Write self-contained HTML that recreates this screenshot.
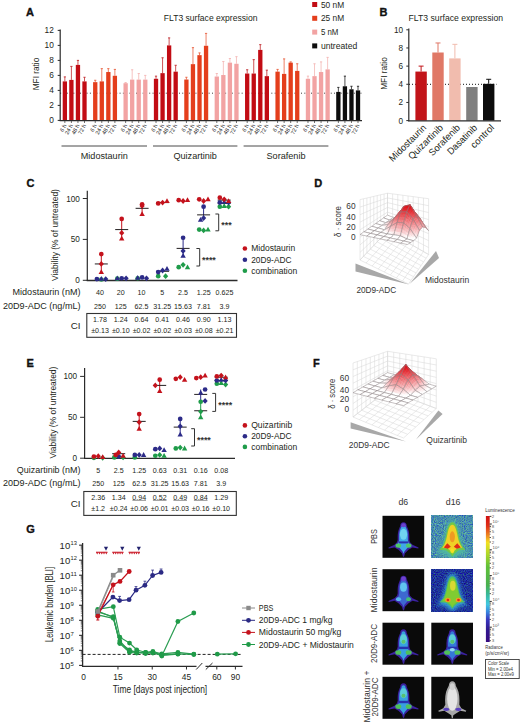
<!DOCTYPE html>
<html><head><meta charset="utf-8"><title>Figure</title>
<style>
html,body{margin:0;padding:0;background:#fff;}
svg{display:block;font-family:"Liberation Sans", sans-serif;}
</style></head>
<body>
<svg width="520" height="724" viewBox="0 0 520 724">
<rect width="520" height="724" fill="#fff"/>

<defs>
<linearGradient id="cbar" x1="0" y1="0" x2="0" y2="1">
<stop offset="0" stop-color="#d01010"/>
<stop offset="0.08" stop-color="#e03018"/>
<stop offset="0.16" stop-color="#f09020"/>
<stop offset="0.21" stop-color="#f4e020"/>
<stop offset="0.3" stop-color="#b0d828"/>
<stop offset="0.4" stop-color="#60c038"/>
<stop offset="0.55" stop-color="#48b050"/>
<stop offset="0.62" stop-color="#38b898"/>
<stop offset="0.7" stop-color="#40c8e0"/>
<stop offset="0.76" stop-color="#3888e0"/>
<stop offset="0.82" stop-color="#3838c0"/>
<stop offset="0.9" stop-color="#301890"/>
<stop offset="1" stop-color="#380a80"/>
</linearGradient>
<clipPath id="mclip"><rect x="0" y="0" width="41.7" height="42"/></clipPath>
<filter id="bl1" x="-20%" y="-20%" width="140%" height="140%"><feGaussianBlur stdDeviation="0.55"/></filter>
<filter id="bl2" x="-20%" y="-20%" width="140%" height="140%"><feGaussianBlur stdDeviation="1.6"/></filter>
<filter id="nzA" x="0" y="0" width="100%" height="100%" color-interpolation-filters="sRGB"><feTurbulence type="fractalNoise" baseFrequency="0.9" numOctaves="1" seed="4"/>
<feColorMatrix type="matrix" values="0.5 0 0 0 0.03  0.9 0 0 0 0.1  -0.3 0.5 0 0 0.58  0 0 0 0 1"/></filter>
<filter id="nzB" x="0" y="0" width="100%" height="100%" color-interpolation-filters="sRGB"><feTurbulence type="fractalNoise" baseFrequency="0.9" numOctaves="1" seed="7"/>
<feColorMatrix type="matrix" values="0.2 0 0 0 0.02  0.8 0 0 0 -0.2  0 0.6 0 0 0.3  0 0 0 0 1"/></filter>
</defs>

<text x="26.00" y="15.50" font-size="11" font-weight="bold" fill="#111" stroke="#111" stroke-width="0.35">A</text>
<text x="163.80" y="21.00" font-size="8.6" fill="#231f20" textLength="93.7" lengthAdjust="spacingAndGlyphs">FLT3 surface expression</text>
<line x1="60.20" y1="29.50" x2="60.20" y2="121.00" stroke="#2b2b2b" stroke-width="1.2" />
<line x1="57.70" y1="120.40" x2="60.20" y2="120.40" stroke="#2b2b2b" stroke-width="1" />
<text x="53.80" y="123.30" font-size="8.3" fill="#231f20" text-anchor="end">0</text>
<line x1="57.70" y1="105.40" x2="60.20" y2="105.40" stroke="#2b2b2b" stroke-width="1" />
<text x="53.80" y="108.30" font-size="8.3" fill="#231f20" text-anchor="end">2</text>
<line x1="57.70" y1="90.40" x2="60.20" y2="90.40" stroke="#2b2b2b" stroke-width="1" />
<text x="53.80" y="93.30" font-size="8.3" fill="#231f20" text-anchor="end">4</text>
<line x1="57.70" y1="75.40" x2="60.20" y2="75.40" stroke="#2b2b2b" stroke-width="1" />
<text x="53.80" y="78.30" font-size="8.3" fill="#231f20" text-anchor="end">6</text>
<line x1="57.70" y1="60.40" x2="60.20" y2="60.40" stroke="#2b2b2b" stroke-width="1" />
<text x="53.80" y="63.30" font-size="8.3" fill="#231f20" text-anchor="end">8</text>
<line x1="57.70" y1="45.40" x2="60.20" y2="45.40" stroke="#2b2b2b" stroke-width="1" />
<text x="53.80" y="48.30" font-size="8.3" fill="#231f20" text-anchor="end">10</text>
<line x1="57.70" y1="30.40" x2="60.20" y2="30.40" stroke="#2b2b2b" stroke-width="1" />
<text x="53.80" y="33.30" font-size="8.3" fill="#231f20" text-anchor="end">12</text>
<text x="39.30" y="74.00" font-size="9.4" fill="#231f20" text-anchor="middle" textLength="32.5" lengthAdjust="spacingAndGlyphs" transform="rotate(-90 39.30 74.00)">MFI ratio</text>
<line x1="60.20" y1="93.20" x2="362.00" y2="93.20" stroke="#111" stroke-width="0.9" stroke-dasharray="0.9 2.4"/>
<line x1="64.85" y1="81.40" x2="64.85" y2="76.90" stroke="#c0282c" stroke-width="0.8" />
<line x1="63.75" y1="76.90" x2="65.95" y2="76.90" stroke="#c0282c" stroke-width="0.9" />
<rect x="62.70" y="81.40" width="4.30" height="39.00" fill="#c20c14" />
<line x1="64.85" y1="120.40" x2="64.85" y2="123.00" stroke="#333" stroke-width="0.7" />
<text x="66.65" y="125.40" font-size="5.6" fill="#222" text-anchor="end" transform="rotate(-62 66.65 125.40)">6 h</text>
<line x1="71.40" y1="79.90" x2="71.40" y2="66.40" stroke="#c0282c" stroke-width="0.8" />
<line x1="70.30" y1="66.40" x2="72.50" y2="66.40" stroke="#c0282c" stroke-width="0.9" />
<rect x="69.25" y="79.90" width="4.30" height="40.50" fill="#c20c14" />
<line x1="71.40" y1="120.40" x2="71.40" y2="123.00" stroke="#333" stroke-width="0.7" />
<text x="73.20" y="125.40" font-size="5.6" fill="#222" text-anchor="end" transform="rotate(-62 73.20 125.40)">24 h</text>
<line x1="77.95" y1="64.90" x2="77.95" y2="60.40" stroke="#c0282c" stroke-width="0.8" />
<line x1="76.85" y1="60.40" x2="79.05" y2="60.40" stroke="#c0282c" stroke-width="0.9" />
<rect x="75.80" y="64.90" width="4.30" height="55.50" fill="#c20c14" />
<line x1="77.95" y1="120.40" x2="77.95" y2="123.00" stroke="#333" stroke-width="0.7" />
<text x="79.75" y="125.40" font-size="5.6" fill="#222" text-anchor="end" transform="rotate(-62 79.75 125.40)">48 h</text>
<line x1="84.50" y1="81.40" x2="84.50" y2="77.28" stroke="#c0282c" stroke-width="0.8" />
<line x1="83.40" y1="77.28" x2="85.60" y2="77.28" stroke="#c0282c" stroke-width="0.9" />
<rect x="82.35" y="81.40" width="4.30" height="39.00" fill="#c20c14" />
<line x1="84.50" y1="120.40" x2="84.50" y2="123.00" stroke="#333" stroke-width="0.7" />
<text x="86.30" y="125.40" font-size="5.6" fill="#222" text-anchor="end" transform="rotate(-62 86.30 125.40)">72 h</text>
<line x1="95.24" y1="82.15" x2="95.24" y2="80.28" stroke="#e8603f" stroke-width="0.8" />
<line x1="94.14" y1="80.28" x2="96.34" y2="80.28" stroke="#e8603f" stroke-width="0.9" />
<rect x="93.09" y="82.15" width="4.30" height="38.25" fill="#e43e1c" />
<line x1="95.24" y1="120.40" x2="95.24" y2="123.00" stroke="#333" stroke-width="0.7" />
<text x="97.04" y="125.40" font-size="5.6" fill="#222" text-anchor="end" transform="rotate(-62 97.04 125.40)">6 h</text>
<line x1="101.79" y1="81.40" x2="101.79" y2="68.65" stroke="#e8603f" stroke-width="0.8" />
<line x1="100.69" y1="68.65" x2="102.89" y2="68.65" stroke="#e8603f" stroke-width="0.9" />
<rect x="99.64" y="81.40" width="4.30" height="39.00" fill="#e43e1c" />
<line x1="101.79" y1="120.40" x2="101.79" y2="123.00" stroke="#333" stroke-width="0.7" />
<text x="103.59" y="125.40" font-size="5.6" fill="#222" text-anchor="end" transform="rotate(-62 103.59 125.40)">24 h</text>
<line x1="108.34" y1="72.03" x2="108.34" y2="68.65" stroke="#e8603f" stroke-width="0.8" />
<line x1="107.24" y1="68.65" x2="109.44" y2="68.65" stroke="#e8603f" stroke-width="0.9" />
<rect x="106.19" y="72.03" width="4.30" height="48.38" fill="#e43e1c" />
<line x1="108.34" y1="120.40" x2="108.34" y2="123.00" stroke="#333" stroke-width="0.7" />
<text x="110.14" y="125.40" font-size="5.6" fill="#222" text-anchor="end" transform="rotate(-62 110.14 125.40)">48 h</text>
<line x1="114.89" y1="75.78" x2="114.89" y2="69.40" stroke="#e8603f" stroke-width="0.8" />
<line x1="113.79" y1="69.40" x2="115.99" y2="69.40" stroke="#e8603f" stroke-width="0.9" />
<rect x="112.74" y="75.78" width="4.30" height="44.62" fill="#e43e1c" />
<line x1="114.89" y1="120.40" x2="114.89" y2="123.00" stroke="#333" stroke-width="0.7" />
<text x="116.69" y="125.40" font-size="5.6" fill="#222" text-anchor="end" transform="rotate(-62 116.69 125.40)">72 h</text>
<line x1="125.63" y1="83.20" x2="125.63" y2="82.53" stroke="#f4b6b4" stroke-width="0.8" />
<line x1="124.53" y1="82.53" x2="126.73" y2="82.53" stroke="#f4b6b4" stroke-width="0.9" />
<rect x="123.48" y="83.20" width="4.30" height="37.20" fill="#f2a3a3" />
<line x1="125.63" y1="120.40" x2="125.63" y2="123.00" stroke="#333" stroke-width="0.7" />
<text x="127.43" y="125.40" font-size="5.6" fill="#222" text-anchor="end" transform="rotate(-62 127.43 125.40)">6 h</text>
<line x1="132.18" y1="79.60" x2="132.18" y2="69.78" stroke="#f4b6b4" stroke-width="0.8" />
<line x1="131.08" y1="69.78" x2="133.28" y2="69.78" stroke="#f4b6b4" stroke-width="0.9" />
<rect x="130.03" y="79.60" width="4.30" height="40.80" fill="#f2a3a3" />
<line x1="132.18" y1="120.40" x2="132.18" y2="123.00" stroke="#333" stroke-width="0.7" />
<text x="133.98" y="125.40" font-size="5.6" fill="#222" text-anchor="end" transform="rotate(-62 133.98 125.40)">24 h</text>
<line x1="138.73" y1="79.60" x2="138.73" y2="73.53" stroke="#f4b6b4" stroke-width="0.8" />
<line x1="137.63" y1="73.53" x2="139.83" y2="73.53" stroke="#f4b6b4" stroke-width="0.9" />
<rect x="136.58" y="79.60" width="4.30" height="40.80" fill="#f2a3a3" />
<line x1="138.73" y1="120.40" x2="138.73" y2="123.00" stroke="#333" stroke-width="0.7" />
<text x="140.53" y="125.40" font-size="5.6" fill="#222" text-anchor="end" transform="rotate(-62 140.53 125.40)">48 h</text>
<line x1="145.28" y1="79.60" x2="145.28" y2="75.40" stroke="#f4b6b4" stroke-width="0.8" />
<line x1="144.18" y1="75.40" x2="146.38" y2="75.40" stroke="#f4b6b4" stroke-width="0.9" />
<rect x="143.13" y="79.60" width="4.30" height="40.80" fill="#f2a3a3" />
<line x1="145.28" y1="120.40" x2="145.28" y2="123.00" stroke="#333" stroke-width="0.7" />
<text x="147.08" y="125.40" font-size="5.6" fill="#222" text-anchor="end" transform="rotate(-62 147.08 125.40)">72 h</text>
<line x1="156.02" y1="78.78" x2="156.02" y2="76.15" stroke="#c0282c" stroke-width="0.8" />
<line x1="154.92" y1="76.15" x2="157.12" y2="76.15" stroke="#c0282c" stroke-width="0.9" />
<rect x="153.87" y="78.78" width="4.30" height="41.62" fill="#c20c14" />
<line x1="156.02" y1="120.40" x2="156.02" y2="123.00" stroke="#333" stroke-width="0.7" />
<text x="157.82" y="125.40" font-size="5.6" fill="#222" text-anchor="end" transform="rotate(-62 157.82 125.40)">6 h</text>
<line x1="162.57" y1="73.15" x2="162.57" y2="57.78" stroke="#c0282c" stroke-width="0.8" />
<line x1="161.47" y1="57.78" x2="163.67" y2="57.78" stroke="#c0282c" stroke-width="0.9" />
<rect x="160.42" y="73.15" width="4.30" height="47.25" fill="#c20c14" />
<line x1="162.57" y1="120.40" x2="162.57" y2="123.00" stroke="#333" stroke-width="0.7" />
<text x="164.37" y="125.40" font-size="5.6" fill="#222" text-anchor="end" transform="rotate(-62 164.37 125.40)">24 h</text>
<line x1="169.12" y1="45.40" x2="169.12" y2="37.90" stroke="#c0282c" stroke-width="0.8" />
<line x1="168.02" y1="37.90" x2="170.22" y2="37.90" stroke="#c0282c" stroke-width="0.9" />
<rect x="166.97" y="45.40" width="4.30" height="75.00" fill="#c20c14" />
<line x1="169.12" y1="120.40" x2="169.12" y2="123.00" stroke="#333" stroke-width="0.7" />
<text x="170.92" y="125.40" font-size="5.6" fill="#222" text-anchor="end" transform="rotate(-62 170.92 125.40)">48 h</text>
<line x1="175.67" y1="71.65" x2="175.67" y2="65.28" stroke="#c0282c" stroke-width="0.8" />
<line x1="174.57" y1="65.28" x2="176.77" y2="65.28" stroke="#c0282c" stroke-width="0.9" />
<rect x="173.52" y="71.65" width="4.30" height="48.75" fill="#c20c14" />
<line x1="175.67" y1="120.40" x2="175.67" y2="123.00" stroke="#333" stroke-width="0.7" />
<text x="177.47" y="125.40" font-size="5.6" fill="#222" text-anchor="end" transform="rotate(-62 177.47 125.40)">72 h</text>
<line x1="186.41" y1="79.53" x2="186.41" y2="77.28" stroke="#e8603f" stroke-width="0.8" />
<line x1="185.31" y1="77.28" x2="187.51" y2="77.28" stroke="#e8603f" stroke-width="0.9" />
<rect x="184.26" y="79.53" width="4.30" height="40.88" fill="#e43e1c" />
<line x1="186.41" y1="120.40" x2="186.41" y2="123.00" stroke="#333" stroke-width="0.7" />
<text x="188.21" y="125.40" font-size="5.6" fill="#222" text-anchor="end" transform="rotate(-62 188.21 125.40)">6 h</text>
<line x1="192.96" y1="64.15" x2="192.96" y2="47.65" stroke="#e8603f" stroke-width="0.8" />
<line x1="191.86" y1="47.65" x2="194.06" y2="47.65" stroke="#e8603f" stroke-width="0.9" />
<rect x="190.81" y="64.15" width="4.30" height="56.25" fill="#e43e1c" />
<line x1="192.96" y1="120.40" x2="192.96" y2="123.00" stroke="#333" stroke-width="0.7" />
<text x="194.76" y="125.40" font-size="5.6" fill="#222" text-anchor="end" transform="rotate(-62 194.76 125.40)">24 h</text>
<line x1="199.51" y1="55.15" x2="199.51" y2="52.90" stroke="#e8603f" stroke-width="0.8" />
<line x1="198.41" y1="52.90" x2="200.61" y2="52.90" stroke="#e8603f" stroke-width="0.9" />
<rect x="197.36" y="55.15" width="4.30" height="65.25" fill="#e43e1c" />
<line x1="199.51" y1="120.40" x2="199.51" y2="123.00" stroke="#333" stroke-width="0.7" />
<text x="201.31" y="125.40" font-size="5.6" fill="#222" text-anchor="end" transform="rotate(-62 201.31 125.40)">48 h</text>
<line x1="206.06" y1="45.78" x2="206.06" y2="33.40" stroke="#e8603f" stroke-width="0.8" />
<line x1="204.96" y1="33.40" x2="207.16" y2="33.40" stroke="#e8603f" stroke-width="0.9" />
<rect x="203.91" y="45.78" width="4.30" height="74.62" fill="#e43e1c" />
<line x1="206.06" y1="120.40" x2="206.06" y2="123.00" stroke="#333" stroke-width="0.7" />
<text x="207.86" y="125.40" font-size="5.6" fill="#222" text-anchor="end" transform="rotate(-62 207.86 125.40)">72 h</text>
<line x1="216.80" y1="76.53" x2="216.80" y2="73.53" stroke="#f4b6b4" stroke-width="0.8" />
<line x1="215.70" y1="73.53" x2="217.90" y2="73.53" stroke="#f4b6b4" stroke-width="0.9" />
<rect x="214.65" y="76.53" width="4.30" height="43.88" fill="#f2a3a3" />
<line x1="216.80" y1="120.40" x2="216.80" y2="123.00" stroke="#333" stroke-width="0.7" />
<text x="218.60" y="125.40" font-size="5.6" fill="#222" text-anchor="end" transform="rotate(-62 218.60 125.40)">6 h</text>
<line x1="223.35" y1="75.03" x2="223.35" y2="61.53" stroke="#f4b6b4" stroke-width="0.8" />
<line x1="222.25" y1="61.53" x2="224.45" y2="61.53" stroke="#f4b6b4" stroke-width="0.9" />
<rect x="221.20" y="75.03" width="4.30" height="45.38" fill="#f2a3a3" />
<line x1="223.35" y1="120.40" x2="223.35" y2="123.00" stroke="#333" stroke-width="0.7" />
<text x="225.15" y="125.40" font-size="5.6" fill="#222" text-anchor="end" transform="rotate(-62 225.15 125.40)">24 h</text>
<line x1="229.90" y1="62.65" x2="229.90" y2="58.53" stroke="#f4b6b4" stroke-width="0.8" />
<line x1="228.80" y1="58.53" x2="231.00" y2="58.53" stroke="#f4b6b4" stroke-width="0.9" />
<rect x="227.75" y="62.65" width="4.30" height="57.75" fill="#f2a3a3" />
<line x1="229.90" y1="120.40" x2="229.90" y2="123.00" stroke="#333" stroke-width="0.7" />
<text x="231.70" y="125.40" font-size="5.6" fill="#222" text-anchor="end" transform="rotate(-62 231.70 125.40)">48 h</text>
<line x1="236.45" y1="63.78" x2="236.45" y2="56.65" stroke="#f4b6b4" stroke-width="0.8" />
<line x1="235.35" y1="56.65" x2="237.55" y2="56.65" stroke="#f4b6b4" stroke-width="0.9" />
<rect x="234.30" y="63.78" width="4.30" height="56.62" fill="#f2a3a3" />
<line x1="236.45" y1="120.40" x2="236.45" y2="123.00" stroke="#333" stroke-width="0.7" />
<text x="238.25" y="125.40" font-size="5.6" fill="#222" text-anchor="end" transform="rotate(-62 238.25 125.40)">72 h</text>
<line x1="247.19" y1="73.53" x2="247.19" y2="69.78" stroke="#c0282c" stroke-width="0.8" />
<line x1="246.09" y1="69.78" x2="248.29" y2="69.78" stroke="#c0282c" stroke-width="0.9" />
<rect x="245.04" y="73.53" width="4.30" height="46.88" fill="#c20c14" />
<line x1="247.19" y1="120.40" x2="247.19" y2="123.00" stroke="#333" stroke-width="0.7" />
<text x="248.99" y="125.40" font-size="5.6" fill="#222" text-anchor="end" transform="rotate(-62 248.99 125.40)">6 h</text>
<line x1="253.74" y1="73.53" x2="253.74" y2="59.65" stroke="#c0282c" stroke-width="0.8" />
<line x1="252.64" y1="59.65" x2="254.84" y2="59.65" stroke="#c0282c" stroke-width="0.9" />
<rect x="251.59" y="73.53" width="4.30" height="46.88" fill="#c20c14" />
<line x1="253.74" y1="120.40" x2="253.74" y2="123.00" stroke="#333" stroke-width="0.7" />
<text x="255.54" y="125.40" font-size="5.6" fill="#222" text-anchor="end" transform="rotate(-62 255.54 125.40)">24 h</text>
<line x1="260.29" y1="49.90" x2="260.29" y2="44.65" stroke="#c0282c" stroke-width="0.8" />
<line x1="259.19" y1="44.65" x2="261.39" y2="44.65" stroke="#c0282c" stroke-width="0.9" />
<rect x="258.14" y="49.90" width="4.30" height="70.50" fill="#c20c14" />
<line x1="260.29" y1="120.40" x2="260.29" y2="123.00" stroke="#333" stroke-width="0.7" />
<text x="262.09" y="125.40" font-size="5.6" fill="#222" text-anchor="end" transform="rotate(-62 262.09 125.40)">48 h</text>
<line x1="266.84" y1="76.15" x2="266.84" y2="70.15" stroke="#c0282c" stroke-width="0.8" />
<line x1="265.74" y1="70.15" x2="267.94" y2="70.15" stroke="#c0282c" stroke-width="0.9" />
<rect x="264.69" y="76.15" width="4.30" height="44.25" fill="#c20c14" />
<line x1="266.84" y1="120.40" x2="266.84" y2="123.00" stroke="#333" stroke-width="0.7" />
<text x="268.64" y="125.40" font-size="5.6" fill="#222" text-anchor="end" transform="rotate(-62 268.64 125.40)">72 h</text>
<line x1="277.58" y1="71.65" x2="277.58" y2="69.40" stroke="#e8603f" stroke-width="0.8" />
<line x1="276.48" y1="69.40" x2="278.68" y2="69.40" stroke="#e8603f" stroke-width="0.9" />
<rect x="275.43" y="71.65" width="4.30" height="48.75" fill="#e43e1c" />
<line x1="277.58" y1="120.40" x2="277.58" y2="123.00" stroke="#333" stroke-width="0.7" />
<text x="279.38" y="125.40" font-size="5.6" fill="#222" text-anchor="end" transform="rotate(-62 279.38 125.40)">6 h</text>
<line x1="284.13" y1="73.90" x2="284.13" y2="58.90" stroke="#e8603f" stroke-width="0.8" />
<line x1="283.03" y1="58.90" x2="285.23" y2="58.90" stroke="#e8603f" stroke-width="0.9" />
<rect x="281.98" y="73.90" width="4.30" height="46.50" fill="#e43e1c" />
<line x1="284.13" y1="120.40" x2="284.13" y2="123.00" stroke="#333" stroke-width="0.7" />
<text x="285.93" y="125.40" font-size="5.6" fill="#222" text-anchor="end" transform="rotate(-62 285.93 125.40)">24 h</text>
<line x1="290.68" y1="62.65" x2="290.68" y2="61.90" stroke="#e8603f" stroke-width="0.8" />
<line x1="289.58" y1="61.90" x2="291.78" y2="61.90" stroke="#e8603f" stroke-width="0.9" />
<rect x="288.53" y="62.65" width="4.30" height="57.75" fill="#e43e1c" />
<line x1="290.68" y1="120.40" x2="290.68" y2="123.00" stroke="#333" stroke-width="0.7" />
<text x="292.48" y="125.40" font-size="5.6" fill="#222" text-anchor="end" transform="rotate(-62 292.48 125.40)">48 h</text>
<line x1="297.23" y1="70.90" x2="297.23" y2="63.78" stroke="#e8603f" stroke-width="0.8" />
<line x1="296.13" y1="63.78" x2="298.33" y2="63.78" stroke="#e8603f" stroke-width="0.9" />
<rect x="295.08" y="70.90" width="4.30" height="49.50" fill="#e43e1c" />
<line x1="297.23" y1="120.40" x2="297.23" y2="123.00" stroke="#333" stroke-width="0.7" />
<text x="299.03" y="125.40" font-size="5.6" fill="#222" text-anchor="end" transform="rotate(-62 299.03 125.40)">72 h</text>
<line x1="307.97" y1="78.78" x2="307.97" y2="76.15" stroke="#f4b6b4" stroke-width="0.8" />
<line x1="306.87" y1="76.15" x2="309.07" y2="76.15" stroke="#f4b6b4" stroke-width="0.9" />
<rect x="305.82" y="78.78" width="4.30" height="41.62" fill="#f2a3a3" />
<line x1="307.97" y1="120.40" x2="307.97" y2="123.00" stroke="#333" stroke-width="0.7" />
<text x="309.77" y="125.40" font-size="5.6" fill="#222" text-anchor="end" transform="rotate(-62 309.77 125.40)">6 h</text>
<line x1="314.52" y1="76.15" x2="314.52" y2="63.78" stroke="#f4b6b4" stroke-width="0.8" />
<line x1="313.42" y1="63.78" x2="315.62" y2="63.78" stroke="#f4b6b4" stroke-width="0.9" />
<rect x="312.37" y="76.15" width="4.30" height="44.25" fill="#f2a3a3" />
<line x1="314.52" y1="120.40" x2="314.52" y2="123.00" stroke="#333" stroke-width="0.7" />
<text x="316.32" y="125.40" font-size="5.6" fill="#222" text-anchor="end" transform="rotate(-62 316.32 125.40)">24 h</text>
<line x1="321.07" y1="72.03" x2="321.07" y2="61.90" stroke="#f4b6b4" stroke-width="0.8" />
<line x1="319.97" y1="61.90" x2="322.17" y2="61.90" stroke="#f4b6b4" stroke-width="0.9" />
<rect x="318.92" y="72.03" width="4.30" height="48.38" fill="#f2a3a3" />
<line x1="321.07" y1="120.40" x2="321.07" y2="123.00" stroke="#333" stroke-width="0.7" />
<text x="322.87" y="125.40" font-size="5.6" fill="#222" text-anchor="end" transform="rotate(-62 322.87 125.40)">48 h</text>
<line x1="327.62" y1="69.40" x2="327.62" y2="57.40" stroke="#f4b6b4" stroke-width="0.8" />
<line x1="326.52" y1="57.40" x2="328.72" y2="57.40" stroke="#f4b6b4" stroke-width="0.9" />
<rect x="325.47" y="69.40" width="4.30" height="51.00" fill="#f2a3a3" />
<line x1="327.62" y1="120.40" x2="327.62" y2="123.00" stroke="#333" stroke-width="0.7" />
<text x="329.42" y="125.40" font-size="5.6" fill="#222" text-anchor="end" transform="rotate(-62 329.42 125.40)">72 h</text>
<line x1="338.36" y1="91.90" x2="338.36" y2="87.40" stroke="#222" stroke-width="0.8" />
<line x1="337.26" y1="87.40" x2="339.46" y2="87.40" stroke="#222" stroke-width="0.9" />
<rect x="336.21" y="91.90" width="4.30" height="28.50" fill="#0d0d0d" />
<line x1="338.36" y1="120.40" x2="338.36" y2="123.00" stroke="#333" stroke-width="0.7" />
<text x="340.16" y="125.40" font-size="5.6" fill="#222" text-anchor="end" transform="rotate(-62 340.16 125.40)">6 h</text>
<line x1="344.91" y1="86.28" x2="344.91" y2="76.15" stroke="#222" stroke-width="0.8" />
<line x1="343.81" y1="76.15" x2="346.01" y2="76.15" stroke="#222" stroke-width="0.9" />
<rect x="342.76" y="86.28" width="4.30" height="34.12" fill="#0d0d0d" />
<line x1="344.91" y1="120.40" x2="344.91" y2="123.00" stroke="#333" stroke-width="0.7" />
<text x="346.71" y="125.40" font-size="5.6" fill="#222" text-anchor="end" transform="rotate(-62 346.71 125.40)">24 h</text>
<line x1="351.46" y1="89.28" x2="351.46" y2="86.28" stroke="#222" stroke-width="0.8" />
<line x1="350.36" y1="86.28" x2="352.56" y2="86.28" stroke="#222" stroke-width="0.9" />
<rect x="349.31" y="89.28" width="4.30" height="31.12" fill="#0d0d0d" />
<line x1="351.46" y1="120.40" x2="351.46" y2="123.00" stroke="#333" stroke-width="0.7" />
<text x="353.26" y="125.40" font-size="5.6" fill="#222" text-anchor="end" transform="rotate(-62 353.26 125.40)">48 h</text>
<line x1="358.01" y1="90.40" x2="358.01" y2="86.28" stroke="#222" stroke-width="0.8" />
<line x1="356.91" y1="86.28" x2="359.11" y2="86.28" stroke="#222" stroke-width="0.9" />
<rect x="355.86" y="90.40" width="4.30" height="30.00" fill="#0d0d0d" />
<line x1="358.01" y1="120.40" x2="358.01" y2="123.00" stroke="#333" stroke-width="0.7" />
<text x="359.81" y="125.40" font-size="5.6" fill="#222" text-anchor="end" transform="rotate(-62 359.81 125.40)">72 h</text>
<line x1="59.60" y1="120.70" x2="362.00" y2="120.70" stroke="#2b2b2b" stroke-width="1.3" />
<line x1="61.50" y1="146.00" x2="147.00" y2="146.00" stroke="#4a4a4a" stroke-width="1" />
<text x="104.25" y="159.30" font-size="9.2" fill="#231f20" text-anchor="middle" textLength="47" lengthAdjust="spacingAndGlyphs">Midostaurin</text>
<line x1="153.00" y1="146.00" x2="237.40" y2="146.00" stroke="#4a4a4a" stroke-width="1" />
<text x="195.20" y="159.30" font-size="9.2" fill="#231f20" text-anchor="middle" textLength="43.5" lengthAdjust="spacingAndGlyphs">Quizartinib</text>
<line x1="243.60" y1="146.00" x2="328.40" y2="146.00" stroke="#4a4a4a" stroke-width="1" />
<text x="286.00" y="159.30" font-size="9.2" fill="#231f20" text-anchor="middle" textLength="39" lengthAdjust="spacingAndGlyphs">Sorafenib</text>
<rect x="312.20" y="2.00" width="5.00" height="5.00" fill="#c20c14" />
<text x="320.90" y="7.60" font-size="8.2" fill="#231f20" textLength="23.2" lengthAdjust="spacingAndGlyphs">50 nM</text>
<rect x="312.20" y="15.80" width="5.00" height="5.00" fill="#e43e1c" />
<text x="320.90" y="21.40" font-size="8.2" fill="#231f20" textLength="23.2" lengthAdjust="spacingAndGlyphs">25 nM</text>
<rect x="312.20" y="29.60" width="5.00" height="5.00" fill="#f2a3a3" />
<text x="320.90" y="35.20" font-size="8.2" fill="#231f20" textLength="17.5" lengthAdjust="spacingAndGlyphs">5 nM</text>
<rect x="312.20" y="43.40" width="5.00" height="5.00" fill="#0d0d0d" />
<text x="320.90" y="49.00" font-size="8.2" fill="#231f20" textLength="36.3" lengthAdjust="spacingAndGlyphs">untreated</text>
<text x="379.40" y="15.60" font-size="11" font-weight="bold" fill="#111" stroke="#111" stroke-width="0.35">B</text>
<text x="408.60" y="21.00" font-size="8.6" fill="#231f20" textLength="94.4" lengthAdjust="spacingAndGlyphs">FLT3 surface expression</text>
<line x1="408.80" y1="28.50" x2="408.80" y2="121.20" stroke="#2b2b2b" stroke-width="1.2" />
<line x1="406.30" y1="120.60" x2="408.80" y2="120.60" stroke="#2b2b2b" stroke-width="1" />
<text x="403.00" y="123.50" font-size="8.2" fill="#231f20" text-anchor="end">0</text>
<line x1="406.30" y1="102.44" x2="408.80" y2="102.44" stroke="#2b2b2b" stroke-width="1" />
<text x="403.00" y="105.34" font-size="8.2" fill="#231f20" text-anchor="end">2</text>
<line x1="406.30" y1="84.28" x2="408.80" y2="84.28" stroke="#2b2b2b" stroke-width="1" />
<text x="403.00" y="87.18" font-size="8.2" fill="#231f20" text-anchor="end">4</text>
<line x1="406.30" y1="66.12" x2="408.80" y2="66.12" stroke="#2b2b2b" stroke-width="1" />
<text x="403.00" y="69.02" font-size="8.2" fill="#231f20" text-anchor="end">6</text>
<line x1="406.30" y1="47.96" x2="408.80" y2="47.96" stroke="#2b2b2b" stroke-width="1" />
<text x="403.00" y="50.86" font-size="8.2" fill="#231f20" text-anchor="end">8</text>
<line x1="406.30" y1="29.80" x2="408.80" y2="29.80" stroke="#2b2b2b" stroke-width="1" />
<text x="403.00" y="32.70" font-size="8.2" fill="#231f20" text-anchor="end">10</text>
<text x="387.30" y="73.50" font-size="9.4" fill="#231f20" text-anchor="middle" textLength="32.5" lengthAdjust="spacingAndGlyphs" transform="rotate(-90 387.30 73.50)">MFI ratio</text>
<line x1="409.00" y1="84.30" x2="496.50" y2="84.30" stroke="#111" stroke-width="1.0" stroke-dasharray="1 2"/>
<line x1="421.10" y1="71.57" x2="421.10" y2="66.12" stroke="#c21419" stroke-width="1" />
<line x1="418.60" y1="66.12" x2="423.60" y2="66.12" stroke="#c21419" stroke-width="1" />
<rect x="415.40" y="71.57" width="11.40" height="49.03" fill="#c21419" />
<line x1="438.00" y1="52.50" x2="438.00" y2="42.97" stroke="#e07866" stroke-width="1" />
<line x1="435.50" y1="42.97" x2="440.50" y2="42.97" stroke="#e07866" stroke-width="1" />
<rect x="432.30" y="52.50" width="11.40" height="68.10" fill="#e07866" />
<line x1="454.90" y1="58.40" x2="454.90" y2="44.33" stroke="#f1bcae" stroke-width="1" />
<line x1="452.40" y1="44.33" x2="457.40" y2="44.33" stroke="#f1bcae" stroke-width="1" />
<rect x="449.20" y="58.40" width="11.40" height="62.20" fill="#f1bcae" />
<rect x="466.20" y="87.00" width="11.40" height="33.60" fill="#7f7f7f" />
<line x1="488.70" y1="83.83" x2="488.70" y2="79.29" stroke="#0c0c0c" stroke-width="1" />
<line x1="486.20" y1="79.29" x2="491.20" y2="79.29" stroke="#0c0c0c" stroke-width="1" />
<rect x="483.00" y="83.83" width="11.40" height="36.77" fill="#0c0c0c" />
<line x1="408.20" y1="120.90" x2="501.00" y2="120.90" stroke="#2b2b2b" stroke-width="1.3" />
<text x="426.80" y="128.30" font-size="9.5" fill="#231f20" text-anchor="end" textLength="48" lengthAdjust="spacingAndGlyphs" transform="rotate(-45 426.80 128.30)">Midostaurin</text>
<text x="443.80" y="128.30" font-size="9.5" fill="#231f20" text-anchor="end" textLength="45" lengthAdjust="spacingAndGlyphs" transform="rotate(-45 443.80 128.30)">Quizartinib</text>
<text x="460.80" y="128.30" font-size="9.5" fill="#231f20" text-anchor="end" textLength="40" lengthAdjust="spacingAndGlyphs" transform="rotate(-45 460.80 128.30)">Sorafenib</text>
<text x="477.80" y="128.30" font-size="9.5" fill="#231f20" text-anchor="end" textLength="38" lengthAdjust="spacingAndGlyphs" transform="rotate(-45 477.80 128.30)">Dasatinib</text>
<text x="494.80" y="128.30" font-size="9.5" fill="#231f20" text-anchor="end" textLength="29" lengthAdjust="spacingAndGlyphs" transform="rotate(-45 494.80 128.30)">control</text>
<text x="26.50" y="187.30" font-size="11" font-weight="bold" fill="#111" stroke="#111" stroke-width="0.35">C</text>
<line x1="87.30" y1="190.80" x2="87.30" y2="280.80" stroke="#2b2b2b" stroke-width="1.2" />
<line x1="82.80" y1="280.30" x2="87.30" y2="280.30" stroke="#2b2b2b" stroke-width="1" />
<text x="79.80" y="283.30" font-size="8.2" fill="#231f20" text-anchor="end">0</text>
<line x1="82.80" y1="239.40" x2="87.30" y2="239.40" stroke="#2b2b2b" stroke-width="1" />
<text x="79.80" y="242.40" font-size="8.2" fill="#231f20" text-anchor="end">50</text>
<line x1="82.80" y1="198.50" x2="87.30" y2="198.50" stroke="#2b2b2b" stroke-width="1" />
<text x="79.80" y="201.50" font-size="8.2" fill="#231f20" text-anchor="end">100</text>
<text x="58.30" y="235.05" font-size="9.8" fill="#231f20" text-anchor="middle" textLength="92" lengthAdjust="spacingAndGlyphs" transform="rotate(-90 58.30 235.05)">Viability (% of untreated)</text>
<line x1="86.70" y1="280.50" x2="237.50" y2="280.50" stroke="#2b2b2b" stroke-width="1.3" />
<line x1="101.30" y1="272.12" x2="101.30" y2="254.12" stroke="#c4121c" stroke-width="1" />
<line x1="94.80" y1="263.94" x2="107.80" y2="263.94" stroke="#231f20" stroke-width="1" />
<line x1="121.70" y1="238.58" x2="121.70" y2="218.95" stroke="#c4121c" stroke-width="1" />
<line x1="115.20" y1="229.58" x2="128.20" y2="229.58" stroke="#231f20" stroke-width="1" />
<line x1="142.10" y1="214.04" x2="142.10" y2="204.23" stroke="#c4121c" stroke-width="1" />
<line x1="135.60" y1="208.32" x2="148.60" y2="208.32" stroke="#231f20" stroke-width="1" />
<line x1="156.10" y1="202.59" x2="169.10" y2="202.59" stroke="#231f20" stroke-width="1" />
<line x1="183.10" y1="255.76" x2="183.10" y2="237.76" stroke="#2c2b88" stroke-width="1" />
<line x1="176.60" y1="248.40" x2="189.60" y2="248.40" stroke="#231f20" stroke-width="1" />
<line x1="203.60" y1="219.77" x2="203.60" y2="206.68" stroke="#2c2b88" stroke-width="1" />
<line x1="197.10" y1="214.86" x2="210.10" y2="214.86" stroke="#231f20" stroke-width="1" />
<line x1="156.10" y1="271.30" x2="169.10" y2="271.30" stroke="#231f20" stroke-width="1" />
<line x1="217.70" y1="200.14" x2="230.70" y2="200.14" stroke="#231f20" stroke-width="1" />
<line x1="217.70" y1="203.41" x2="230.70" y2="203.41" stroke="#231f20" stroke-width="1" />
<circle cx="96.90" cy="279.07" r="2.35" fill="#2c2b88" />
<polygon points="105.7,276.2 108.3,279.1 105.7,282.0 103.1,279.1" fill="#2c2b88" />
<circle cx="101.30" cy="279.48" r="2.35" fill="#1f9c4a" />
<polygon points="101.3,275.9 104.0,280.7 98.6,280.7" fill="#2c2b88" />
<circle cx="101.30" cy="254.12" r="2.35" fill="#c4121c" />
<polygon points="101.3,261.0 103.9,263.9 101.3,266.8 98.7,263.9" fill="#c4121c" />
<polygon points="101.3,269.3 104.0,274.1 98.6,274.1" fill="#c4121c" />
<circle cx="117.30" cy="278.66" r="2.35" fill="#1f9c4a" />
<circle cx="121.70" cy="278.25" r="2.35" fill="#2c2b88" />
<polygon points="126.1,275.4 128.7,278.3 126.1,281.2 123.5,278.3" fill="#2c2b88" />
<polygon points="117.3,275.5 120.0,280.3 114.6,280.3" fill="#2c2b88" />
<circle cx="121.70" cy="218.95" r="2.35" fill="#c4121c" />
<polygon points="121.7,230.0 124.3,232.9 121.7,235.8 119.1,232.9" fill="#c4121c" />
<polygon points="121.7,235.8 124.4,240.6 119.0,240.6" fill="#c4121c" />
<circle cx="137.70" cy="278.25" r="2.35" fill="#1f9c4a" />
<circle cx="142.10" cy="277.44" r="2.35" fill="#2c2b88" />
<polygon points="146.5,275.4 149.1,278.3 146.5,281.2 143.9,278.3" fill="#2c2b88" />
<polygon points="137.7,275.0 140.4,279.8 135.0,279.8" fill="#2c2b88" />
<circle cx="142.10" cy="204.23" r="2.35" fill="#c4121c" />
<polygon points="142.1,203.0 144.7,205.9 142.1,208.8 139.5,205.9" fill="#c4121c" />
<polygon points="142.1,211.2 144.8,216.0 139.4,216.0" fill="#c4121c" />
<circle cx="158.20" cy="276.21" r="2.35" fill="#1f9c4a" />
<polygon points="165.6,273.3 168.2,276.2 165.6,279.1 163.0,276.2" fill="#1f9c4a" />
<circle cx="158.20" cy="272.12" r="2.35" fill="#2c2b88" />
<polygon points="162.6,267.6 165.2,270.5 162.6,273.4 160.0,270.5" fill="#2c2b88" />
<polygon points="167.0,266.0 169.7,270.8 164.3,270.8" fill="#2c2b88" />
<circle cx="158.20" cy="203.41" r="2.35" fill="#c4121c" />
<polygon points="162.6,199.7 165.2,202.6 162.6,205.5 160.0,202.6" fill="#c4121c" />
<polygon points="167.0,198.2 169.7,203.0 164.3,203.0" fill="#c4121c" />
<circle cx="178.70" cy="267.21" r="2.35" fill="#1f9c4a" />
<polygon points="183.1,261.9 185.7,264.8 183.1,267.7 180.5,264.8" fill="#1f9c4a" />
<polygon points="187.5,264.4 190.2,269.2 184.8,269.2" fill="#1f9c4a" />
<circle cx="183.10" cy="237.76" r="2.35" fill="#2c2b88" />
<polygon points="183.1,248.0 185.7,250.9 183.1,253.8 180.5,250.9" fill="#2c2b88" />
<polygon points="183.1,253.0 185.8,257.8 180.4,257.8" fill="#2c2b88" />
<circle cx="178.70" cy="200.14" r="2.35" fill="#c4121c" />
<polygon points="183.1,198.1 185.7,201.0 183.1,203.9 180.5,201.0" fill="#c4121c" />
<polygon points="187.5,197.3 190.2,202.1 184.8,202.1" fill="#c4121c" />
<circle cx="199.20" cy="229.58" r="2.35" fill="#1f9c4a" />
<polygon points="203.6,227.5 206.2,230.4 203.6,233.3 201.0,230.4" fill="#1f9c4a" />
<polygon points="208.0,226.8 210.7,231.6 205.3,231.6" fill="#1f9c4a" />
<circle cx="203.60" cy="206.68" r="2.35" fill="#2c2b88" />
<polygon points="203.6,215.2 206.2,218.1 203.6,221.0 201.0,218.1" fill="#2c2b88" />
<polygon points="200.6,217.0 203.3,221.8 197.9,221.8" fill="#2c2b88" />
<circle cx="199.20" cy="199.32" r="2.35" fill="#c4121c" />
<polygon points="203.6,198.1 206.2,201.0 203.6,203.9 201.0,201.0" fill="#c4121c" />
<polygon points="208.0,196.5 210.7,201.3 205.3,201.3" fill="#c4121c" />
<circle cx="219.80" cy="206.68" r="2.35" fill="#1f9c4a" />
<polygon points="228.6,203.8 231.2,206.7 228.6,209.6 226.0,206.7" fill="#1f9c4a" />
<polygon points="224.2,203.1 226.9,207.9 221.5,207.9" fill="#1f9c4a" />
<circle cx="219.80" cy="202.59" r="2.35" fill="#2c2b88" />
<polygon points="228.6,199.7 231.2,202.6 228.6,205.5 226.0,202.6" fill="#2c2b88" />
<polygon points="224.2,199.0 226.9,203.8 221.5,203.8" fill="#2c2b88" />
<circle cx="219.80" cy="197.68" r="2.35" fill="#c4121c" />
<polygon points="224.2,196.4 226.8,199.3 224.2,202.2 221.6,199.3" fill="#c4121c" />
<polygon points="228.6,198.2 231.3,203.0 225.9,203.0" fill="#c4121c" />
<polyline points="196.4,248.5 199.7,248.5 199.7,266.0 196.4,266.0" fill="none" stroke="#333" stroke-width="1" />
<text x="202.00" y="262.85" font-size="9.5" fill="#333" font-weight="bold" textLength="13.8" lengthAdjust="spacingAndGlyphs">****</text>
<polyline points="215.4,214.0 218.7,214.0 218.7,230.8 215.4,230.8" fill="none" stroke="#333" stroke-width="1" />
<text x="221.30" y="228.00" font-size="9.5" fill="#333" font-weight="bold" textLength="10.350000000000001" lengthAdjust="spacingAndGlyphs">***</text>
<circle cx="244.90" cy="248.50" r="2.3" fill="#c4121c" />
<text x="251.20" y="251.40" font-size="8.3" fill="#231f20" textLength="44" lengthAdjust="spacingAndGlyphs">Midostaurin</text>
<circle cx="244.90" cy="259.70" r="2.3" fill="#2c2b88" />
<text x="251.20" y="262.60" font-size="8.3" fill="#231f20" textLength="40.3" lengthAdjust="spacingAndGlyphs">20D9-ADC</text>
<circle cx="244.90" cy="270.80" r="2.3" fill="#1f9c4a" />
<text x="251.20" y="273.70" font-size="8.3" fill="#231f20" textLength="46" lengthAdjust="spacingAndGlyphs">combination</text>
<text x="80.50" y="294.80" font-size="8.8" fill="#231f20" text-anchor="end" textLength="68" lengthAdjust="spacingAndGlyphs">Midostaurin (nM)</text>
<text x="80.50" y="308.70" font-size="8.8" fill="#231f20" text-anchor="end" textLength="77.5" lengthAdjust="spacingAndGlyphs">20D9-ADC (ng/mL)</text>
<text x="100.00" y="294.75" font-size="7.1" fill="#231f20" text-anchor="middle">40</text>
<text x="120.75" y="294.75" font-size="7.1" fill="#231f20" text-anchor="middle">20</text>
<text x="141.50" y="294.75" font-size="7.1" fill="#231f20" text-anchor="middle">10</text>
<text x="162.25" y="294.75" font-size="7.1" fill="#231f20" text-anchor="middle">5</text>
<text x="183.00" y="294.75" font-size="7.1" fill="#231f20" text-anchor="middle">2.5</text>
<text x="203.75" y="294.75" font-size="7.1" fill="#231f20" text-anchor="middle">1.25</text>
<text x="224.50" y="294.75" font-size="7.1" fill="#231f20" text-anchor="middle">0.625</text>
<text x="100.00" y="308.65" font-size="7.1" fill="#231f20" text-anchor="middle">250</text>
<text x="120.75" y="308.65" font-size="7.1" fill="#231f20" text-anchor="middle">125</text>
<text x="141.50" y="308.65" font-size="7.1" fill="#231f20" text-anchor="middle">62.5</text>
<text x="162.25" y="308.65" font-size="7.1" fill="#231f20" text-anchor="middle">31.25</text>
<text x="183.00" y="308.65" font-size="7.1" fill="#231f20" text-anchor="middle">15.63</text>
<text x="203.75" y="308.65" font-size="7.1" fill="#231f20" text-anchor="middle">7.81</text>
<text x="224.50" y="308.65" font-size="7.1" fill="#231f20" text-anchor="middle">3.9</text>
<rect x="86.8" y="313.5" width="149.7" height="23.80000000000001" fill="none" stroke="#333" stroke-width="1.1"/>
<text x="80.50" y="328.90" font-size="9.8" fill="#231f20" text-anchor="end">CI</text>
<text x="100.00" y="322.05" font-size="7.1" fill="#231f20" text-anchor="middle">1.78</text>
<text x="120.75" y="322.05" font-size="7.1" fill="#231f20" text-anchor="middle">1.24</text>
<text x="141.50" y="322.05" font-size="7.1" fill="#231f20" text-anchor="middle">0.64</text>
<text x="162.25" y="322.05" font-size="7.1" fill="#231f20" text-anchor="middle">0.41</text>
<text x="183.00" y="322.05" font-size="7.1" fill="#231f20" text-anchor="middle">0.46</text>
<text x="203.75" y="322.05" font-size="7.1" fill="#231f20" text-anchor="middle">0.90</text>
<text x="224.50" y="322.05" font-size="7.1" fill="#231f20" text-anchor="middle">1.13</text>
<text x="100.00" y="332.55" font-size="7.1" fill="#231f20" text-anchor="middle">±0.13</text>
<text x="120.75" y="332.55" font-size="7.1" fill="#231f20" text-anchor="middle">±0.10</text>
<text x="141.50" y="332.55" font-size="7.1" fill="#231f20" text-anchor="middle">±0.02</text>
<text x="162.25" y="332.55" font-size="7.1" fill="#231f20" text-anchor="middle">±0.02</text>
<text x="183.00" y="332.55" font-size="7.1" fill="#231f20" text-anchor="middle">±0.03</text>
<text x="203.75" y="332.55" font-size="7.1" fill="#231f20" text-anchor="middle">±0.08</text>
<text x="224.50" y="332.55" font-size="7.1" fill="#231f20" text-anchor="middle">±0.21</text>
<text x="314.30" y="187.30" font-size="11" font-weight="bold" fill="#111" stroke="#111" stroke-width="0.35">D</text>
<line x1="360.00" y1="260.00" x2="360.00" y2="199.60" stroke="#d9d9d9" stroke-width="0.55" />
<line x1="387.50" y1="231.00" x2="387.50" y2="193.20" stroke="#d9d9d9" stroke-width="0.55" />
<line x1="363.44" y1="256.38" x2="363.44" y2="198.80" stroke="#d9d9d9" stroke-width="0.55" />
<line x1="392.64" y1="233.94" x2="392.64" y2="193.89" stroke="#d9d9d9" stroke-width="0.55" />
<line x1="366.88" y1="252.75" x2="366.88" y2="198.00" stroke="#d9d9d9" stroke-width="0.55" />
<line x1="397.77" y1="236.88" x2="397.77" y2="194.57" stroke="#d9d9d9" stroke-width="0.55" />
<line x1="370.31" y1="249.12" x2="370.31" y2="197.20" stroke="#d9d9d9" stroke-width="0.55" />
<line x1="402.91" y1="239.81" x2="402.91" y2="195.26" stroke="#d9d9d9" stroke-width="0.55" />
<line x1="373.75" y1="245.50" x2="373.75" y2="196.40" stroke="#d9d9d9" stroke-width="0.55" />
<line x1="408.05" y1="242.75" x2="408.05" y2="195.95" stroke="#d9d9d9" stroke-width="0.55" />
<line x1="377.19" y1="241.88" x2="377.19" y2="195.60" stroke="#d9d9d9" stroke-width="0.55" />
<line x1="413.19" y1="245.69" x2="413.19" y2="196.64" stroke="#d9d9d9" stroke-width="0.55" />
<line x1="380.62" y1="238.25" x2="380.62" y2="194.80" stroke="#d9d9d9" stroke-width="0.55" />
<line x1="418.33" y1="248.62" x2="418.33" y2="197.32" stroke="#d9d9d9" stroke-width="0.55" />
<line x1="384.06" y1="234.62" x2="384.06" y2="194.00" stroke="#d9d9d9" stroke-width="0.55" />
<line x1="423.46" y1="251.56" x2="423.46" y2="198.01" stroke="#d9d9d9" stroke-width="0.55" />
<line x1="387.50" y1="231.00" x2="387.50" y2="193.20" stroke="#d9d9d9" stroke-width="0.55" />
<line x1="428.60" y1="254.50" x2="428.60" y2="198.70" stroke="#d9d9d9" stroke-width="0.55" />
<polyline points="360.0,260.0 387.5,231.0 428.6,254.5" fill="none" stroke="#d9d9d9" stroke-width="0.55" />
<polyline points="360.0,252.4 387.5,226.3 428.6,247.5" fill="none" stroke="#d9d9d9" stroke-width="0.55" />
<polyline points="360.0,244.9 387.5,221.6 428.6,240.6" fill="none" stroke="#d9d9d9" stroke-width="0.55" />
<polyline points="360.0,237.3 387.5,216.8 428.6,233.6" fill="none" stroke="#d9d9d9" stroke-width="0.55" />
<polyline points="360.0,229.8 387.5,212.1 428.6,226.6" fill="none" stroke="#d9d9d9" stroke-width="0.55" />
<polyline points="360.0,222.2 387.5,207.4 428.6,219.6" fill="none" stroke="#d9d9d9" stroke-width="0.55" />
<polyline points="360.0,214.7 387.5,202.6 428.6,212.6" fill="none" stroke="#d9d9d9" stroke-width="0.55" />
<polyline points="360.0,207.1 387.5,197.9 428.6,205.7" fill="none" stroke="#d9d9d9" stroke-width="0.55" />
<polyline points="360.0,199.6 387.5,193.2 428.6,198.7" fill="none" stroke="#d9d9d9" stroke-width="0.55" />
<line x1="360.00" y1="260.00" x2="387.50" y2="231.00" stroke="#d9d9d9" stroke-width="0.55" />
<line x1="360.00" y1="260.00" x2="408.50" y2="284.00" stroke="#d9d9d9" stroke-width="0.55" />
<line x1="366.06" y1="263.00" x2="392.64" y2="233.94" stroke="#d9d9d9" stroke-width="0.55" />
<line x1="363.44" y1="256.38" x2="411.01" y2="280.31" stroke="#d9d9d9" stroke-width="0.55" />
<line x1="372.12" y1="266.00" x2="397.77" y2="236.88" stroke="#d9d9d9" stroke-width="0.55" />
<line x1="366.88" y1="252.75" x2="413.52" y2="276.62" stroke="#d9d9d9" stroke-width="0.55" />
<line x1="378.19" y1="269.00" x2="402.91" y2="239.81" stroke="#d9d9d9" stroke-width="0.55" />
<line x1="370.31" y1="249.12" x2="416.04" y2="272.94" stroke="#d9d9d9" stroke-width="0.55" />
<line x1="384.25" y1="272.00" x2="408.05" y2="242.75" stroke="#d9d9d9" stroke-width="0.55" />
<line x1="373.75" y1="245.50" x2="418.55" y2="269.25" stroke="#d9d9d9" stroke-width="0.55" />
<line x1="390.31" y1="275.00" x2="413.19" y2="245.69" stroke="#d9d9d9" stroke-width="0.55" />
<line x1="377.19" y1="241.88" x2="421.06" y2="265.56" stroke="#d9d9d9" stroke-width="0.55" />
<line x1="396.38" y1="278.00" x2="418.33" y2="248.62" stroke="#d9d9d9" stroke-width="0.55" />
<line x1="380.62" y1="238.25" x2="423.58" y2="261.88" stroke="#d9d9d9" stroke-width="0.55" />
<line x1="402.44" y1="281.00" x2="423.46" y2="251.56" stroke="#d9d9d9" stroke-width="0.55" />
<line x1="384.06" y1="234.62" x2="426.09" y2="258.19" stroke="#d9d9d9" stroke-width="0.55" />
<line x1="408.50" y1="284.00" x2="428.60" y2="254.50" stroke="#d9d9d9" stroke-width="0.55" />
<line x1="387.50" y1="231.00" x2="428.60" y2="254.50" stroke="#d9d9d9" stroke-width="0.55" />
<polygon points="383.6,217.9 389.6,220.1 393.4,217.4 387.5,215.1" fill="#ffffff" />
<polyline points="383.6,217.9 385.1,218.4 386.6,219.0 388.1,219.5 389.6,220.1 390.5,219.4 391.5,218.7 392.4,218.1 393.4,217.4 391.9,216.8 390.4,216.3 389.0,215.7 387.5,215.1 386.5,215.8 385.5,216.5 384.6,217.2 383.6,217.9" fill="none" stroke="#8a8083" stroke-width="0.5" stroke-linejoin="round"/>
<polygon points="379.6,220.7 385.8,222.7 389.6,220.1 383.6,217.9" fill="#ffffff" />
<polyline points="379.6,220.7 381.2,221.2 382.7,221.7 384.2,222.2 385.8,222.7 386.7,222.1 387.7,221.4 388.6,220.7 389.6,220.1 388.1,219.5 386.6,219.0 385.1,218.4 383.6,217.9 382.6,218.6 381.6,219.3 380.6,220.0 379.6,220.7" fill="none" stroke="#8a8083" stroke-width="0.5" stroke-linejoin="round"/>
<g stroke-width="0.35">
<polygon points="392.4,218.1 393.9,218.5 394.8,218.0 393.4,217.4" fill="#ffffff" stroke="#ffffff"/>
<polygon points="393.9,218.5 395.4,218.9 396.3,218.5 394.8,218.0" fill="#ffffff" stroke="#ffffff"/>
<polygon points="391.5,218.7 393.0,219.0 393.9,218.5 392.4,218.1" fill="#ffffff" stroke="#ffffff"/>
<polygon points="390.5,219.4 392.0,219.5 393.0,219.0 391.5,218.7" fill="#ffffff" stroke="#ffffff"/>
<polygon points="393.0,219.0 394.4,219.3 395.4,218.9 393.9,218.5" fill="#ffffff" stroke="#ffffff"/>
<polygon points="395.4,218.9 396.8,219.3 397.8,219.1 396.3,218.5" fill="#ffffff" stroke="#ffffff"/>
<polygon points="392.0,219.5 393.5,219.6 394.4,219.3 393.0,219.0" fill="#ffffff" stroke="#ffffff"/>
<polygon points="396.8,219.3 398.3,219.7 399.2,219.7 397.8,219.1" fill="#ffffff" stroke="#ffffff"/>
<polygon points="389.6,220.1 391.1,220.0 392.0,219.5 390.5,219.4" fill="#ffffff" stroke="#ffffff"/>
<polygon points="394.4,219.3 395.9,219.5 396.8,219.3 395.4,218.9" fill="#ffffff" stroke="#ffffff"/>
<polygon points="391.1,220.0 392.6,219.9 393.5,219.6 392.0,219.5" fill="#fefafa" stroke="#fefafa"/>
<polygon points="393.5,219.6 395.0,219.7 395.9,219.5 394.4,219.3" fill="#fef5f6" stroke="#fef5f6"/>
<polygon points="395.9,219.5 397.4,219.7 398.3,219.7 396.8,219.3" fill="#fefafa" stroke="#fefafa"/>
<polygon points="395.0,219.7 396.5,219.7 397.4,219.7 395.9,219.5" fill="#fcebec" stroke="#fcebec"/>
<polygon points="392.6,219.9 394.1,219.8 395.0,219.7 393.5,219.6" fill="#fcebec" stroke="#fcebec"/>
<polygon points="394.1,219.8 395.6,219.7 396.5,219.7 395.0,219.7" fill="#fbe0e1" stroke="#fbe0e1"/>
</g>
<polyline points="389.6,220.1 391.1,220.0 392.6,219.9 394.1,219.8 395.6,219.7 396.5,219.7 397.4,219.7 398.3,219.7 399.2,219.7 397.8,219.1 396.3,218.5 394.8,218.0 393.4,217.4 392.4,218.1 391.5,218.7 390.5,219.4 389.6,220.1" fill="none" stroke="#8a8083" stroke-width="0.5" stroke-linejoin="round"/>
<polygon points="375.7,223.5 382.0,225.4 385.8,222.7 379.6,220.7" fill="#ffffff" />
<polyline points="375.7,223.5 377.3,224.0 378.8,224.4 380.4,224.9 382.0,225.4 382.9,224.7 383.9,224.1 384.8,223.4 385.8,222.7 384.2,222.2 382.7,221.7 381.2,221.2 379.6,220.7 378.7,221.4 377.7,222.1 376.7,222.8 375.7,223.5" fill="none" stroke="#8a8083" stroke-width="0.5" stroke-linejoin="round"/>
<g stroke-width="0.35">
<polygon points="388.6,220.7 390.1,220.6 391.1,220.0 389.6,220.1" fill="#ffffff" stroke="#ffffff"/>
<polygon points="387.7,221.4 389.2,221.1 390.1,220.6 388.6,220.7" fill="#ffffff" stroke="#ffffff"/>
<polygon points="390.1,220.6 391.6,220.4 392.6,219.9 391.1,220.0" fill="#fef5f5" stroke="#fef5f5"/>
<polygon points="389.2,221.1 390.7,220.8 391.6,220.4 390.1,220.6" fill="#fdf1f2" stroke="#fdf1f2"/>
<polygon points="386.7,222.1 388.2,221.7 389.2,221.1 387.7,221.4" fill="#ffffff" stroke="#ffffff"/>
<polygon points="391.6,220.4 393.1,220.2 394.1,219.8 392.6,219.9" fill="#fce5e6" stroke="#fce5e6"/>
<polygon points="385.8,222.7 387.3,222.2 388.2,221.7 386.7,222.1" fill="#ffffff" stroke="#ffffff"/>
<polygon points="388.2,221.7 389.8,221.3 390.7,220.8 389.2,221.1" fill="#fdeeef" stroke="#fdeeef"/>
<polygon points="390.7,220.8 392.2,220.5 393.1,220.2 391.6,220.4" fill="#fbe0e1" stroke="#fbe0e1"/>
<polygon points="393.1,220.2 394.6,219.9 395.6,219.7 394.1,219.8" fill="#fad8d9" stroke="#fad8d9"/>
<polygon points="387.3,222.2 388.8,221.7 389.8,221.3 388.2,221.7" fill="#fcebec" stroke="#fcebec"/>
<polygon points="392.2,220.5 393.7,220.1 394.6,219.9 393.1,220.2" fill="#f9d2d4" stroke="#f9d2d4"/>
<polygon points="389.8,221.3 391.3,220.8 392.2,220.5 390.7,220.8" fill="#fbdcdd" stroke="#fbdcdd"/>
<polygon points="388.8,221.7 390.4,221.1 391.3,220.8 389.8,221.3" fill="#fad8da" stroke="#fad8da"/>
<polygon points="391.3,220.8 392.8,220.4 393.7,220.1 392.2,220.5" fill="#f9cdcf" stroke="#f9cdcf"/>
<polygon points="390.4,221.1 391.9,220.6 392.8,220.4 391.3,220.8" fill="#f8c8ca" stroke="#f8c8ca"/>
</g>
<polyline points="385.8,222.7 387.3,222.2 388.8,221.7 390.4,221.1 391.9,220.6 392.8,220.4 393.7,220.1 394.6,219.9 395.6,219.7 394.1,219.8 392.6,219.9 391.1,220.0 389.6,220.1 388.6,220.7 387.7,221.4 386.7,222.1 385.8,222.7" fill="none" stroke="#8a8083" stroke-width="0.5" stroke-linejoin="round"/>
<g stroke-width="0.35">
<polygon points="398.3,219.7 399.8,219.1 400.7,219.3 399.2,219.7" fill="#fef9f9" stroke="#fef9f9"/>
<polygon points="399.8,219.1 401.3,218.5 402.2,218.8 400.7,219.3" fill="#fbdedf" stroke="#fbdedf"/>
<polygon points="397.4,219.7 398.9,219.0 399.8,219.1 398.3,219.7" fill="#fce7e8" stroke="#fce7e8"/>
<polygon points="396.5,219.7 398.0,218.8 398.9,219.0 397.4,219.7" fill="#fad9da" stroke="#fad9da"/>
<polygon points="401.3,218.5 402.8,217.8 403.6,218.4 402.2,218.8" fill="#f8cacc" stroke="#f8cacc"/>
<polygon points="398.9,219.0 400.4,218.1 401.3,218.5 399.8,219.1" fill="#f9cfd0" stroke="#f9cfd0"/>
<polygon points="398.0,218.8 399.5,217.7 400.4,218.1 398.9,219.0" fill="#f7c1c3" stroke="#f7c1c3"/>
<polygon points="402.8,217.8 404.2,217.1 405.1,217.9 403.6,218.4" fill="#f6b9bb" stroke="#f6b9bb"/>
<polygon points="395.6,219.7 397.1,218.5 398.0,218.8 396.5,219.7" fill="#f9ccce" stroke="#f9ccce"/>
<polygon points="400.4,218.1 401.9,217.3 402.8,217.8 401.3,218.5" fill="#f6babd" stroke="#f6babd"/>
<polygon points="399.5,217.7 401.0,216.7 401.9,217.3 400.4,218.1" fill="#f4acaf" stroke="#f4acaf"/>
<polygon points="397.1,218.5 398.6,217.3 399.5,217.7 398.0,218.8" fill="#f5b4b6" stroke="#f5b4b6"/>
<polygon points="401.9,217.3 403.3,216.4 404.2,217.1 402.8,217.8" fill="#f4a8ab" stroke="#f4a8ab"/>
<polygon points="401.0,216.7 402.4,215.6 403.3,216.4 401.9,217.3" fill="#f2989c" stroke="#f2989c"/>
<polygon points="398.6,217.3 400.1,216.0 401.0,216.7 399.5,217.7" fill="#f39ea1" stroke="#f39ea1"/>
<polygon points="400.1,216.0 401.5,214.7 402.4,215.6 401.0,216.7" fill="#f0898d" stroke="#f0898d"/>
</g>
<polyline points="395.6,219.7 397.1,218.5 398.6,217.3 400.1,216.0 401.5,214.7 402.4,215.6 403.3,216.4 404.2,217.1 405.1,217.9 403.6,218.4 402.2,218.8 400.7,219.3 399.2,219.7 398.3,219.7 397.4,219.7 396.5,219.7 395.6,219.7" fill="none" stroke="#8a8083" stroke-width="0.5" stroke-linejoin="round"/>
<polygon points="371.8,226.3 378.2,228.1 382.0,225.4 375.7,223.5" fill="#ffffff" />
<polyline points="371.8,226.3 373.4,226.7 375.0,227.2 376.6,227.6 378.2,228.1 379.1,227.4 380.1,226.7 381.0,226.1 382.0,225.4 380.4,224.9 378.8,224.4 377.3,224.0 375.7,223.5 374.7,224.2 373.8,224.9 372.8,225.6 371.8,226.3" fill="none" stroke="#8a8083" stroke-width="0.5" stroke-linejoin="round"/>
<g stroke-width="0.35">
<polygon points="384.8,223.4 386.4,223.0 387.3,222.2 385.8,222.7" fill="#ffffff" stroke="#ffffff"/>
<polygon points="383.9,224.1 385.4,223.7 386.4,223.0 384.8,223.4" fill="#ffffff" stroke="#ffffff"/>
<polygon points="386.4,223.0 387.9,222.5 388.8,221.7 387.3,222.2" fill="#fcebec" stroke="#fcebec"/>
<polygon points="385.4,223.7 387.0,223.3 387.9,222.5 386.4,223.0" fill="#fdeeee" stroke="#fdeeee"/>
<polygon points="382.9,224.7 384.5,224.4 385.4,223.7 383.9,224.1" fill="#ffffff" stroke="#ffffff"/>
<polygon points="387.9,222.5 389.4,222.0 390.4,221.1 388.8,221.7" fill="#fad8da" stroke="#fad8da"/>
<polygon points="387.0,223.3 388.5,222.9 389.4,222.0 387.9,222.5" fill="#fbdcdd" stroke="#fbdcdd"/>
<polygon points="384.5,224.4 386.0,224.1 387.0,223.3 385.4,223.7" fill="#fdf1f2" stroke="#fdf1f2"/>
<polygon points="389.4,222.0 391.0,221.5 391.9,220.6 390.4,221.1" fill="#f8c8ca" stroke="#f8c8ca"/>
<polygon points="382.0,225.4 383.5,225.2 384.5,224.4 382.9,224.7" fill="#ffffff" stroke="#ffffff"/>
<polygon points="388.5,222.9 390.1,222.4 391.0,221.5 389.4,222.0" fill="#f9cdcf" stroke="#f9cdcf"/>
<polygon points="386.0,224.1 387.6,223.7 388.5,222.9 387.0,223.3" fill="#fbe0e1" stroke="#fbe0e1"/>
<polygon points="383.5,225.2 385.1,224.9 386.0,224.1 384.5,224.4" fill="#fef4f5" stroke="#fef4f5"/>
<polygon points="387.6,223.7 389.1,223.4 390.1,222.4 388.5,222.9" fill="#f9d2d4" stroke="#f9d2d4"/>
<polygon points="385.1,224.9 386.7,224.6 387.6,223.7 386.0,224.1" fill="#fce4e5" stroke="#fce4e5"/>
<polygon points="386.7,224.6 388.2,224.3 389.1,223.4 387.6,223.7" fill="#fad7d9" stroke="#fad7d9"/>
</g>
<polyline points="382.0,225.4 383.5,225.2 385.1,224.9 386.7,224.6 388.2,224.3 389.1,223.4 390.1,222.4 391.0,221.5 391.9,220.6 390.4,221.1 388.8,221.7 387.3,222.2 385.8,222.7 384.8,223.4 383.9,224.1 382.9,224.7 382.0,225.4" fill="none" stroke="#8a8083" stroke-width="0.5" stroke-linejoin="round"/>
<g stroke-width="0.35">
<polygon points="404.2,217.1 405.7,216.6 406.6,217.5 405.1,217.9" fill="#f4aaad" stroke="#f4aaad"/>
<polygon points="403.3,216.4 404.8,215.7 405.7,216.6 404.2,217.1" fill="#f2989c" stroke="#f2989c"/>
<polygon points="405.7,216.6 407.2,216.1 408.1,217.1 406.6,217.5" fill="#f29da0" stroke="#f29da0"/>
<polygon points="402.4,215.6 403.9,214.7 404.8,215.7 403.3,216.4" fill="#f0888c" stroke="#f0888c"/>
<polygon points="407.2,216.1 408.6,215.5 409.5,216.7 408.1,217.1" fill="#f19194" stroke="#f19194"/>
<polygon points="404.8,215.7 406.3,215.0 407.2,216.1 405.7,216.6" fill="#f08b8f" stroke="#f08b8f"/>
<polygon points="403.9,214.7 405.4,213.8 406.3,215.0 404.8,215.7" fill="#ee797e" stroke="#ee797e"/>
<polygon points="401.5,214.7 403.0,213.6 403.9,214.7 402.4,215.6" fill="#ee787c" stroke="#ee787c"/>
<polygon points="406.3,215.0 407.8,214.2 408.6,215.5 407.2,216.1" fill="#ee7e82" stroke="#ee7e82"/>
<polygon points="408.6,215.5 410.1,214.9 411.0,216.3 409.5,216.7" fill="#ef8589" stroke="#ef8589"/>
<polygon points="405.4,213.8 406.9,212.9 407.8,214.2 406.3,215.0" fill="#ec6b71" stroke="#ec6b71"/>
<polygon points="403.0,213.6 404.5,212.6 405.4,213.8 403.9,214.7" fill="#ec696e" stroke="#ec696e"/>
<polygon points="407.8,214.2 409.3,213.4 410.1,214.9 408.6,215.5" fill="#ed7176" stroke="#ed7176"/>
<polygon points="404.5,212.6 406.0,211.4 406.9,212.9 405.4,213.8" fill="#ea5a60" stroke="#ea5a60"/>
<polygon points="406.9,212.9 408.4,211.9 409.3,213.4 407.8,214.2" fill="#ea5e64" stroke="#ea5e64"/>
<polygon points="406.0,211.4 407.5,210.3 408.4,211.9 406.9,212.9" fill="#e84c52" stroke="#e84c52"/>
</g>
<polyline points="401.5,214.7 403.0,213.6 404.5,212.6 406.0,211.4 407.5,210.3 408.4,211.9 409.3,213.4 410.1,214.9 411.0,216.3 409.5,216.7 408.1,217.1 406.6,217.5 405.1,217.9 404.2,217.1 403.3,216.4 402.4,215.6 401.5,214.7" fill="none" stroke="#8a8083" stroke-width="0.5" stroke-linejoin="round"/>
<g stroke-width="0.35">
<polygon points="394.6,219.9 396.2,218.7 397.1,218.5 395.6,219.7" fill="#f7c4c6" stroke="#f7c4c6"/>
<polygon points="393.7,220.1 395.2,218.8 396.2,218.7 394.6,219.9" fill="#f7bec0" stroke="#f7bec0"/>
<polygon points="396.2,218.7 397.7,217.3 398.6,217.3 397.1,218.5" fill="#f4abae" stroke="#f4abae"/>
<polygon points="395.2,218.8 396.7,217.3 397.7,217.3 396.2,218.7" fill="#f4a5a8" stroke="#f4a5a8"/>
<polygon points="392.8,220.4 394.3,218.9 395.2,218.8 393.7,220.1" fill="#f6b9bb" stroke="#f6b9bb"/>
<polygon points="397.7,217.3 399.2,215.9 400.1,216.0 398.6,217.3" fill="#f19498" stroke="#f19498"/>
<polygon points="391.9,220.6 393.4,219.0 394.3,218.9 392.8,220.4" fill="#f5b3b6" stroke="#f5b3b6"/>
<polygon points="396.7,217.3 398.3,215.9 399.2,215.9 397.7,217.3" fill="#f18e92" stroke="#f18e92"/>
<polygon points="394.3,218.9 395.8,217.4 396.7,217.3 395.2,218.8" fill="#f3a0a3" stroke="#f3a0a3"/>
<polygon points="399.2,215.9 400.7,214.5 401.5,214.7 400.1,216.0" fill="#ef7f83" stroke="#ef7f83"/>
<polygon points="393.4,219.0 394.9,217.3 395.8,217.4 394.3,218.9" fill="#f29a9e" stroke="#f29a9e"/>
<polygon points="398.3,215.9 399.8,214.3 400.7,214.5 399.2,215.9" fill="#ee797e" stroke="#ee797e"/>
<polygon points="395.8,217.4 397.3,215.8 398.3,215.9 396.7,217.3" fill="#f0898d" stroke="#f0898d"/>
<polygon points="394.9,217.3 396.4,215.6 397.3,215.8 395.8,217.4" fill="#ef8387" stroke="#ef8387"/>
<polygon points="397.3,215.8 398.9,214.1 399.8,214.3 398.3,215.9" fill="#ed7378" stroke="#ed7378"/>
<polygon points="396.4,215.6 398.0,213.9 398.9,214.1 397.3,215.8" fill="#ec6d72" stroke="#ec6d72"/>
</g>
<polyline points="391.9,220.6 393.4,219.0 394.9,217.3 396.4,215.6 398.0,213.9 398.9,214.1 399.8,214.3 400.7,214.5 401.5,214.7 400.1,216.0 398.6,217.3 397.1,218.5 395.6,219.7 394.6,219.9 393.7,220.1 392.8,220.4 391.9,220.6" fill="none" stroke="#8a8083" stroke-width="0.5" stroke-linejoin="round"/>
<g stroke-width="0.35">
<polygon points="391.0,221.5 392.5,219.9 393.4,219.0 391.9,220.6" fill="#f5b3b6" stroke="#f5b3b6"/>
<polygon points="390.1,222.4 391.6,220.9 392.5,219.9 391.0,221.5" fill="#f6b9bb" stroke="#f6b9bb"/>
<polygon points="392.5,219.9 394.0,218.3 394.9,217.3 393.4,219.0" fill="#f29a9e" stroke="#f29a9e"/>
<polygon points="391.6,220.9 393.1,219.2 394.0,218.3 392.5,219.9" fill="#f3a0a3" stroke="#f3a0a3"/>
<polygon points="389.1,223.4 390.7,221.8 391.6,220.9 390.1,222.4" fill="#f7bec0" stroke="#f7bec0"/>
<polygon points="394.0,218.3 395.5,216.6 396.4,215.6 394.9,217.3" fill="#ef8387" stroke="#ef8387"/>
<polygon points="393.1,219.2 394.7,217.6 395.5,216.6 394.0,218.3" fill="#f0898d" stroke="#f0898d"/>
<polygon points="390.7,221.8 392.2,220.2 393.1,219.2 391.6,220.9" fill="#f4a5a8" stroke="#f4a5a8"/>
<polygon points="395.5,216.6 397.1,214.8 398.0,213.9 396.4,215.6" fill="#ec6d72" stroke="#ec6d72"/>
<polygon points="388.2,224.3 389.8,222.8 390.7,221.8 389.1,223.4" fill="#f7c4c6" stroke="#f7c4c6"/>
<polygon points="394.7,217.6 396.2,215.8 397.1,214.8 395.5,216.6" fill="#ed7378" stroke="#ed7378"/>
<polygon points="392.2,220.2 393.8,218.6 394.7,217.6 393.1,219.2" fill="#f18e92" stroke="#f18e92"/>
<polygon points="389.8,222.8 391.3,221.2 392.2,220.2 390.7,221.8" fill="#f4abae" stroke="#f4abae"/>
<polygon points="393.8,218.6 395.3,216.8 396.2,215.8 394.7,217.6" fill="#ee797d" stroke="#ee797d"/>
<polygon points="391.3,221.2 392.9,219.6 393.8,218.6 392.2,220.2" fill="#f19498" stroke="#f19498"/>
<polygon points="392.9,219.6 394.4,217.9 395.3,216.8 393.8,218.6" fill="#ef7f83" stroke="#ef7f83"/>
</g>
<polyline points="388.2,224.3 389.8,222.8 391.3,221.2 392.9,219.6 394.4,217.9 395.3,216.8 396.2,215.8 397.1,214.8 398.0,213.9 396.4,215.6 394.9,217.3 393.4,219.0 391.9,220.6 391.0,221.5 390.1,222.4 389.1,223.4 388.2,224.3" fill="none" stroke="#8a8083" stroke-width="0.5" stroke-linejoin="round"/>
<polygon points="367.9,229.1 374.4,230.7 378.2,228.1 371.8,226.3" fill="#ffffff" />
<polyline points="367.9,229.1 369.5,229.5 371.1,229.9 372.7,230.3 374.4,230.7 375.3,230.1 376.3,229.4 377.2,228.7 378.2,228.1 376.6,227.6 375.0,227.2 373.4,226.7 371.8,226.3 370.8,227.0 369.8,227.7 368.8,228.4 367.9,229.1" fill="none" stroke="#8a8083" stroke-width="0.5" stroke-linejoin="round"/>
<g stroke-width="0.35">
<polygon points="381.0,226.1 382.6,226.0 383.5,225.2 382.0,225.4" fill="#ffffff" stroke="#ffffff"/>
<polygon points="382.6,226.0 384.2,225.9 385.1,224.9 383.5,225.2" fill="#fefafa" stroke="#fefafa"/>
<polygon points="380.1,226.7 381.7,226.8 382.6,226.0 381.0,226.1" fill="#ffffff" stroke="#ffffff"/>
<polygon points="379.1,227.4 380.7,227.7 381.7,226.8 380.1,226.7" fill="#ffffff" stroke="#ffffff"/>
<polygon points="384.2,225.9 385.7,225.8 386.7,224.6 385.1,224.9" fill="#fcebec" stroke="#fcebec"/>
<polygon points="381.7,226.8 383.2,226.9 384.2,225.9 382.6,226.0" fill="#ffffff" stroke="#ffffff"/>
<polygon points="385.7,225.8 387.3,225.7 388.2,224.3 386.7,224.6" fill="#fbdfe0" stroke="#fbdfe0"/>
<polygon points="378.2,228.1 379.8,228.5 380.7,227.7 379.1,227.4" fill="#ffffff" stroke="#ffffff"/>
<polygon points="380.7,227.7 382.3,227.9 383.2,226.9 381.7,226.8" fill="#ffffff" stroke="#ffffff"/>
<polygon points="383.2,226.9 384.8,227.0 385.7,225.8 384.2,225.9" fill="#fef5f5" stroke="#fef5f5"/>
<polygon points="382.3,227.9 383.9,228.2 384.8,227.0 383.2,226.9" fill="#ffffff" stroke="#ffffff"/>
<polygon points="379.8,228.5 381.4,228.9 382.3,227.9 380.7,227.7" fill="#ffffff" stroke="#ffffff"/>
<polygon points="384.8,227.0 386.4,227.0 387.3,225.7 385.7,225.8" fill="#fcebec" stroke="#fcebec"/>
<polygon points="383.9,228.2 385.5,228.4 386.4,227.0 384.8,227.0" fill="#fefafa" stroke="#fefafa"/>
<polygon points="381.4,228.9 383.0,229.4 383.9,228.2 382.3,227.9" fill="#ffffff" stroke="#ffffff"/>
<polygon points="383.0,229.4 384.6,229.8 385.5,228.4 383.9,228.2" fill="#ffffff" stroke="#ffffff"/>
</g>
<polyline points="378.2,228.1 379.8,228.5 381.4,228.9 383.0,229.4 384.6,229.8 385.5,228.4 386.4,227.0 387.3,225.7 388.2,224.3 386.7,224.6 385.1,224.9 383.5,225.2 382.0,225.4 381.0,226.1 380.1,226.7 379.1,227.4 378.2,228.1" fill="none" stroke="#8a8083" stroke-width="0.5" stroke-linejoin="round"/>
<g stroke-width="0.35">
<polygon points="400.7,214.5 402.1,213.3 403.0,213.6 401.5,214.7" fill="#ec6d72" stroke="#ec6d72"/>
<polygon points="399.8,214.3 401.3,212.9 402.1,213.3 400.7,214.5" fill="#eb666b" stroke="#eb666b"/>
<polygon points="402.1,213.3 403.6,212.0 404.5,212.6 403.0,213.6" fill="#ea5d62" stroke="#ea5d62"/>
<polygon points="401.3,212.9 402.8,211.4 403.6,212.0 402.1,213.3" fill="#e9555a" stroke="#e9555a"/>
<polygon points="398.9,214.1 400.4,212.5 401.3,212.9 399.8,214.3" fill="#eb5f65" stroke="#eb5f65"/>
<polygon points="403.6,212.0 405.1,210.7 406.0,211.4 404.5,212.6" fill="#e84d53" stroke="#e84d53"/>
<polygon points="398.0,213.9 399.5,212.0 400.4,212.5 398.9,214.1" fill="#ea595e" stroke="#ea595e"/>
<polygon points="402.8,211.4 404.3,209.9 405.1,210.7 403.6,212.0" fill="#e7444a" stroke="#e7444a"/>
<polygon points="400.4,212.5 401.9,210.8 402.8,211.4 401.3,212.9" fill="#e84d53" stroke="#e84d53"/>
<polygon points="405.1,210.7 406.6,209.3 407.5,210.3 406.0,211.4" fill="#e63e45" stroke="#e63e45"/>
<polygon points="399.5,212.0 401.0,210.2 401.9,210.8 400.4,212.5" fill="#e7454b" stroke="#e7454b"/>
<polygon points="401.9,210.8 403.4,209.1 404.3,209.9 402.8,211.4" fill="#e63b42" stroke="#e63b42"/>
<polygon points="404.3,209.9 405.8,208.3 406.6,209.3 405.1,210.7" fill="#e5343b" stroke="#e5343b"/>
<polygon points="401.0,210.2 402.5,208.2 403.4,209.1 401.9,210.8" fill="#e53239" stroke="#e53239"/>
<polygon points="403.4,209.1 404.9,207.3 405.8,208.3 404.3,209.9" fill="#e42a31" stroke="#e42a31"/>
<polygon points="402.5,208.2 404.0,206.2 404.9,207.3 403.4,209.1" fill="#e32027" stroke="#e32027"/>
</g>
<polyline points="398.0,213.9 399.5,212.0 401.0,210.2 402.5,208.2 404.0,206.2 404.9,207.3 405.8,208.3 406.6,209.3 407.5,210.3 406.0,211.4 404.5,212.6 403.0,213.6 401.5,214.7 400.7,214.5 399.8,214.3 398.9,214.1 398.0,213.9" fill="none" stroke="#8a8083" stroke-width="0.5" stroke-linejoin="round"/>
<g stroke-width="0.35">
<polygon points="410.1,214.9 411.6,215.2 412.5,216.6 411.0,216.3" fill="#ef7e83" stroke="#ef7e83"/>
<polygon points="409.3,213.4 410.7,213.7 411.6,215.2 410.1,214.9" fill="#ec6a6f" stroke="#ec6a6f"/>
<polygon points="411.6,215.2 413.1,215.5 413.9,217.0 412.5,216.6" fill="#ee7d81" stroke="#ee7d81"/>
<polygon points="408.4,211.9 409.9,212.1 410.7,213.7 409.3,213.4" fill="#ea575c" stroke="#ea575c"/>
<polygon points="410.7,213.7 412.2,213.9 413.1,215.5 411.6,215.2" fill="#ec686d" stroke="#ec686d"/>
<polygon points="413.1,215.5 414.5,215.8 415.4,217.3 413.9,217.0" fill="#ee7b80" stroke="#ee7b80"/>
<polygon points="407.5,210.3 409.0,210.4 409.9,212.1 408.4,211.9" fill="#e7444a" stroke="#e7444a"/>
<polygon points="409.9,212.1 411.4,212.2 412.2,213.9 410.7,213.7" fill="#e9555b" stroke="#e9555b"/>
<polygon points="414.5,215.8 416.0,216.1 416.9,217.7 415.4,217.3" fill="#ee7a7e" stroke="#ee7a7e"/>
<polygon points="412.2,213.9 413.7,214.1 414.5,215.8 413.1,215.5" fill="#ec676c" stroke="#ec676c"/>
<polygon points="409.0,210.4 410.5,210.5 411.4,212.2 409.9,212.1" fill="#e74248" stroke="#e74248"/>
<polygon points="411.4,212.2 412.9,212.4 413.7,214.1 412.2,213.9" fill="#e95359" stroke="#e95359"/>
<polygon points="413.7,214.1 415.2,214.3 416.0,216.1 414.5,215.8" fill="#eb656a" stroke="#eb656a"/>
<polygon points="412.9,212.4 414.3,212.5 415.2,214.3 413.7,214.1" fill="#e95157" stroke="#e95157"/>
<polygon points="410.5,210.5 412.0,210.5 412.9,212.4 411.4,212.2" fill="#e74047" stroke="#e74047"/>
<polygon points="412.0,210.5 413.5,210.6 414.3,212.5 412.9,212.4" fill="#e63e45" stroke="#e63e45"/>
</g>
<polyline points="407.5,210.3 409.0,210.4 410.5,210.5 412.0,210.5 413.5,210.6 414.3,212.5 415.2,214.3 416.0,216.1 416.9,217.7 415.4,217.3 413.9,217.0 412.5,216.6 411.0,216.3 410.1,214.9 409.3,213.4 408.4,211.9 407.5,210.3" fill="none" stroke="#8a8083" stroke-width="0.5" stroke-linejoin="round"/>
<g stroke-width="0.35">
<polygon points="397.1,214.8 398.6,213.1 399.5,212.0 398.0,213.9" fill="#ea595e" stroke="#ea595e"/>
<polygon points="396.2,215.8 397.7,214.2 398.6,213.1 397.1,214.8" fill="#eb5f65" stroke="#eb5f65"/>
<polygon points="398.6,213.1 400.1,211.3 401.0,210.2 399.5,212.0" fill="#e7454b" stroke="#e7454b"/>
<polygon points="397.7,214.2 399.2,212.5 400.1,211.3 398.6,213.1" fill="#e84d53" stroke="#e84d53"/>
<polygon points="395.3,216.8 396.8,215.3 397.7,214.2 396.2,215.8" fill="#eb666b" stroke="#eb666b"/>
<polygon points="400.1,211.3 401.6,209.5 402.5,208.2 401.0,210.2" fill="#e53239" stroke="#e53239"/>
<polygon points="399.2,212.5 400.8,210.8 401.6,209.5 400.1,211.3" fill="#e63b42" stroke="#e63b42"/>
<polygon points="396.8,215.3 398.4,213.8 399.2,212.5 397.7,214.2" fill="#e9555a" stroke="#e9555a"/>
<polygon points="394.4,217.9 395.9,216.5 396.8,215.3 395.3,216.8" fill="#ec6d72" stroke="#ec6d72"/>
<polygon points="401.6,209.5 403.1,207.6 404.0,206.2 402.5,208.2" fill="#e32027" stroke="#e32027"/>
<polygon points="398.4,213.8 399.9,212.2 400.8,210.8 399.2,212.5" fill="#e7444a" stroke="#e7444a"/>
<polygon points="400.8,210.8 402.3,209.0 403.1,207.6 401.6,209.5" fill="#e42a31" stroke="#e42a31"/>
<polygon points="395.9,216.5 397.5,215.1 398.4,213.8 396.8,215.3" fill="#ea5c62" stroke="#ea5c62"/>
<polygon points="397.5,215.1 399.0,213.6 399.9,212.2 398.4,213.8" fill="#e84d53" stroke="#e84d53"/>
<polygon points="399.9,212.2 401.4,210.5 402.3,209.0 400.8,210.8" fill="#e5343b" stroke="#e5343b"/>
<polygon points="399.0,213.6 400.6,212.1 401.4,210.5 399.9,212.2" fill="#e63e44" stroke="#e63e44"/>
</g>
<polyline points="394.4,217.9 395.9,216.5 397.5,215.1 399.0,213.6 400.6,212.1 401.4,210.5 402.3,209.0 403.1,207.6 404.0,206.2 402.5,208.2 401.0,210.2 399.5,212.0 398.0,213.9 397.1,214.8 396.2,215.8 395.3,216.8 394.4,217.9" fill="none" stroke="#8a8083" stroke-width="0.5" stroke-linejoin="round"/>
<g stroke-width="0.35">
<polygon points="416.0,216.1 417.5,217.4 418.3,218.9 416.9,217.7" fill="#ef7e82" stroke="#ef7e82"/>
<polygon points="417.5,217.4 419.0,218.8 419.8,220.2 418.3,218.9" fill="#f0888c" stroke="#f0888c"/>
<polygon points="415.2,214.3 416.7,215.8 417.5,217.4 416.0,216.1" fill="#ec696f" stroke="#ec696f"/>
<polygon points="414.3,212.5 415.8,214.1 416.7,215.8 415.2,214.3" fill="#e9565c" stroke="#e9565c"/>
<polygon points="416.7,215.8 418.2,217.3 419.0,218.8 417.5,217.4" fill="#ed7479" stroke="#ed7479"/>
<polygon points="419.0,218.8 420.5,220.2 421.3,221.5 419.8,220.2" fill="#f19195" stroke="#f19195"/>
<polygon points="415.8,214.1 417.3,215.7 418.2,217.3 416.7,215.8" fill="#eb6166" stroke="#eb6166"/>
<polygon points="420.5,220.2 421.9,221.6 422.7,222.8 421.3,221.5" fill="#f29c9f" stroke="#f29c9f"/>
<polygon points="413.5,210.6 415.0,212.3 415.8,214.1 414.3,212.5" fill="#e74349" stroke="#e74349"/>
<polygon points="418.2,217.3 419.6,218.8 420.5,220.2 419.0,218.8" fill="#ef7f83" stroke="#ef7f83"/>
<polygon points="415.0,212.3 416.5,214.0 417.3,215.7 415.8,214.1" fill="#e94f55" stroke="#e94f55"/>
<polygon points="417.3,215.7 418.8,217.4 419.6,218.8 418.2,217.3" fill="#ec6d72" stroke="#ec6d72"/>
<polygon points="419.6,218.8 421.1,220.4 421.9,221.6 420.5,220.2" fill="#f08a8e" stroke="#f08a8e"/>
<polygon points="418.8,217.4 420.3,219.0 421.1,220.4 419.6,218.8" fill="#ee797d" stroke="#ee797d"/>
<polygon points="416.5,214.0 418.0,215.8 418.8,217.4 417.3,215.7" fill="#ea5b61" stroke="#ea5b61"/>
<polygon points="418.0,215.8 419.5,217.6 420.3,219.0 418.8,217.4" fill="#ec686d" stroke="#ec686d"/>
</g>
<polyline points="413.5,210.6 415.0,212.3 416.5,214.0 418.0,215.8 419.5,217.6 420.3,219.0 421.1,220.4 421.9,221.6 422.7,222.8 421.3,221.5 419.8,220.2 418.3,218.9 416.9,217.7 416.0,216.1 415.2,214.3 414.3,212.5 413.5,210.6" fill="none" stroke="#8a8083" stroke-width="0.5" stroke-linejoin="round"/>
<polygon points="374.4,230.7 380.9,232.4 384.6,229.8 378.2,228.1" fill="#ffffff" />
<polyline points="374.4,230.7 376.0,231.1 377.6,231.5 379.3,232.0 380.9,232.4 381.8,231.7 382.7,231.1 383.6,230.5 384.6,229.8 383.0,229.4 381.4,228.9 379.8,228.5 378.2,228.1 377.2,228.7 376.3,229.4 375.3,230.1 374.4,230.7" fill="none" stroke="#8a8083" stroke-width="0.5" stroke-linejoin="round"/>
<polygon points="363.9,231.8 370.6,233.4 374.4,230.7 367.9,229.1" fill="#ffffff" />
<polyline points="363.9,231.8 365.6,232.2 367.3,232.6 368.9,233.0 370.6,233.4 371.5,232.7 372.5,232.0 373.4,231.4 374.4,230.7 372.7,230.3 371.1,229.9 369.5,229.5 367.9,229.1 366.9,229.8 365.9,230.5 364.9,231.1 363.9,231.8" fill="none" stroke="#8a8083" stroke-width="0.5" stroke-linejoin="round"/>
<g stroke-width="0.35">
<polygon points="387.3,225.7 388.9,224.3 389.8,222.8 388.2,224.3" fill="#f9ccce" stroke="#f9ccce"/>
<polygon points="388.9,224.3 390.4,222.9 391.3,221.2 389.8,222.8" fill="#f5b4b6" stroke="#f5b4b6"/>
<polygon points="386.4,227.0 388.0,225.8 388.9,224.3 387.3,225.7" fill="#fad9da" stroke="#fad9da"/>
<polygon points="390.4,222.9 392.0,221.4 392.9,219.6 391.3,221.2" fill="#f39ea1" stroke="#f39ea1"/>
<polygon points="385.5,228.4 387.1,227.4 388.0,225.8 386.4,227.0" fill="#fce7e7" stroke="#fce7e7"/>
<polygon points="388.0,225.8 389.5,224.5 390.4,222.9 388.9,224.3" fill="#f7c1c3" stroke="#f7c1c3"/>
<polygon points="392.0,221.4 393.5,219.8 394.4,217.9 392.9,219.6" fill="#f0898d" stroke="#f0898d"/>
<polygon points="387.1,227.4 388.6,226.2 389.5,224.5 388.0,225.8" fill="#f9cfd0" stroke="#f9cfd0"/>
<polygon points="384.6,229.8 386.2,228.9 387.1,227.4 385.5,228.4" fill="#fef8f9" stroke="#fef8f9"/>
<polygon points="389.5,224.5 391.1,223.2 392.0,221.4 390.4,222.9" fill="#f4acae" stroke="#f4acae"/>
<polygon points="388.6,226.2 390.2,225.1 391.1,223.2 389.5,224.5" fill="#f6babd" stroke="#f6babd"/>
<polygon points="386.2,228.9 387.7,228.0 388.6,226.2 387.1,227.4" fill="#fbdedf" stroke="#fbdedf"/>
<polygon points="391.1,223.2 392.6,221.8 393.5,219.8 392.0,221.4" fill="#f2989c" stroke="#f2989c"/>
<polygon points="390.2,225.1 391.8,223.9 392.6,221.8 391.1,223.2" fill="#f4a8ab" stroke="#f4a8ab"/>
<polygon points="387.7,228.0 389.3,227.0 390.2,225.1 388.6,226.2" fill="#f8cacc" stroke="#f8cacc"/>
<polygon points="389.3,227.0 390.9,226.0 391.8,223.9 390.2,225.1" fill="#f6b8bb" stroke="#f6b8bb"/>
</g>
<polyline points="384.6,229.8 386.2,228.9 387.7,228.0 389.3,227.0 390.9,226.0 391.8,223.9 392.6,221.8 393.5,219.8 394.4,217.9 392.9,219.6 391.3,221.2 389.8,222.8 388.2,224.3 387.3,225.7 386.4,227.0 385.5,228.4 384.6,229.8" fill="none" stroke="#8a8083" stroke-width="0.5" stroke-linejoin="round"/>
<g stroke-width="0.35">
<polygon points="406.6,209.3 408.1,209.3 409.0,210.4 407.5,210.3" fill="#e5353c" stroke="#e5353c"/>
<polygon points="405.8,208.3 407.3,208.2 408.1,209.3 406.6,209.3" fill="#e42a32" stroke="#e42a32"/>
<polygon points="408.1,209.3 409.6,209.3 410.5,210.5 409.0,210.4" fill="#e5333a" stroke="#e5333a"/>
<polygon points="404.9,207.3 406.4,207.0 407.3,208.2 405.8,208.3" fill="#e22027" stroke="#e22027"/>
<polygon points="407.3,208.2 408.8,208.1 409.6,209.3 408.1,209.3" fill="#e3272f" stroke="#e3272f"/>
<polygon points="409.6,209.3 411.1,209.3 412.0,210.5 410.5,210.5" fill="#e53138" stroke="#e53138"/>
<polygon points="404.0,206.2 405.5,205.8 406.4,207.0 404.9,207.3" fill="#e1151d" stroke="#e1151d"/>
<polygon points="406.4,207.0 407.9,206.8 408.8,208.1 407.3,208.2" fill="#e21c24" stroke="#e21c24"/>
<polygon points="408.8,208.1 410.3,207.9 411.1,209.3 409.6,209.3" fill="#e3242c" stroke="#e3242c"/>
<polygon points="411.1,209.3 412.6,209.2 413.5,210.6 412.0,210.5" fill="#e42e35" stroke="#e42e35"/>
<polygon points="405.5,205.8 407.0,205.5 407.9,206.8 406.4,207.0" fill="#e1141c" stroke="#e1141c"/>
<polygon points="410.3,207.9 411.8,207.8 412.6,209.2 411.1,209.3" fill="#e32129" stroke="#e32129"/>
<polygon points="407.9,206.8 409.4,206.5 410.3,207.9 408.8,208.1" fill="#e21820" stroke="#e21820"/>
<polygon points="407.0,205.5 408.6,205.1 409.4,206.5 407.9,206.8" fill="#e1141c" stroke="#e1141c"/>
<polygon points="409.4,206.5 410.9,206.3 411.8,207.8 410.3,207.9" fill="#e1151d" stroke="#e1151d"/>
<polygon points="408.6,205.1 410.1,204.7 410.9,206.3 409.4,206.5" fill="#e1141c" stroke="#e1141c"/>
</g>
<polyline points="404.0,206.2 405.5,205.8 407.0,205.5 408.6,205.1 410.1,204.7 410.9,206.3 411.8,207.8 412.6,209.2 413.5,210.6 412.0,210.5 410.5,210.5 409.0,210.4 407.5,210.3 406.6,209.3 405.8,208.3 404.9,207.3 404.0,206.2" fill="none" stroke="#8a8083" stroke-width="0.5" stroke-linejoin="round"/>
<polygon points="360.0,234.6 366.8,236.0 370.6,233.4 363.9,231.8" fill="#ffffff" />
<polyline points="360.0,234.6 361.7,235.0 363.4,235.3 365.1,235.7 366.8,236.0 367.7,235.4 368.7,234.7 369.6,234.0 370.6,233.4 368.9,233.0 367.3,232.6 365.6,232.2 363.9,231.8 362.9,232.5 362.0,233.2 361.0,233.9 360.0,234.6" fill="none" stroke="#8a8083" stroke-width="0.5" stroke-linejoin="round"/>
<polygon points="370.6,233.4 377.2,234.9 380.9,232.4 374.4,230.7" fill="#ffffff" />
<polyline points="370.6,233.4 372.2,233.8 373.9,234.1 375.6,234.5 377.2,234.9 378.1,234.3 379.1,233.6 380.0,233.0 380.9,232.4 379.3,232.0 377.6,231.5 376.0,231.1 374.4,230.7 373.4,231.4 372.5,232.0 371.5,232.7 370.6,233.4" fill="none" stroke="#8a8083" stroke-width="0.5" stroke-linejoin="round"/>
<g stroke-width="0.35">
<polygon points="383.6,230.5 385.2,229.9 386.2,228.9 384.6,229.8" fill="#ffffff" stroke="#ffffff"/>
<polygon points="382.7,231.1 384.3,230.8 385.2,229.9 383.6,230.5" fill="#ffffff" stroke="#ffffff"/>
<polygon points="385.2,229.9 386.8,229.3 387.7,228.0 386.2,228.9" fill="#fcebec" stroke="#fcebec"/>
<polygon points="381.8,231.7 383.4,231.8 384.3,230.8 382.7,231.1" fill="#ffffff" stroke="#ffffff"/>
<polygon points="384.3,230.8 385.9,230.6 386.8,229.3 385.2,229.9" fill="#fef5f5" stroke="#fef5f5"/>
<polygon points="386.8,229.3 388.4,228.6 389.3,227.0 387.7,228.0" fill="#fad8da" stroke="#fad8da"/>
<polygon points="380.9,232.4 382.5,232.8 383.4,231.8 381.8,231.7" fill="#ffffff" stroke="#ffffff"/>
<polygon points="383.4,231.8 385.0,231.9 385.9,230.6 384.3,230.8" fill="#ffffff" stroke="#ffffff"/>
<polygon points="385.9,230.6 387.6,230.2 388.4,228.6 386.8,229.3" fill="#fce5e6" stroke="#fce5e6"/>
<polygon points="388.4,228.6 390.0,227.9 390.9,226.0 389.3,227.0" fill="#f8c8ca" stroke="#f8c8ca"/>
<polygon points="382.5,232.8 384.2,233.2 385.0,231.9 383.4,231.8" fill="#ffffff" stroke="#ffffff"/>
<polygon points="385.0,231.9 386.7,231.9 387.6,230.2 385.9,230.6" fill="#fef5f5" stroke="#fef5f5"/>
<polygon points="387.6,230.2 389.2,229.9 390.0,227.9 388.4,228.6" fill="#fad8da" stroke="#fad8da"/>
<polygon points="384.2,233.2 385.8,233.6 386.7,231.9 385.0,231.9" fill="#ffffff" stroke="#ffffff"/>
<polygon points="386.7,231.9 388.3,232.0 389.2,229.9 387.6,230.2" fill="#fcebec" stroke="#fcebec"/>
<polygon points="385.8,233.6 387.4,234.0 388.3,232.0 386.7,231.9" fill="#ffffff" stroke="#ffffff"/>
</g>
<polyline points="380.9,232.4 382.5,232.8 384.2,233.2 385.8,233.6 387.4,234.0 388.3,232.0 389.2,229.9 390.0,227.9 390.9,226.0 389.3,227.0 387.7,228.0 386.2,228.9 384.6,229.8 383.6,230.5 382.7,231.1 381.8,231.7 380.9,232.4" fill="none" stroke="#8a8083" stroke-width="0.5" stroke-linejoin="round"/>
<g stroke-width="0.35">
<polygon points="393.5,219.8 395.1,218.6 395.9,216.5 394.4,217.9" fill="#ee787c" stroke="#ee787c"/>
<polygon points="395.1,218.6 396.6,217.3 397.5,215.1 395.9,216.5" fill="#ec686e" stroke="#ec686e"/>
<polygon points="392.6,221.8 394.2,220.7 395.1,218.6 393.5,219.8" fill="#f0878b" stroke="#f0878b"/>
<polygon points="396.6,217.3 398.2,215.9 399.0,213.6 397.5,215.1" fill="#ea5a60" stroke="#ea5a60"/>
<polygon points="391.8,223.9 393.3,222.9 394.2,220.7 392.6,221.8" fill="#f2989b" stroke="#f2989b"/>
<polygon points="394.2,220.7 395.8,219.5 396.6,217.3 395.1,218.6" fill="#ee797e" stroke="#ee797e"/>
<polygon points="390.9,226.0 392.5,225.2 393.3,222.9 391.8,223.9" fill="#f4a9ac" stroke="#f4a9ac"/>
<polygon points="393.3,222.9 394.9,221.9 395.8,219.5 394.2,220.7" fill="#f08a8e" stroke="#f08a8e"/>
<polygon points="395.8,219.5 397.3,218.3 398.2,215.9 396.6,217.3" fill="#ec6b70" stroke="#ec6b70"/>
<polygon points="398.2,215.9 399.7,214.5 400.6,212.1 399.0,213.6" fill="#e84c52" stroke="#e84c52"/>
<polygon points="394.9,221.9 396.5,220.8 397.3,218.3 395.8,219.5" fill="#ee7d82" stroke="#ee7d82"/>
<polygon points="392.5,225.2 394.1,224.3 394.9,221.9 393.3,222.9" fill="#f29ca0" stroke="#f29ca0"/>
<polygon points="397.3,218.3 398.9,217.1 399.7,214.5 398.2,215.9" fill="#ea5e63" stroke="#ea5e63"/>
<polygon points="394.1,224.3 395.6,223.4 396.5,220.8 394.9,221.9" fill="#f19094" stroke="#f19094"/>
<polygon points="396.5,220.8 398.0,219.7 398.9,217.1 397.3,218.3" fill="#ed7175" stroke="#ed7175"/>
<polygon points="395.6,223.4 397.2,222.4 398.0,219.7 396.5,220.8" fill="#ef8489" stroke="#ef8489"/>
</g>
<polyline points="390.9,226.0 392.5,225.2 394.1,224.3 395.6,223.4 397.2,222.4 398.0,219.7 398.9,217.1 399.7,214.5 400.6,212.1 399.0,213.6 397.5,215.1 395.9,216.5 394.4,217.9 393.5,219.8 392.6,221.8 391.8,223.9 390.9,226.0" fill="none" stroke="#8a8083" stroke-width="0.5" stroke-linejoin="round"/>
<g stroke-width="0.35">
<polygon points="403.1,207.6 404.7,207.3 405.5,205.8 404.0,206.2" fill="#e1151d" stroke="#e1151d"/>
<polygon points="402.3,209.0 403.8,208.8 404.7,207.3 403.1,207.6" fill="#e21f27" stroke="#e21f27"/>
<polygon points="404.7,207.3 406.2,207.0 407.0,205.5 405.5,205.8" fill="#e1141c" stroke="#e1141c"/>
<polygon points="401.4,210.5 403.0,210.4 403.8,208.8 402.3,209.0" fill="#e42a31" stroke="#e42a31"/>
<polygon points="403.8,208.8 405.3,208.6 406.2,207.0 404.7,207.3" fill="#e21c24" stroke="#e21c24"/>
<polygon points="406.2,207.0 407.7,206.7 408.6,205.1 407.0,205.5" fill="#e1141c" stroke="#e1141c"/>
<polygon points="400.6,212.1 402.1,212.0 403.0,210.4 401.4,210.5" fill="#e5353c" stroke="#e5353c"/>
<polygon points="403.0,210.4 404.5,210.2 405.3,208.6 403.8,208.8" fill="#e3272f" stroke="#e3272f"/>
<polygon points="405.3,208.6 406.9,208.3 407.7,206.7 406.2,207.0" fill="#e21820" stroke="#e21820"/>
<polygon points="407.7,206.7 409.2,206.4 410.1,204.7 408.6,205.1" fill="#e1141c" stroke="#e1141c"/>
<polygon points="406.9,208.3 408.4,208.1 409.2,206.4 407.7,206.7" fill="#e1151d" stroke="#e1151d"/>
<polygon points="402.1,212.0 403.7,211.9 404.5,210.2 403.0,210.4" fill="#e5333a" stroke="#e5333a"/>
<polygon points="404.5,210.2 406.0,210.1 406.9,208.3 405.3,208.6" fill="#e3242c" stroke="#e3242c"/>
<polygon points="406.0,210.1 407.6,209.9 408.4,208.1 406.9,208.3" fill="#e32129" stroke="#e32129"/>
<polygon points="403.7,211.9 405.2,211.9 406.0,210.1 404.5,210.2" fill="#e53037" stroke="#e53037"/>
<polygon points="405.2,211.9 406.8,211.8 407.6,209.9 406.0,210.1" fill="#e42e35" stroke="#e42e35"/>
</g>
<polyline points="400.6,212.1 402.1,212.0 403.7,211.9 405.2,211.9 406.8,211.8 407.6,209.9 408.4,208.1 409.2,206.4 410.1,204.7 408.6,205.1 407.0,205.5 405.5,205.8 404.0,206.2 403.1,207.6 402.3,209.0 401.4,210.5 400.6,212.1" fill="none" stroke="#8a8083" stroke-width="0.5" stroke-linejoin="round"/>
<g stroke-width="0.35">
<polygon points="412.6,209.2 414.2,211.1 415.0,212.3 413.5,210.6" fill="#e5343b" stroke="#e5343b"/>
<polygon points="411.8,207.8 413.3,209.9 414.2,211.1 412.6,209.2" fill="#e3272f" stroke="#e3272f"/>
<polygon points="414.2,211.1 415.7,213.1 416.5,214.0 415.0,212.3" fill="#e74147" stroke="#e74147"/>
<polygon points="413.3,209.9 414.8,212.0 415.7,213.1 414.2,211.1" fill="#e5363d" stroke="#e5363d"/>
<polygon points="410.9,206.3 412.5,208.6 413.3,209.9 411.8,207.8" fill="#e21b23" stroke="#e21b23"/>
<polygon points="415.7,213.1 417.2,215.1 418.0,215.8 416.5,214.0" fill="#e84e54" stroke="#e84e54"/>
<polygon points="410.1,204.7 411.6,207.2 412.5,208.6 410.9,206.3" fill="#e1141c" stroke="#e1141c"/>
<polygon points="412.5,208.6 414.0,211.0 414.8,212.0 413.3,209.9" fill="#e42b33" stroke="#e42b33"/>
<polygon points="414.8,212.0 416.4,214.3 417.2,215.1 415.7,213.1" fill="#e7454b" stroke="#e7454b"/>
<polygon points="417.2,215.1 418.7,217.1 419.5,217.6 418.0,215.8" fill="#ea5c62" stroke="#ea5c62"/>
<polygon points="411.6,207.2 413.2,209.8 414.0,211.0 412.5,208.6" fill="#e32128" stroke="#e32128"/>
<polygon points="416.4,214.3 417.9,216.5 418.7,217.1 417.2,215.1" fill="#e9555a" stroke="#e9555a"/>
<polygon points="414.0,211.0 415.5,213.4 416.4,214.3 414.8,212.0" fill="#e63c43" stroke="#e63c43"/>
<polygon points="413.2,209.8 414.7,212.5 415.5,213.4 414.0,211.0" fill="#e5333a" stroke="#e5333a"/>
<polygon points="415.5,213.4 417.1,215.9 417.9,216.5 416.4,214.3" fill="#e84d53" stroke="#e84d53"/>
<polygon points="414.7,212.5 416.3,215.3 417.1,215.9 415.5,213.4" fill="#e7464c" stroke="#e7464c"/>
</g>
<polyline points="410.1,204.7 411.6,207.2 413.2,209.8 414.7,212.5 416.3,215.3 417.1,215.9 417.9,216.5 418.7,217.1 419.5,217.6 418.0,215.8 416.5,214.0 415.0,212.3 413.5,210.6 412.6,209.2 411.8,207.8 410.9,206.3 410.1,204.7" fill="none" stroke="#8a8083" stroke-width="0.5" stroke-linejoin="round"/>
<g stroke-width="0.35">
<polygon points="421.9,221.6 423.4,223.7 424.2,224.7 422.7,222.8" fill="#f4aaad" stroke="#f4aaad"/>
<polygon points="421.1,220.4 422.6,222.5 423.4,223.7 421.9,221.6" fill="#f2989c" stroke="#f2989c"/>
<polygon points="423.4,223.7 424.9,225.7 425.7,226.7 424.2,224.7" fill="#f7bdbf" stroke="#f7bdbf"/>
<polygon points="420.3,219.0 421.8,221.3 422.6,222.5 421.1,220.4" fill="#f0888c" stroke="#f0888c"/>
<polygon points="424.9,225.7 426.4,227.9 427.1,228.7 425.7,226.7" fill="#f9d1d3" stroke="#f9d1d3"/>
<polygon points="422.6,222.5 424.1,224.7 424.9,225.7 423.4,223.7" fill="#f4abae" stroke="#f4abae"/>
<polygon points="419.5,217.6 421.0,220.0 421.8,221.3 420.3,219.0" fill="#ee787c" stroke="#ee787c"/>
<polygon points="421.8,221.3 423.3,223.6 424.1,224.7 422.6,222.5" fill="#f29b9e" stroke="#f29b9e"/>
<polygon points="424.1,224.7 425.6,227.0 426.4,227.9 424.9,225.7" fill="#f7bfc2" stroke="#f7bfc2"/>
<polygon points="426.4,227.9 427.8,230.0 428.6,230.7 427.1,228.7" fill="#fceaeb" stroke="#fceaeb"/>
<polygon points="423.3,223.6 424.8,226.0 425.6,227.0 424.1,224.7" fill="#f5afb2" stroke="#f5afb2"/>
<polygon points="421.0,220.0 422.5,222.5 423.3,223.6 421.8,221.3" fill="#f08b8f" stroke="#f08b8f"/>
<polygon points="425.6,227.0 427.1,229.2 427.8,230.0 426.4,227.9" fill="#fad6d8" stroke="#fad6d8"/>
<polygon points="422.5,222.5 424.0,225.0 424.8,226.0 423.3,223.6" fill="#f3a0a3" stroke="#f3a0a3"/>
<polygon points="424.8,226.0 426.3,228.4 427.1,229.2 425.6,227.0" fill="#f8c5c7" stroke="#f8c5c7"/>
<polygon points="424.0,225.0 425.5,227.5 426.3,228.4 424.8,226.0" fill="#f6b6b8" stroke="#f6b6b8"/>
</g>
<polyline points="419.5,217.6 421.0,220.0 422.5,222.5 424.0,225.0 425.5,227.5 426.3,228.4 427.1,229.2 427.8,230.0 428.6,230.7 427.1,228.7 425.7,226.7 424.2,224.7 422.7,222.8 421.9,221.6 421.1,220.4 420.3,219.0 419.5,217.6" fill="none" stroke="#8a8083" stroke-width="0.5" stroke-linejoin="round"/>
<g stroke-width="0.35">
<polygon points="409.2,206.4 410.8,208.7 411.6,207.2 410.1,204.7" fill="#e1141c" stroke="#e1141c"/>
<polygon points="408.4,208.1 410.0,210.3 410.8,208.7 409.2,206.4" fill="#e21b23" stroke="#e21b23"/>
<polygon points="410.8,208.7 412.3,211.2 413.2,209.8 411.6,207.2" fill="#e32128" stroke="#e32128"/>
<polygon points="410.0,210.3 411.5,212.6 412.3,211.2 410.8,208.7" fill="#e42b32" stroke="#e42b32"/>
<polygon points="407.6,209.9 409.2,211.9 410.0,210.3 408.4,208.1" fill="#e3272e" stroke="#e3272e"/>
<polygon points="412.3,211.2 413.9,213.7 414.7,212.5 413.2,209.8" fill="#e5333a" stroke="#e5333a"/>
<polygon points="409.2,211.9 410.7,214.0 411.5,212.6 410.0,210.3" fill="#e5363d" stroke="#e5363d"/>
<polygon points="411.5,212.6 413.1,214.9 413.9,213.7 412.3,211.2" fill="#e63c43" stroke="#e63c43"/>
<polygon points="413.9,213.7 415.5,216.2 416.3,215.3 414.7,212.5" fill="#e7464c" stroke="#e7464c"/>
<polygon points="406.8,211.8 408.3,213.6 409.2,211.9 407.6,209.9" fill="#e5333a" stroke="#e5333a"/>
<polygon points="413.1,214.9 414.7,217.3 415.5,216.2 413.9,213.7" fill="#e84d53" stroke="#e84d53"/>
<polygon points="408.3,213.6 409.9,215.5 410.7,214.0 409.2,211.9" fill="#e74147" stroke="#e74147"/>
<polygon points="410.7,214.0 412.3,216.1 413.1,214.9 411.5,212.6" fill="#e7454b" stroke="#e7454b"/>
<polygon points="412.3,216.1 413.9,218.3 414.7,217.3 413.1,214.9" fill="#e9555a" stroke="#e9555a"/>
<polygon points="409.9,215.5 411.5,217.4 412.3,216.1 410.7,214.0" fill="#e84e54" stroke="#e84e54"/>
<polygon points="411.5,217.4 413.1,219.4 413.9,218.3 412.3,216.1" fill="#ea5c62" stroke="#ea5c62"/>
</g>
<polyline points="406.8,211.8 408.3,213.6 409.9,215.5 411.5,217.4 413.1,219.4 413.9,218.3 414.7,217.3 415.5,216.2 416.3,215.3 414.7,212.5 413.2,209.8 411.6,207.2 410.1,204.7 409.2,206.4 408.4,208.1 407.6,209.9 406.8,211.8" fill="none" stroke="#8a8083" stroke-width="0.5" stroke-linejoin="round"/>
<polygon points="366.8,236.0 373.6,237.5 377.2,234.9 370.6,233.4" fill="#ffffff" />
<polyline points="366.8,236.0 368.5,236.4 370.2,236.8 371.9,237.1 373.6,237.5 374.5,236.8 375.4,236.2 376.3,235.6 377.2,234.9 375.6,234.5 373.9,234.1 372.2,233.8 370.6,233.4 369.6,234.0 368.7,234.7 367.7,235.4 366.8,236.0" fill="none" stroke="#8a8083" stroke-width="0.5" stroke-linejoin="round"/>
<g stroke-width="0.35">
<polygon points="390.0,227.9 391.6,227.3 392.5,225.2 390.9,226.0" fill="#f6bbbd" stroke="#f6bbbd"/>
<polygon points="389.2,229.9 390.8,229.6 391.6,227.3 390.0,227.9" fill="#f9cdcf" stroke="#f9cdcf"/>
<polygon points="391.6,227.3 393.2,226.7 394.1,224.3 392.5,225.2" fill="#f5afb2" stroke="#f5afb2"/>
<polygon points="388.3,232.0 389.9,231.9 390.8,229.6 389.2,229.9" fill="#fbe2e3" stroke="#fbe2e3"/>
<polygon points="393.2,226.7 394.8,226.1 395.6,223.4 394.1,224.3" fill="#f3a4a7" stroke="#f3a4a7"/>
<polygon points="390.8,229.6 392.4,229.2 393.2,226.7 391.6,227.3" fill="#f7c3c5" stroke="#f7c3c5"/>
<polygon points="387.4,234.0 389.0,234.2 389.9,231.9 388.3,232.0" fill="#ffffff" stroke="#ffffff"/>
<polygon points="392.4,229.2 394.0,228.8 394.8,226.1 393.2,226.7" fill="#f6babc" stroke="#f6babc"/>
<polygon points="389.9,231.9 391.5,231.8 392.4,229.2 390.8,229.6" fill="#fadadb" stroke="#fadadb"/>
<polygon points="394.8,226.1 396.4,225.4 397.2,222.4 395.6,223.4" fill="#f29a9d" stroke="#f29a9d"/>
<polygon points="391.5,231.8 393.1,231.7 394.0,228.8 392.4,229.2" fill="#f9d2d4" stroke="#f9d2d4"/>
<polygon points="389.0,234.2 390.7,234.4 391.5,231.8 389.9,231.9" fill="#fef8f8" stroke="#fef8f8"/>
<polygon points="394.0,228.8 395.6,228.4 396.4,225.4 394.8,226.1" fill="#f5b1b4" stroke="#f5b1b4"/>
<polygon points="390.7,234.4 392.3,234.6 393.1,231.7 391.5,231.8" fill="#fdf1f1" stroke="#fdf1f1"/>
<polygon points="393.1,231.7 394.7,231.5 395.6,228.4 394.0,228.8" fill="#f8cbcd" stroke="#f8cbcd"/>
<polygon points="392.3,234.6 393.9,234.7 394.7,231.5 393.1,231.7" fill="#fcebeb" stroke="#fcebeb"/>
</g>
<polyline points="387.4,234.0 389.0,234.2 390.7,234.4 392.3,234.6 393.9,234.7 394.7,231.5 395.6,228.4 396.4,225.4 397.2,222.4 395.6,223.4 394.1,224.3 392.5,225.2 390.9,226.0 390.0,227.9 389.2,229.9 388.3,232.0 387.4,234.0" fill="none" stroke="#8a8083" stroke-width="0.5" stroke-linejoin="round"/>
<polygon points="377.2,234.9 383.9,236.5 387.4,234.0 380.9,232.4" fill="#ffffff" />
<polyline points="377.2,234.9 378.9,235.3 380.6,235.7 382.2,236.1 383.9,236.5 384.8,235.8 385.6,235.2 386.5,234.6 387.4,234.0 385.8,233.6 384.2,233.2 382.5,232.8 380.9,232.4 380.0,233.0 379.1,233.6 378.1,234.3 377.2,234.9" fill="none" stroke="#8a8083" stroke-width="0.5" stroke-linejoin="round"/>
<g stroke-width="0.35">
<polygon points="399.7,214.5 401.3,214.5 402.1,212.0 400.6,212.1" fill="#e7444a" stroke="#e7444a"/>
<polygon points="398.9,217.1 400.4,217.1 401.3,214.5 399.7,214.5" fill="#e9565c" stroke="#e9565c"/>
<polygon points="401.3,214.5 402.8,214.5 403.7,211.9 402.1,212.0" fill="#e74248" stroke="#e74248"/>
<polygon points="398.0,219.7 399.6,219.8 400.4,217.1 398.9,217.1" fill="#ec6a6f" stroke="#ec6a6f"/>
<polygon points="400.4,217.1 402.0,217.1 402.8,214.5 401.3,214.5" fill="#e9555a" stroke="#e9555a"/>
<polygon points="402.8,214.5 404.4,214.5 405.2,211.9 403.7,211.9" fill="#e74046" stroke="#e74046"/>
<polygon points="397.2,222.4 398.8,222.6 399.6,219.8 398.0,219.7" fill="#ef7e82" stroke="#ef7e82"/>
<polygon points="404.4,214.5 406.0,214.4 406.8,211.8 405.2,211.9" fill="#e63e44" stroke="#e63e44"/>
<polygon points="399.6,219.8 401.2,219.9 402.0,217.1 400.4,217.1" fill="#ec686d" stroke="#ec686d"/>
<polygon points="402.0,217.1 403.6,217.2 404.4,214.5 402.8,214.5" fill="#e95359" stroke="#e95359"/>
<polygon points="398.8,222.6 400.4,222.7 401.2,219.9 399.6,219.8" fill="#ee7c81" stroke="#ee7c81"/>
<polygon points="403.6,217.2 405.2,217.2 406.0,214.4 404.4,214.5" fill="#e95157" stroke="#e95157"/>
<polygon points="401.2,219.9 402.8,220.0 403.6,217.2 402.0,217.1" fill="#ec666c" stroke="#ec666c"/>
<polygon points="402.8,220.0 404.4,220.0 405.2,217.2 403.6,217.2" fill="#eb656a" stroke="#eb656a"/>
<polygon points="400.4,222.7 402.0,222.8 402.8,220.0 401.2,219.9" fill="#ee7b7f" stroke="#ee7b7f"/>
<polygon points="402.0,222.8 403.6,223.0 404.4,220.0 402.8,220.0" fill="#ee7a7e" stroke="#ee7a7e"/>
</g>
<polyline points="397.2,222.4 398.8,222.6 400.4,222.7 402.0,222.8 403.6,223.0 404.4,220.0 405.2,217.2 406.0,214.4 406.8,211.8 405.2,211.9 403.7,211.9 402.1,212.0 400.6,212.1 399.7,214.5 398.9,217.1 398.0,219.7 397.2,222.4" fill="none" stroke="#8a8083" stroke-width="0.5" stroke-linejoin="round"/>
<g stroke-width="0.35">
<polygon points="418.7,217.1 420.2,219.6 421.0,220.0 419.5,217.6" fill="#ec6d72" stroke="#ec6d72"/>
<polygon points="417.9,216.5 419.4,219.1 420.2,219.6 418.7,217.1" fill="#ec666b" stroke="#ec666b"/>
<polygon points="420.2,219.6 421.7,222.1 422.5,222.5 421.0,220.0" fill="#ef8185" stroke="#ef8185"/>
<polygon points="417.1,215.9 418.6,218.6 419.4,219.1 417.9,216.5" fill="#eb6065" stroke="#eb6065"/>
<polygon points="419.4,219.1 420.9,221.8 421.7,222.1 420.2,219.6" fill="#ee7a7f" stroke="#ee7a7f"/>
<polygon points="421.7,222.1 423.3,224.7 424.0,225.0 422.5,222.5" fill="#f29599" stroke="#f29599"/>
<polygon points="416.3,215.3 417.8,218.1 418.6,218.6 417.1,215.9" fill="#ea595f" stroke="#ea595f"/>
<polygon points="420.9,221.8 422.5,224.5 423.3,224.7 421.7,222.1" fill="#f18f93" stroke="#f18f93"/>
<polygon points="418.6,218.6 420.2,221.4 420.9,221.8 419.4,219.1" fill="#ed7479" stroke="#ed7479"/>
<polygon points="423.3,224.7 424.8,227.4 425.5,227.5 424.0,225.0" fill="#f4abae" stroke="#f4abae"/>
<polygon points="417.8,218.1 419.4,220.9 420.2,221.4 418.6,218.6" fill="#ec6e73" stroke="#ec6e73"/>
<polygon points="420.2,221.4 421.7,224.2 422.5,224.5 420.9,221.8" fill="#f08a8e" stroke="#f08a8e"/>
<polygon points="422.5,224.5 424.0,227.2 424.8,227.4 423.3,224.7" fill="#f4a6a9" stroke="#f4a6a9"/>
<polygon points="419.4,220.9 420.9,223.9 421.7,224.2 420.2,221.4" fill="#ef8488" stroke="#ef8488"/>
<polygon points="421.7,224.2 423.2,227.1 424.0,227.2 422.5,224.5" fill="#f3a0a4" stroke="#f3a0a4"/>
<polygon points="420.9,223.9 422.5,226.9 423.2,227.1 421.7,224.2" fill="#f29b9e" stroke="#f29b9e"/>
</g>
<polyline points="416.3,215.3 417.8,218.1 419.4,220.9 420.9,223.9 422.5,226.9 423.2,227.1 424.0,227.2 424.8,227.4 425.5,227.5 424.0,225.0 422.5,222.5 421.0,220.0 419.5,217.6 418.7,217.1 417.9,216.5 417.1,215.9 416.3,215.3" fill="none" stroke="#8a8083" stroke-width="0.5" stroke-linejoin="round"/>
<polygon points="373.6,237.5 380.3,238.9 383.9,236.5 377.2,234.9" fill="#ffffff" />
<polyline points="373.6,237.5 375.3,237.8 376.9,238.2 378.6,238.5 380.3,238.9 381.2,238.3 382.1,237.7 383.0,237.1 383.9,236.5 382.2,236.1 380.6,235.7 378.9,235.3 377.2,234.9 376.3,235.6 375.4,236.2 374.5,236.8 373.6,237.5" fill="none" stroke="#8a8083" stroke-width="0.5" stroke-linejoin="round"/>
<polygon points="383.9,236.5 390.5,238.0 393.9,234.7 387.4,234.0" fill="#ffffff" />
<polyline points="383.9,236.5 385.5,236.8 387.2,237.2 388.9,237.6 390.5,238.0 391.4,237.2 392.2,236.3 393.1,235.5 393.9,234.7 392.3,234.6 390.7,234.4 389.0,234.2 387.4,234.0 386.5,234.6 385.6,235.2 384.8,235.8 383.9,236.5" fill="none" stroke="#8a8083" stroke-width="0.5" stroke-linejoin="round"/>
<g stroke-width="0.35">
<polygon points="406.0,214.4 407.5,216.2 408.3,213.6 406.8,211.8" fill="#e74349" stroke="#e74349"/>
<polygon points="407.5,216.2 409.1,217.9 409.9,215.5 408.3,213.6" fill="#e94f55" stroke="#e94f55"/>
<polygon points="405.2,217.2 406.7,218.8 407.5,216.2 406.0,214.4" fill="#e9565b" stroke="#e9565b"/>
<polygon points="406.7,218.8 408.3,220.4 409.1,217.9 407.5,216.2" fill="#eb6166" stroke="#eb6166"/>
<polygon points="409.1,217.9 410.7,219.7 411.5,217.4 409.9,215.5" fill="#ea5b61" stroke="#ea5b61"/>
<polygon points="404.4,220.0 405.9,221.5 406.7,218.8 405.2,217.2" fill="#ec696e" stroke="#ec696e"/>
<polygon points="410.7,219.7 412.3,221.6 413.1,219.4 411.5,217.4" fill="#ec686d" stroke="#ec686d"/>
<polygon points="405.9,221.5 407.5,223.0 408.3,220.4 406.7,218.8" fill="#ed7478" stroke="#ed7478"/>
<polygon points="403.6,223.0 405.2,224.3 405.9,221.5 404.4,220.0" fill="#ee7e82" stroke="#ee7e82"/>
<polygon points="408.3,220.4 409.9,222.1 410.7,219.7 409.1,217.9" fill="#ec6c71" stroke="#ec6c71"/>
<polygon points="405.2,224.3 406.8,225.7 407.5,223.0 405.9,221.5" fill="#f0878b" stroke="#f0878b"/>
<polygon points="409.9,222.1 411.5,223.8 412.3,221.6 410.7,219.7" fill="#ee787d" stroke="#ee787d"/>
<polygon points="407.5,223.0 409.1,224.6 409.9,222.1 408.3,220.4" fill="#ef7e83" stroke="#ef7e83"/>
<polygon points="409.1,224.6 410.7,226.2 411.5,223.8 409.9,222.1" fill="#f0898d" stroke="#f0898d"/>
<polygon points="406.8,225.7 408.4,227.2 409.1,224.6 407.5,223.0" fill="#f19195" stroke="#f19195"/>
<polygon points="408.4,227.2 410.0,228.6 410.7,226.2 409.1,224.6" fill="#f29b9f" stroke="#f29b9f"/>
</g>
<polyline points="403.6,223.0 405.2,224.3 406.8,225.7 408.4,227.2 410.0,228.6 410.7,226.2 411.5,223.8 412.3,221.6 413.1,219.4 411.5,217.4 409.9,215.5 408.3,213.6 406.8,211.8 406.0,214.4 405.2,217.2 404.4,220.0 403.6,223.0" fill="none" stroke="#8a8083" stroke-width="0.5" stroke-linejoin="round"/>
<g stroke-width="0.35">
<polygon points="415.5,216.2 417.0,219.0 417.8,218.1 416.3,215.3" fill="#ea595f" stroke="#ea595f"/>
<polygon points="414.7,217.3 416.2,220.0 417.0,219.0 415.5,216.2" fill="#eb6065" stroke="#eb6065"/>
<polygon points="417.0,219.0 418.6,221.9 419.4,220.9 417.8,218.1" fill="#ec6e73" stroke="#ec6e73"/>
<polygon points="413.9,218.3 415.4,221.0 416.2,220.0 414.7,217.3" fill="#eb666b" stroke="#eb666b"/>
<polygon points="416.2,220.0 417.8,222.8 418.6,221.9 417.0,219.0" fill="#ed7479" stroke="#ed7479"/>
<polygon points="418.6,221.9 420.1,224.8 420.9,223.9 419.4,220.9" fill="#ef8488" stroke="#ef8488"/>
<polygon points="417.8,222.8 419.4,225.7 420.1,224.8 418.6,221.9" fill="#f0898d" stroke="#f0898d"/>
<polygon points="413.1,219.4 414.7,222.0 415.4,221.0 413.9,218.3" fill="#ec6d72" stroke="#ec6d72"/>
<polygon points="415.4,221.0 417.0,223.8 417.8,222.8 416.2,220.0" fill="#ee7a7f" stroke="#ee7a7f"/>
<polygon points="420.1,224.8 421.7,227.7 422.5,226.9 420.9,223.9" fill="#f29b9e" stroke="#f29b9e"/>
<polygon points="417.0,223.8 418.6,226.6 419.4,225.7 417.8,222.8" fill="#f18f93" stroke="#f18f93"/>
<polygon points="419.4,225.7 421.0,228.6 421.7,227.7 420.1,224.8" fill="#f3a0a4" stroke="#f3a0a4"/>
<polygon points="414.7,222.0 416.2,224.8 417.0,223.8 415.4,221.0" fill="#ef8085" stroke="#ef8085"/>
<polygon points="416.2,224.8 417.8,227.5 418.6,226.6 417.0,223.8" fill="#f19599" stroke="#f19599"/>
<polygon points="418.6,226.6 420.2,229.5 421.0,228.6 419.4,225.7" fill="#f4a6a9" stroke="#f4a6a9"/>
<polygon points="417.8,227.5 419.4,230.4 420.2,229.5 418.6,226.6" fill="#f4abae" stroke="#f4abae"/>
</g>
<polyline points="413.1,219.4 414.7,222.0 416.2,224.8 417.8,227.5 419.4,230.4 420.2,229.5 421.0,228.6 421.7,227.7 422.5,226.9 420.9,223.9 419.4,220.9 417.8,218.1 416.3,215.3 415.5,216.2 414.7,217.3 413.9,218.3 413.1,219.4" fill="none" stroke="#8a8083" stroke-width="0.5" stroke-linejoin="round"/>
<g stroke-width="0.35">
<polygon points="396.4,225.4 398.0,225.6 398.8,222.6 397.2,222.4" fill="#f19497" stroke="#f19497"/>
<polygon points="395.6,228.4 397.2,228.6 398.0,225.6 396.4,225.4" fill="#f4acaf" stroke="#f4acaf"/>
<polygon points="398.0,225.6 399.6,225.7 400.4,222.7 398.8,222.6" fill="#f19296" stroke="#f19296"/>
<polygon points="394.7,231.5 396.4,231.8 397.2,228.6 395.6,228.4" fill="#f8c7c9" stroke="#f8c7c9"/>
<polygon points="397.2,228.6 398.8,228.8 399.6,225.7 398.0,225.6" fill="#f4abad" stroke="#f4abad"/>
<polygon points="399.6,225.7 401.2,225.9 402.0,222.8 400.4,222.7" fill="#f19195" stroke="#f19195"/>
<polygon points="393.9,234.7 395.5,235.0 396.4,231.8 394.7,231.5" fill="#fce7e8" stroke="#fce7e8"/>
<polygon points="396.4,231.8 398.0,232.0 398.8,228.8 397.2,228.6" fill="#f8c5c7" stroke="#f8c5c7"/>
<polygon points="401.2,225.9 402.8,226.0 403.6,223.0 402.0,222.8" fill="#f19094" stroke="#f19094"/>
<polygon points="398.8,228.8 400.4,229.0 401.2,225.9 399.6,225.7" fill="#f4a9ac" stroke="#f4a9ac"/>
<polygon points="395.5,235.0 397.2,235.3 398.0,232.0 396.4,231.8" fill="#fce5e6" stroke="#fce5e6"/>
<polygon points="400.4,229.0 402.0,229.2 402.8,226.0 401.2,225.9" fill="#f4a8ab" stroke="#f4a8ab"/>
<polygon points="398.0,232.0 399.6,232.3 400.4,229.0 398.8,228.8" fill="#f7c4c6" stroke="#f7c4c6"/>
<polygon points="399.6,232.3 401.2,232.5 402.0,229.2 400.4,229.0" fill="#f7c3c5" stroke="#f7c3c5"/>
<polygon points="397.2,235.3 398.8,235.6 399.6,232.3 398.0,232.0" fill="#fce4e5" stroke="#fce4e5"/>
<polygon points="398.8,235.6 400.4,235.9 401.2,232.5 399.6,232.3" fill="#fbe2e3" stroke="#fbe2e3"/>
</g>
<polyline points="393.9,234.7 395.5,235.0 397.2,235.3 398.8,235.6 400.4,235.9 401.2,232.5 402.0,229.2 402.8,226.0 403.6,223.0 402.0,222.8 400.4,222.7 398.8,222.6 397.2,222.4 396.4,225.4 395.6,228.4 394.7,231.5 393.9,234.7" fill="none" stroke="#8a8083" stroke-width="0.5" stroke-linejoin="round"/>
<g stroke-width="0.35">
<polygon points="402.8,226.0 404.4,227.3 405.2,224.3 403.6,223.0" fill="#f19397" stroke="#f19397"/>
<polygon points="404.4,227.3 406.0,228.5 406.8,225.7 405.2,224.3" fill="#f29c9f" stroke="#f29c9f"/>
<polygon points="402.0,229.2 403.6,230.3 404.4,227.3 402.8,226.0" fill="#f4abae" stroke="#f4abae"/>
<polygon points="403.6,230.3 405.2,231.4 406.0,228.5 404.4,227.3" fill="#f5b3b5" stroke="#f5b3b5"/>
<polygon points="401.2,232.5 402.8,233.4 403.6,230.3 402.0,229.2" fill="#f8c5c7" stroke="#f8c5c7"/>
<polygon points="406.0,228.5 407.6,229.8 408.4,227.2 406.8,225.7" fill="#f4a5a8" stroke="#f4a5a8"/>
<polygon points="402.8,233.4 404.5,234.4 405.2,231.4 403.6,230.3" fill="#f8ccce" stroke="#f8ccce"/>
<polygon points="407.6,229.8 409.2,231.1 410.0,228.6 408.4,227.2" fill="#f5aeb1" stroke="#f5aeb1"/>
<polygon points="400.4,235.9 402.1,236.6 402.8,233.4 401.2,232.5" fill="#fce4e5" stroke="#fce4e5"/>
<polygon points="405.2,231.4 406.8,232.5 407.6,229.8 406.0,228.5" fill="#f6bbbd" stroke="#f6bbbd"/>
<polygon points="402.1,236.6 403.7,237.4 404.5,234.4 402.8,233.4" fill="#fcebeb" stroke="#fcebeb"/>
<polygon points="406.8,232.5 408.5,233.7 409.2,231.1 407.6,229.8" fill="#f7c3c5" stroke="#f7c3c5"/>
<polygon points="404.5,234.4 406.1,235.3 406.8,232.5 405.2,231.4" fill="#f9d3d5" stroke="#f9d3d5"/>
<polygon points="406.1,235.3 407.7,236.3 408.5,233.7 406.8,232.5" fill="#fadbdc" stroke="#fadbdc"/>
<polygon points="403.7,237.4 405.3,238.2 406.1,235.3 404.5,234.4" fill="#fdf2f2" stroke="#fdf2f2"/>
<polygon points="405.3,238.2 407.0,239.0 407.7,236.3 406.1,235.3" fill="#fefbfb" stroke="#fefbfb"/>
</g>
<polyline points="400.4,235.9 402.1,236.6 403.7,237.4 405.3,238.2 407.0,239.0 407.7,236.3 408.5,233.7 409.2,231.1 410.0,228.6 408.4,227.2 406.8,225.7 405.2,224.3 403.6,223.0 402.8,226.0 402.0,229.2 401.2,232.5 400.4,235.9" fill="none" stroke="#8a8083" stroke-width="0.5" stroke-linejoin="round"/>
<polygon points="380.3,238.9 387.1,240.3 390.5,238.0 383.9,236.5" fill="#ffffff" />
<polyline points="380.3,238.9 382.0,239.2 383.7,239.6 385.4,239.9 387.1,240.3 388.0,239.7 388.8,239.1 389.7,238.6 390.5,238.0 388.9,237.6 387.2,237.2 385.5,236.8 383.9,236.5 383.0,237.1 382.1,237.7 381.2,238.3 380.3,238.9" fill="none" stroke="#8a8083" stroke-width="0.5" stroke-linejoin="round"/>
<g stroke-width="0.35">
<polygon points="393.1,235.5 394.7,235.8 395.5,235.0 393.9,234.7" fill="#ffffff" stroke="#ffffff"/>
<polygon points="392.2,236.3 393.9,236.7 394.7,235.8 393.1,235.5" fill="#ffffff" stroke="#ffffff"/>
<polygon points="394.7,235.8 396.3,236.1 397.2,235.3 395.5,235.0" fill="#ffffff" stroke="#ffffff"/>
<polygon points="391.4,237.2 393.0,237.5 393.9,236.7 392.2,236.3" fill="#ffffff" stroke="#ffffff"/>
<polygon points="393.9,236.7 395.5,237.0 396.3,236.1 394.7,235.8" fill="#ffffff" stroke="#ffffff"/>
<polygon points="396.3,236.1 398.0,236.5 398.8,235.6 397.2,235.3" fill="#ffffff" stroke="#ffffff"/>
<polygon points="390.5,238.0 392.2,238.4 393.0,237.5 391.4,237.2" fill="#ffffff" stroke="#ffffff"/>
<polygon points="398.0,236.5 399.6,236.8 400.4,235.9 398.8,235.6" fill="#fffcfc" stroke="#fffcfc"/>
<polygon points="393.0,237.5 394.7,237.9 395.5,237.0 393.9,236.7" fill="#ffffff" stroke="#ffffff"/>
<polygon points="395.5,237.0 397.2,237.3 398.0,236.5 396.3,236.1" fill="#ffffff" stroke="#ffffff"/>
<polygon points="397.2,237.3 398.8,237.7 399.6,236.8 398.0,236.5" fill="#ffffff" stroke="#ffffff"/>
<polygon points="392.2,238.4 393.8,238.8 394.7,237.9 393.0,237.5" fill="#ffffff" stroke="#ffffff"/>
<polygon points="394.7,237.9 396.3,238.2 397.2,237.3 395.5,237.0" fill="#ffffff" stroke="#ffffff"/>
<polygon points="396.3,238.2 398.0,238.6 398.8,237.7 397.2,237.3" fill="#ffffff" stroke="#ffffff"/>
<polygon points="393.8,238.8 395.5,239.1 396.3,238.2 394.7,237.9" fill="#ffffff" stroke="#ffffff"/>
<polygon points="395.5,239.1 397.2,239.5 398.0,238.6 396.3,238.2" fill="#ffffff" stroke="#ffffff"/>
</g>
<polyline points="390.5,238.0 392.2,238.4 393.8,238.8 395.5,239.1 397.2,239.5 398.0,238.6 398.8,237.7 399.6,236.8 400.4,235.9 398.8,235.6 397.2,235.3 395.5,235.0 393.9,234.7 393.1,235.5 392.2,236.3 391.4,237.2 390.5,238.0" fill="none" stroke="#8a8083" stroke-width="0.5" stroke-linejoin="round"/>
<g stroke-width="0.35">
<polygon points="412.3,221.6 413.9,224.2 414.7,222.0 413.1,219.4" fill="#ee787c" stroke="#ee787c"/>
<polygon points="411.5,223.8 413.1,226.4 413.9,224.2 412.3,221.6" fill="#f0878c" stroke="#f0878c"/>
<polygon points="413.9,224.2 415.5,226.8 416.2,224.8 414.7,222.0" fill="#f08b8f" stroke="#f08b8f"/>
<polygon points="415.5,226.8 417.1,229.5 417.8,227.5 416.2,224.8" fill="#f39fa3" stroke="#f39fa3"/>
<polygon points="410.7,226.2 412.4,228.6 413.1,226.4 411.5,223.8" fill="#f2989b" stroke="#f2989b"/>
<polygon points="413.1,226.4 414.7,228.9 415.5,226.8 413.9,224.2" fill="#f29a9e" stroke="#f29a9e"/>
<polygon points="410.0,228.6 411.6,231.0 412.4,228.6 410.7,226.2" fill="#f4a9ac" stroke="#f4a9ac"/>
<polygon points="414.7,228.9 416.3,231.5 417.1,229.5 415.5,226.8" fill="#f5afb1" stroke="#f5afb1"/>
<polygon points="417.1,229.5 418.7,232.3 419.4,230.4 417.8,227.5" fill="#f6b5b8" stroke="#f6b5b8"/>
<polygon points="412.4,228.6 414.0,231.1 414.7,228.9 413.1,226.4" fill="#f4abae" stroke="#f4abae"/>
<polygon points="414.0,231.1 415.6,233.6 416.3,231.5 414.7,228.9" fill="#f7bfc1" stroke="#f7bfc1"/>
<polygon points="411.6,231.0 413.2,233.3 414.0,231.1 412.4,228.6" fill="#f6bcbe" stroke="#f6bcbe"/>
<polygon points="416.3,231.5 418.0,234.2 418.7,232.3 417.1,229.5" fill="#f8c5c7" stroke="#f8c5c7"/>
<polygon points="413.2,233.3 414.9,235.8 415.6,233.6 414.0,231.1" fill="#f9d1d3" stroke="#f9d1d3"/>
<polygon points="415.6,233.6 417.2,236.2 418.0,234.2 416.3,231.5" fill="#fad6d7" stroke="#fad6d7"/>
<polygon points="414.9,235.8 416.5,238.2 417.2,236.2 415.6,233.6" fill="#fceaeb" stroke="#fceaeb"/>
</g>
<polyline points="410.0,228.6 411.6,231.0 413.2,233.3 414.9,235.8 416.5,238.2 417.2,236.2 418.0,234.2 418.7,232.3 419.4,230.4 417.8,227.5 416.2,224.8 414.7,222.0 413.1,219.4 412.3,221.6 411.5,223.8 410.7,226.2 410.0,228.6" fill="none" stroke="#8a8083" stroke-width="0.5" stroke-linejoin="round"/>
<polygon points="397.2,239.5 403.8,241.1 407.0,239.0 400.4,235.9" fill="#ffffff" />
<polyline points="397.2,239.5 398.8,239.9 400.5,240.3 402.2,240.7 403.8,241.1 404.6,240.6 405.4,240.0 406.2,239.5 407.0,239.0 405.3,238.2 403.7,237.4 402.1,236.6 400.4,235.9 399.6,236.8 398.8,237.7 398.0,238.6 397.2,239.5" fill="none" stroke="#8a8083" stroke-width="0.5" stroke-linejoin="round"/>
<g stroke-width="0.35">
<polygon points="409.2,231.1 410.9,233.0 411.6,231.0 410.0,228.6" fill="#f6bbbe" stroke="#f6bbbe"/>
<polygon points="408.5,233.7 410.1,235.1 410.9,233.0 409.2,231.1" fill="#f9ced0" stroke="#f9ced0"/>
<polygon points="410.9,233.0 412.5,234.9 413.2,233.3 411.6,231.0" fill="#f9cdce" stroke="#f9cdce"/>
<polygon points="407.7,236.3 409.4,237.2 410.1,235.1 408.5,233.7" fill="#fbe3e4" stroke="#fbe3e4"/>
<polygon points="412.5,234.9 414.1,236.8 414.9,235.8 413.2,233.3" fill="#fbe0e1" stroke="#fbe0e1"/>
<polygon points="410.1,235.1 411.7,236.5 412.5,234.9 410.9,233.0" fill="#fadcdd" stroke="#fadcdd"/>
<polygon points="407.0,239.0 408.6,239.4 409.4,237.2 407.7,236.3" fill="#ffffff" stroke="#ffffff"/>
<polygon points="411.7,236.5 413.4,238.0 414.1,236.8 412.5,234.9" fill="#fdecec" stroke="#fdecec"/>
<polygon points="409.4,237.2 411.0,238.2 411.7,236.5 410.1,235.1" fill="#fdeeee" stroke="#fdeeee"/>
<polygon points="414.1,236.8 415.8,238.8 416.5,238.2 414.9,235.8" fill="#fefbfb" stroke="#fefbfb"/>
<polygon points="411.0,238.2 412.6,239.1 413.4,238.0 411.7,236.5" fill="#fefbfb" stroke="#fefbfb"/>
<polygon points="408.6,239.4 410.2,239.8 411.0,238.2 409.4,237.2" fill="#ffffff" stroke="#ffffff"/>
<polygon points="413.4,238.0 415.0,239.4 415.8,238.8 414.1,236.8" fill="#ffffff" stroke="#ffffff"/>
<polygon points="410.2,239.8 411.9,240.3 412.6,239.1 411.0,238.2" fill="#ffffff" stroke="#ffffff"/>
<polygon points="412.6,239.1 414.2,240.1 415.0,239.4 413.4,238.0" fill="#ffffff" stroke="#ffffff"/>
<polygon points="411.9,240.3 413.5,240.7 414.2,240.1 412.6,239.1" fill="#ffffff" stroke="#ffffff"/>
</g>
<polyline points="407.0,239.0 408.6,239.4 410.2,239.8 411.9,240.3 413.5,240.7 414.2,240.1 415.0,239.4 415.8,238.8 416.5,238.2 414.9,235.8 413.2,233.3 411.6,231.0 410.0,228.6 409.2,231.1 408.5,233.7 407.7,236.3 407.0,239.0" fill="none" stroke="#8a8083" stroke-width="0.5" stroke-linejoin="round"/>
<polygon points="387.1,240.3 393.9,241.7 397.2,239.5 390.5,238.0" fill="#ffffff" />
<polyline points="387.1,240.3 388.8,240.6 390.5,241.0 392.2,241.3 393.9,241.7 394.7,241.2 395.5,240.6 396.4,240.1 397.2,239.5 395.5,239.1 393.8,238.8 392.2,238.4 390.5,238.0 389.7,238.6 388.8,239.1 388.0,239.7 387.1,240.3" fill="none" stroke="#8a8083" stroke-width="0.5" stroke-linejoin="round"/>
<polygon points="393.9,241.7 400.7,243.1 403.8,241.1 397.2,239.5" fill="#ffffff" />
<polyline points="393.9,241.7 395.6,242.0 397.3,242.4 399.0,242.8 400.7,243.1 401.5,242.6 402.2,242.1 403.0,241.6 403.8,241.1 402.2,240.7 400.5,240.3 398.8,239.9 397.2,239.5 396.4,240.1 395.5,240.6 394.7,241.2 393.9,241.7" fill="none" stroke="#8a8083" stroke-width="0.5" stroke-linejoin="round"/>
<polygon points="403.8,241.1 410.5,242.6 413.5,240.7 407.0,239.0" fill="#ffffff" />
<polyline points="403.8,241.1 405.5,241.4 407.1,241.8 408.8,242.2 410.5,242.6 411.2,242.1 412.0,241.6 412.7,241.2 413.5,240.7 411.9,240.3 410.2,239.8 408.6,239.4 407.0,239.0 406.2,239.5 405.4,240.0 404.6,240.6 403.8,241.1" fill="none" stroke="#8a8083" stroke-width="0.5" stroke-linejoin="round"/>
<polygon points="400.7,243.1 407.4,244.5 410.5,242.6 403.8,241.1" fill="#ffffff" />
<polyline points="400.7,243.1 402.4,243.5 404.1,243.8 405.8,244.2 407.4,244.5 408.2,244.0 409.0,243.6 409.7,243.1 410.5,242.6 408.8,242.2 407.1,241.8 405.5,241.4 403.8,241.1 403.0,241.6 402.2,242.1 401.5,242.6 400.7,243.1" fill="none" stroke="#8a8083" stroke-width="0.5" stroke-linejoin="round"/>
<polygon points="355.5,263.5 355.5,271.5 409.0,284.5" fill="#a8a8a8" />
<polygon points="409.5,284.0 436.0,251.0 439.0,258.0" fill="#a8a8a8" />
<text x="355.50" y="209.30" font-size="8.3" fill="#333" text-anchor="end">60</text>
<text x="355.50" y="220.30" font-size="8.3" fill="#333" text-anchor="end">40</text>
<text x="355.50" y="229.60" font-size="8.3" fill="#333" text-anchor="end">20</text>
<text x="355.50" y="240.00" font-size="8.3" fill="#333" text-anchor="end">0</text>
<text x="340.70" y="221.50" font-size="8.8" fill="#333" text-anchor="middle" textLength="31" lengthAdjust="spacingAndGlyphs" transform="rotate(-90 340.70 221.50)">δ · score</text>
<text x="356.40" y="292.50" font-size="8.6" fill="#333" textLength="39.8" lengthAdjust="spacingAndGlyphs">20D9-ADC</text>
<text x="425.00" y="282.70" font-size="8.6" fill="#333" textLength="44.2" lengthAdjust="spacingAndGlyphs">Midostaurin</text>
<text x="26.50" y="366.80" font-size="11" font-weight="bold" fill="#111" stroke="#111" stroke-width="0.35">E</text>
<line x1="84.60" y1="368.00" x2="84.60" y2="458.70" stroke="#2b2b2b" stroke-width="1.2" />
<line x1="80.10" y1="458.20" x2="84.60" y2="458.20" stroke="#2b2b2b" stroke-width="1" />
<text x="77.10" y="461.20" font-size="8.2" fill="#231f20" text-anchor="end">0</text>
<line x1="80.10" y1="417.30" x2="84.60" y2="417.30" stroke="#2b2b2b" stroke-width="1" />
<text x="77.10" y="420.30" font-size="8.2" fill="#231f20" text-anchor="end">50</text>
<line x1="80.10" y1="376.40" x2="84.60" y2="376.40" stroke="#2b2b2b" stroke-width="1" />
<text x="77.10" y="379.40" font-size="8.2" fill="#231f20" text-anchor="end">100</text>
<text x="55.60" y="412.60" font-size="9.8" fill="#231f20" text-anchor="middle" textLength="92" lengthAdjust="spacingAndGlyphs" transform="rotate(-90 55.60 412.60)">Viability (% of untreated)</text>
<line x1="84.00" y1="458.40" x2="235.00" y2="458.40" stroke="#2b2b2b" stroke-width="1.3" />
<line x1="112.20" y1="453.70" x2="125.20" y2="453.70" stroke="#231f20" stroke-width="1" />
<line x1="139.20" y1="428.75" x2="139.20" y2="414.03" stroke="#c4121c" stroke-width="1" />
<line x1="132.70" y1="421.39" x2="145.70" y2="421.39" stroke="#231f20" stroke-width="1" />
<line x1="159.70" y1="391.12" x2="159.70" y2="379.67" stroke="#c4121c" stroke-width="1" />
<line x1="153.20" y1="385.40" x2="166.20" y2="385.40" stroke="#231f20" stroke-width="1" />
<line x1="180.20" y1="434.48" x2="180.20" y2="418.94" stroke="#2c2b88" stroke-width="1" />
<line x1="173.70" y1="427.12" x2="186.70" y2="427.12" stroke="#231f20" stroke-width="1" />
<line x1="200.70" y1="400.94" x2="200.70" y2="389.49" stroke="#2c2b88" stroke-width="1" />
<line x1="194.20" y1="394.40" x2="207.20" y2="394.40" stroke="#231f20" stroke-width="1" />
<line x1="200.70" y1="417.30" x2="200.70" y2="401.76" stroke="#1f9c4a" stroke-width="1" />
<line x1="194.20" y1="410.76" x2="207.20" y2="410.76" stroke="#231f20" stroke-width="1" />
<line x1="214.70" y1="377.22" x2="227.70" y2="377.22" stroke="#231f20" stroke-width="1" />
<line x1="214.70" y1="380.49" x2="227.70" y2="380.49" stroke="#231f20" stroke-width="1" />
<circle cx="93.90" cy="457.79" r="2.35" fill="#1f9c4a" />
<polygon points="102.7,454.9 105.3,457.8 102.7,460.7 100.1,457.8" fill="#1f9c4a" />
<circle cx="93.90" cy="456.56" r="2.35" fill="#c4121c" />
<polygon points="98.3,453.3 100.9,456.2 98.3,459.1 95.7,456.2" fill="#c4121c" />
<polygon points="102.7,454.2 105.4,459.0 100.0,459.0" fill="#c4121c" />
<circle cx="114.30" cy="457.38" r="2.35" fill="#1f9c4a" />
<polygon points="123.1,454.5 125.7,457.4 123.1,460.3 120.5,457.4" fill="#1f9c4a" />
<circle cx="118.70" cy="456.56" r="2.35" fill="#2c2b88" />
<circle cx="115.70" cy="454.93" r="2.35" fill="#c4121c" />
<polygon points="118.7,449.6 121.3,452.5 118.7,455.4 116.1,452.5" fill="#c4121c" />
<polygon points="123.1,452.9 125.8,457.7 120.4,457.7" fill="#c4121c" />
<circle cx="134.80" cy="457.38" r="2.35" fill="#1f9c4a" />
<circle cx="134.80" cy="454.93" r="2.35" fill="#2c2b88" />
<polygon points="139.2,452.0 141.8,454.9 139.2,457.8 136.6,454.9" fill="#2c2b88" />
<polygon points="143.6,452.1 146.3,456.9 140.9,456.9" fill="#2c2b88" />
<circle cx="139.20" cy="414.03" r="2.35" fill="#c4121c" />
<polygon points="139.2,419.3 141.8,422.2 139.2,425.1 136.6,422.2" fill="#c4121c" />
<polygon points="139.2,426.0 141.9,430.8 136.5,430.8" fill="#c4121c" />
<circle cx="155.30" cy="455.75" r="2.35" fill="#1f9c4a" />
<polygon points="159.7,452.0 162.3,454.9 159.7,457.8 157.1,454.9" fill="#1f9c4a" />
<polygon points="164.1,452.9 166.8,457.7 161.4,457.7" fill="#1f9c4a" />
<circle cx="155.30" cy="449.20" r="2.35" fill="#2c2b88" />
<polygon points="159.7,445.5 162.3,448.4 159.7,451.3 157.1,448.4" fill="#2c2b88" />
<polygon points="164.1,447.2 166.8,452.0 161.4,452.0" fill="#2c2b88" />
<circle cx="159.70" cy="379.67" r="2.35" fill="#c4121c" />
<polygon points="155.3,382.5 157.9,385.4 155.3,388.3 152.7,385.4" fill="#c4121c" />
<polygon points="159.7,388.3 162.4,393.1 157.0,393.1" fill="#c4121c" />
<circle cx="175.80" cy="448.38" r="2.35" fill="#1f9c4a" />
<polygon points="180.2,444.7 182.8,447.6 180.2,450.5 177.6,447.6" fill="#1f9c4a" />
<polygon points="184.6,445.6 187.3,450.4 181.9,450.4" fill="#1f9c4a" />
<circle cx="180.20" cy="418.94" r="2.35" fill="#2c2b88" />
<polygon points="180.2,423.4 182.8,426.3 180.2,429.2 177.6,426.3" fill="#2c2b88" />
<polygon points="180.2,431.7 182.9,436.5 177.5,436.5" fill="#2c2b88" />
<circle cx="175.80" cy="378.85" r="2.35" fill="#c4121c" />
<polygon points="180.2,374.3 182.8,377.2 180.2,380.1 177.6,377.2" fill="#c4121c" />
<polygon points="184.6,376.9 187.3,381.7 181.9,381.7" fill="#c4121c" />
<circle cx="200.70" cy="401.76" r="2.35" fill="#1f9c4a" />
<polygon points="200.7,408.7 203.3,411.6 200.7,414.5 198.1,411.6" fill="#1f9c4a" />
<polygon points="200.7,414.5 203.4,419.3 198.0,419.3" fill="#1f9c4a" />
<circle cx="205.10" cy="389.49" r="2.35" fill="#2c2b88" />
<polygon points="205.1,398.0 207.7,400.9 205.1,403.8 202.5,400.9" fill="#2c2b88" />
<polygon points="200.7,390.0 203.4,394.8 198.0,394.8" fill="#2c2b88" />
<circle cx="196.30" cy="378.04" r="2.35" fill="#c4121c" />
<polygon points="200.7,374.3 203.3,377.2 200.7,380.1 198.1,377.2" fill="#c4121c" />
<polygon points="205.1,372.8 207.8,377.6 202.4,377.6" fill="#c4121c" />
<circle cx="216.80" cy="383.76" r="2.35" fill="#1f9c4a" />
<polygon points="225.6,381.7 228.2,384.6 225.6,387.5 223.0,384.6" fill="#1f9c4a" />
<polygon points="221.2,380.1 223.9,384.9 218.5,384.9" fill="#1f9c4a" />
<circle cx="216.80" cy="380.49" r="2.35" fill="#2c2b88" />
<polygon points="225.6,377.6 228.2,380.5 225.6,383.4 223.0,380.5" fill="#2c2b88" />
<polygon points="221.2,376.9 223.9,381.7 218.5,381.7" fill="#2c2b88" />
<circle cx="216.80" cy="376.40" r="2.35" fill="#c4121c" />
<polygon points="221.2,372.7 223.8,375.6 221.2,378.5 218.6,375.6" fill="#c4121c" />
<polygon points="225.6,374.4 228.3,379.2 222.9,379.2" fill="#c4121c" />
<polyline points="191.2,428.7 194.5,428.7 194.5,446.0 191.2,446.0" fill="none" stroke="#333" stroke-width="1" />
<text x="197.00" y="442.95" font-size="9.5" fill="#333" font-weight="bold" textLength="13.8" lengthAdjust="spacingAndGlyphs">****</text>
<polyline points="212.3,393.4 215.6,393.4 215.6,411.4 212.3,411.4" fill="none" stroke="#333" stroke-width="1" />
<text x="218.30" y="408.00" font-size="9.5" fill="#333" font-weight="bold" textLength="13.8" lengthAdjust="spacingAndGlyphs">****</text>
<circle cx="244.90" cy="425.40" r="2.3" fill="#c4121c" />
<text x="251.20" y="428.30" font-size="8.3" fill="#231f20" textLength="41.1" lengthAdjust="spacingAndGlyphs">Quizartinib</text>
<circle cx="244.90" cy="436.20" r="2.3" fill="#2c2b88" />
<text x="251.20" y="439.10" font-size="8.3" fill="#231f20" textLength="40.3" lengthAdjust="spacingAndGlyphs">20D9-ADC</text>
<circle cx="244.90" cy="446.90" r="2.3" fill="#1f9c4a" />
<text x="251.20" y="449.80" font-size="8.3" fill="#231f20" textLength="46" lengthAdjust="spacingAndGlyphs">combination</text>
<text x="80.50" y="473.10" font-size="8.8" fill="#231f20" text-anchor="end" textLength="63.7" lengthAdjust="spacingAndGlyphs">Quizartinib (nM)</text>
<text x="80.50" y="486.40" font-size="8.8" fill="#231f20" text-anchor="end" textLength="77.5" lengthAdjust="spacingAndGlyphs">20D9-ADC (ng/mL)</text>
<text x="98.20" y="473.05" font-size="7.1" fill="#231f20" text-anchor="middle">5</text>
<text x="118.70" y="473.05" font-size="7.1" fill="#231f20" text-anchor="middle">2.5</text>
<text x="139.20" y="473.05" font-size="7.1" fill="#231f20" text-anchor="middle">1.25</text>
<text x="159.70" y="473.05" font-size="7.1" fill="#231f20" text-anchor="middle">0.63</text>
<text x="180.20" y="473.05" font-size="7.1" fill="#231f20" text-anchor="middle">0.31</text>
<text x="200.70" y="473.05" font-size="7.1" fill="#231f20" text-anchor="middle">0.16</text>
<text x="221.20" y="473.05" font-size="7.1" fill="#231f20" text-anchor="middle">0.08</text>
<text x="98.20" y="486.35" font-size="7.1" fill="#231f20" text-anchor="middle">250</text>
<text x="118.70" y="486.35" font-size="7.1" fill="#231f20" text-anchor="middle">125</text>
<text x="139.20" y="486.35" font-size="7.1" fill="#231f20" text-anchor="middle">62.5</text>
<text x="159.70" y="486.35" font-size="7.1" fill="#231f20" text-anchor="middle">31.25</text>
<text x="180.20" y="486.35" font-size="7.1" fill="#231f20" text-anchor="middle">15.63</text>
<text x="200.70" y="486.35" font-size="7.1" fill="#231f20" text-anchor="middle">7.81</text>
<text x="221.20" y="486.35" font-size="7.1" fill="#231f20" text-anchor="middle">3.9</text>
<rect x="83.8" y="491.5" width="152.5" height="23.899999999999977" fill="none" stroke="#333" stroke-width="1.1"/>
<text x="80.50" y="506.95" font-size="9.8" fill="#231f20" text-anchor="end">CI</text>
<text x="98.20" y="500.05" font-size="7.1" fill="#231f20" text-anchor="middle">2.36</text>
<text x="118.70" y="500.05" font-size="7.1" fill="#231f20" text-anchor="middle">1.34</text>
<text x="139.20" y="500.05" font-size="7.1" fill="#231f20" text-anchor="middle">0.94</text>
<line x1="132.40" y1="500.40" x2="146.00" y2="500.40" stroke="#555" stroke-width="0.6" />
<text x="159.70" y="500.05" font-size="7.1" fill="#231f20" text-anchor="middle">0.52</text>
<line x1="152.90" y1="500.40" x2="166.50" y2="500.40" stroke="#555" stroke-width="0.6" />
<text x="180.20" y="500.05" font-size="7.1" fill="#231f20" text-anchor="middle">0.49</text>
<line x1="173.40" y1="500.40" x2="187.00" y2="500.40" stroke="#555" stroke-width="0.6" />
<text x="200.70" y="500.05" font-size="7.1" fill="#231f20" text-anchor="middle">0.84</text>
<line x1="193.90" y1="500.40" x2="207.50" y2="500.40" stroke="#555" stroke-width="0.6" />
<text x="221.20" y="500.05" font-size="7.1" fill="#231f20" text-anchor="middle">1.29</text>
<text x="98.20" y="510.55" font-size="7.1" fill="#231f20" text-anchor="middle">±1.2</text>
<text x="118.70" y="510.55" font-size="7.1" fill="#231f20" text-anchor="middle">±0.24</text>
<text x="139.20" y="510.55" font-size="7.1" fill="#231f20" text-anchor="middle">±0.06</text>
<text x="159.70" y="510.55" font-size="7.1" fill="#231f20" text-anchor="middle">±0.01</text>
<text x="180.20" y="510.55" font-size="7.1" fill="#231f20" text-anchor="middle">±0.03</text>
<text x="200.70" y="510.55" font-size="7.1" fill="#231f20" text-anchor="middle">±0.16</text>
<text x="221.20" y="510.55" font-size="7.1" fill="#231f20" text-anchor="middle">±0.10</text>
<text x="313.00" y="366.50" font-size="11" font-weight="bold" fill="#111" stroke="#111" stroke-width="0.35">F</text>
<line x1="353.00" y1="417.00" x2="353.00" y2="363.00" stroke="#d9d9d9" stroke-width="0.55" />
<line x1="387.60" y1="390.00" x2="387.60" y2="351.30" stroke="#d9d9d9" stroke-width="0.55" />
<line x1="357.32" y1="413.62" x2="357.32" y2="361.54" stroke="#d9d9d9" stroke-width="0.55" />
<line x1="393.69" y1="392.31" x2="393.69" y2="352.24" stroke="#d9d9d9" stroke-width="0.55" />
<line x1="361.65" y1="410.25" x2="361.65" y2="360.07" stroke="#d9d9d9" stroke-width="0.55" />
<line x1="399.78" y1="394.62" x2="399.78" y2="353.18" stroke="#d9d9d9" stroke-width="0.55" />
<line x1="365.98" y1="406.88" x2="365.98" y2="358.61" stroke="#d9d9d9" stroke-width="0.55" />
<line x1="405.86" y1="396.94" x2="405.86" y2="354.11" stroke="#d9d9d9" stroke-width="0.55" />
<line x1="370.30" y1="403.50" x2="370.30" y2="357.15" stroke="#d9d9d9" stroke-width="0.55" />
<line x1="411.95" y1="399.25" x2="411.95" y2="355.05" stroke="#d9d9d9" stroke-width="0.55" />
<line x1="374.62" y1="400.12" x2="374.62" y2="355.69" stroke="#d9d9d9" stroke-width="0.55" />
<line x1="418.04" y1="401.56" x2="418.04" y2="355.99" stroke="#d9d9d9" stroke-width="0.55" />
<line x1="378.95" y1="396.75" x2="378.95" y2="354.23" stroke="#d9d9d9" stroke-width="0.55" />
<line x1="424.12" y1="403.88" x2="424.12" y2="356.93" stroke="#d9d9d9" stroke-width="0.55" />
<line x1="383.28" y1="393.38" x2="383.28" y2="352.76" stroke="#d9d9d9" stroke-width="0.55" />
<line x1="430.21" y1="406.19" x2="430.21" y2="357.86" stroke="#d9d9d9" stroke-width="0.55" />
<line x1="387.60" y1="390.00" x2="387.60" y2="351.30" stroke="#d9d9d9" stroke-width="0.55" />
<line x1="436.30" y1="408.50" x2="436.30" y2="358.80" stroke="#d9d9d9" stroke-width="0.55" />
<polyline points="353.0,417.0 387.6,390.0 436.3,408.5" fill="none" stroke="#d9d9d9" stroke-width="0.55" />
<polyline points="353.0,410.2 387.6,385.2 436.3,402.3" fill="none" stroke="#d9d9d9" stroke-width="0.55" />
<polyline points="353.0,403.5 387.6,380.3 436.3,396.1" fill="none" stroke="#d9d9d9" stroke-width="0.55" />
<polyline points="353.0,396.8 387.6,375.5 436.3,389.9" fill="none" stroke="#d9d9d9" stroke-width="0.55" />
<polyline points="353.0,390.0 387.6,370.6 436.3,383.6" fill="none" stroke="#d9d9d9" stroke-width="0.55" />
<polyline points="353.0,383.2 387.6,365.8 436.3,377.4" fill="none" stroke="#d9d9d9" stroke-width="0.55" />
<polyline points="353.0,376.5 387.6,361.0 436.3,371.2" fill="none" stroke="#d9d9d9" stroke-width="0.55" />
<polyline points="353.0,369.8 387.6,356.1 436.3,365.0" fill="none" stroke="#d9d9d9" stroke-width="0.55" />
<polyline points="353.0,363.0 387.6,351.3 436.3,358.8" fill="none" stroke="#d9d9d9" stroke-width="0.55" />
<line x1="353.00" y1="417.00" x2="387.60" y2="390.00" stroke="#d9d9d9" stroke-width="0.55" />
<line x1="353.00" y1="417.00" x2="403.50" y2="438.00" stroke="#d9d9d9" stroke-width="0.55" />
<line x1="359.31" y1="419.62" x2="393.69" y2="392.31" stroke="#d9d9d9" stroke-width="0.55" />
<line x1="357.32" y1="413.62" x2="407.60" y2="434.31" stroke="#d9d9d9" stroke-width="0.55" />
<line x1="365.62" y1="422.25" x2="399.78" y2="394.62" stroke="#d9d9d9" stroke-width="0.55" />
<line x1="361.65" y1="410.25" x2="411.70" y2="430.62" stroke="#d9d9d9" stroke-width="0.55" />
<line x1="371.94" y1="424.88" x2="405.86" y2="396.94" stroke="#d9d9d9" stroke-width="0.55" />
<line x1="365.98" y1="406.88" x2="415.80" y2="426.94" stroke="#d9d9d9" stroke-width="0.55" />
<line x1="378.25" y1="427.50" x2="411.95" y2="399.25" stroke="#d9d9d9" stroke-width="0.55" />
<line x1="370.30" y1="403.50" x2="419.90" y2="423.25" stroke="#d9d9d9" stroke-width="0.55" />
<line x1="384.56" y1="430.12" x2="418.04" y2="401.56" stroke="#d9d9d9" stroke-width="0.55" />
<line x1="374.62" y1="400.12" x2="424.00" y2="419.56" stroke="#d9d9d9" stroke-width="0.55" />
<line x1="390.88" y1="432.75" x2="424.12" y2="403.88" stroke="#d9d9d9" stroke-width="0.55" />
<line x1="378.95" y1="396.75" x2="428.10" y2="415.88" stroke="#d9d9d9" stroke-width="0.55" />
<line x1="397.19" y1="435.38" x2="430.21" y2="406.19" stroke="#d9d9d9" stroke-width="0.55" />
<line x1="383.28" y1="393.38" x2="432.20" y2="412.19" stroke="#d9d9d9" stroke-width="0.55" />
<line x1="403.50" y1="438.00" x2="436.30" y2="408.50" stroke="#d9d9d9" stroke-width="0.55" />
<line x1="387.60" y1="390.00" x2="436.30" y2="408.50" stroke="#d9d9d9" stroke-width="0.55" />
<polygon points="382.7,375.5 389.7,377.4 394.6,374.5 387.6,372.6" fill="#ffffff" />
<polyline points="382.7,375.5 384.4,375.9 386.2,376.4 387.9,376.9 389.7,377.4 390.9,376.7 392.1,376.0 393.3,375.2 394.6,374.5 392.8,374.0 391.1,373.6 389.3,373.1 387.6,372.6 386.4,373.3 385.1,374.0 383.9,374.7 382.7,375.5" fill="none" stroke="#8a8083" stroke-width="0.5" stroke-linejoin="round"/>
<polygon points="377.7,378.3 384.7,380.2 389.7,377.4 382.7,375.5" fill="#ffffff" />
<polyline points="377.7,378.3 379.5,378.8 381.2,379.3 383.0,379.8 384.7,380.2 386.0,379.5 387.2,378.8 388.4,378.1 389.7,377.4 387.9,376.9 386.2,376.4 384.4,375.9 382.7,375.5 381.4,376.2 380.2,376.9 379.0,377.6 377.7,378.3" fill="none" stroke="#8a8083" stroke-width="0.5" stroke-linejoin="round"/>
<g stroke-width="0.35">
<polygon points="393.3,375.2 395.1,375.6 396.3,375.0 394.6,374.5" fill="#ffffff" stroke="#ffffff"/>
<polygon points="395.1,375.6 396.8,376.0 398.0,375.5 396.3,375.0" fill="#ffffff" stroke="#ffffff"/>
<polygon points="392.1,376.0 393.8,376.2 395.1,375.6 393.3,375.2" fill="#ffffff" stroke="#ffffff"/>
<polygon points="390.9,376.7 392.6,376.9 393.8,376.2 392.1,376.0" fill="#ffffff" stroke="#ffffff"/>
<polygon points="393.8,376.2 395.6,376.5 396.8,376.0 395.1,375.6" fill="#ffffff" stroke="#ffffff"/>
<polygon points="396.8,376.0 398.6,376.4 399.8,376.0 398.0,375.5" fill="#ffffff" stroke="#ffffff"/>
<polygon points="392.6,376.9 394.4,377.0 395.6,376.5 393.8,376.2" fill="#ffffff" stroke="#ffffff"/>
<polygon points="398.6,376.4 400.3,376.8 401.5,376.5 399.8,376.0" fill="#ffffff" stroke="#ffffff"/>
<polygon points="389.7,377.4 391.4,377.5 392.6,376.9 390.9,376.7" fill="#ffffff" stroke="#ffffff"/>
<polygon points="395.6,376.5 397.3,376.8 398.6,376.4 396.8,376.0" fill="#ffffff" stroke="#ffffff"/>
<polygon points="391.4,377.5 393.1,377.5 394.4,377.0 392.6,376.9" fill="#ffffff" stroke="#ffffff"/>
<polygon points="394.4,377.0 396.1,377.2 397.3,376.8 395.6,376.5" fill="#ffffff" stroke="#ffffff"/>
<polygon points="397.3,376.8 399.1,377.1 400.3,376.8 398.6,376.4" fill="#ffffff" stroke="#ffffff"/>
<polygon points="396.1,377.2 397.9,377.4 399.1,377.1 397.3,376.8" fill="#fef5f5" stroke="#fef5f5"/>
<polygon points="393.1,377.5 394.9,377.6 396.1,377.2 394.4,377.0" fill="#fef5f5" stroke="#fef5f5"/>
<polygon points="394.9,377.6 396.6,377.7 397.9,377.4 396.1,377.2" fill="#fcebec" stroke="#fcebec"/>
</g>
<polyline points="389.7,377.4 391.4,377.5 393.1,377.5 394.9,377.6 396.6,377.7 397.9,377.4 399.1,377.1 400.3,376.8 401.5,376.5 399.8,376.0 398.0,375.5 396.3,375.0 394.6,374.5 393.3,375.2 392.1,376.0 390.9,376.7 389.7,377.4" fill="none" stroke="#8a8083" stroke-width="0.5" stroke-linejoin="round"/>
<polygon points="372.8,381.2 379.8,383.1 384.7,380.2 377.7,378.3" fill="#ffffff" />
<polyline points="372.8,381.2 374.5,381.7 376.3,382.2 378.1,382.6 379.8,383.1 381.1,382.4 382.3,381.7 383.5,381.0 384.7,380.2 383.0,379.8 381.2,379.3 379.5,378.8 377.7,378.3 376.5,379.1 375.2,379.8 374.0,380.5 372.8,381.2" fill="none" stroke="#8a8083" stroke-width="0.5" stroke-linejoin="round"/>
<g stroke-width="0.35">
<polygon points="388.4,378.1 390.2,378.1 391.4,377.5 389.7,377.4" fill="#ffffff" stroke="#ffffff"/>
<polygon points="387.2,378.8 389.0,378.7 390.2,378.1 388.4,378.1" fill="#ffffff" stroke="#ffffff"/>
<polygon points="390.2,378.1 391.9,378.1 393.1,377.5 391.4,377.5" fill="#fffefe" stroke="#fffefe"/>
<polygon points="389.0,378.7 390.7,378.6 391.9,378.1 390.2,378.1" fill="#fef8f8" stroke="#fef8f8"/>
<polygon points="386.0,379.5 387.7,379.3 389.0,378.7 387.2,378.8" fill="#ffffff" stroke="#ffffff"/>
<polygon points="391.9,378.1 393.7,378.0 394.9,377.6 393.1,377.5" fill="#fdeeef" stroke="#fdeeef"/>
<polygon points="384.7,380.2 386.5,379.9 387.7,379.3 386.0,379.5" fill="#ffffff" stroke="#ffffff"/>
<polygon points="387.7,379.3 389.5,379.1 390.7,378.6 389.0,378.7" fill="#fef4f4" stroke="#fef4f4"/>
<polygon points="390.7,378.6 392.5,378.5 393.7,378.0 391.9,378.1" fill="#fce9ea" stroke="#fce9ea"/>
<polygon points="393.7,378.0 395.4,378.0 396.6,377.7 394.9,377.6" fill="#fbe3e4" stroke="#fbe3e4"/>
<polygon points="386.5,379.9 388.3,379.6 389.5,379.1 387.7,379.3" fill="#fdf0f1" stroke="#fdf0f1"/>
<polygon points="392.5,378.5 394.2,378.3 395.4,378.0 393.7,378.0" fill="#fbddde" stroke="#fbddde"/>
<polygon points="389.5,379.1 391.2,378.9 392.5,378.5 390.7,378.6" fill="#fce4e5" stroke="#fce4e5"/>
<polygon points="388.3,379.6 390.0,379.3 391.2,378.9 389.5,379.1" fill="#fbdfe0" stroke="#fbdfe0"/>
<polygon points="391.2,378.9 393.0,378.6 394.2,378.3 392.5,378.5" fill="#fad7d8" stroke="#fad7d8"/>
<polygon points="390.0,379.3 391.8,379.0 393.0,378.6 391.2,378.9" fill="#f9d1d2" stroke="#f9d1d2"/>
</g>
<polyline points="384.7,380.2 386.5,379.9 388.3,379.6 390.0,379.3 391.8,379.0 393.0,378.6 394.2,378.3 395.4,378.0 396.6,377.7 394.9,377.6 393.1,377.5 391.4,377.5 389.7,377.4 388.4,378.1 387.2,378.8 386.0,379.5 384.7,380.2" fill="none" stroke="#8a8083" stroke-width="0.5" stroke-linejoin="round"/>
<g stroke-width="0.35">
<polygon points="400.3,376.8 402.0,376.3 403.3,376.2 401.5,376.5" fill="#ffffff" stroke="#ffffff"/>
<polygon points="402.0,376.3 403.8,375.7 405.0,375.9 403.3,376.2" fill="#fbe3e4" stroke="#fbe3e4"/>
<polygon points="399.1,377.1 400.8,376.3 402.0,376.3 400.3,376.8" fill="#fdeded" stroke="#fdeded"/>
<polygon points="397.9,377.4 399.6,376.4 400.8,376.3 399.1,377.1" fill="#fbe0e2" stroke="#fbe0e2"/>
<polygon points="403.8,375.7 405.5,375.2 406.7,375.6 405.0,375.9" fill="#f9d0d2" stroke="#f9d0d2"/>
<polygon points="400.8,376.3 402.6,375.5 403.8,375.7 402.0,376.3" fill="#f9d4d5" stroke="#f9d4d5"/>
<polygon points="399.6,376.4 401.4,375.3 402.6,375.5 400.8,376.3" fill="#f8c6c8" stroke="#f8c6c8"/>
<polygon points="405.5,375.2 407.3,374.6 408.5,375.2 406.7,375.6" fill="#f7c0c2" stroke="#f7c0c2"/>
<polygon points="396.6,377.7 398.4,376.4 399.6,376.4 397.9,377.4" fill="#fad6d7" stroke="#fad6d7"/>
<polygon points="402.6,375.5 404.3,374.7 405.5,375.2 403.8,375.7" fill="#f7bfc1" stroke="#f7bfc1"/>
<polygon points="401.4,375.3 403.1,374.3 404.3,374.7 402.6,375.5" fill="#f5afb2" stroke="#f5afb2"/>
<polygon points="398.4,376.4 400.1,375.1 401.4,375.3 399.6,376.4" fill="#f6b9bb" stroke="#f6b9bb"/>
<polygon points="404.3,374.7 406.1,373.9 407.3,374.6 405.5,375.2" fill="#f4acaf" stroke="#f4acaf"/>
<polygon points="403.1,374.3 404.8,373.2 406.1,373.9 404.3,374.7" fill="#f29a9e" stroke="#f29a9e"/>
<polygon points="400.1,375.1 401.9,373.8 403.1,374.3 401.4,375.3" fill="#f3a0a3" stroke="#f3a0a3"/>
<polygon points="401.9,373.8 403.6,372.4 404.8,373.2 403.1,374.3" fill="#f0898d" stroke="#f0898d"/>
</g>
<polyline points="396.6,377.7 398.4,376.4 400.1,375.1 401.9,373.8 403.6,372.4 404.8,373.2 406.1,373.9 407.3,374.6 408.5,375.2 406.7,375.6 405.0,375.9 403.3,376.2 401.5,376.5 400.3,376.8 399.1,377.1 397.9,377.4 396.6,377.7" fill="none" stroke="#8a8083" stroke-width="0.5" stroke-linejoin="round"/>
<polygon points="367.8,384.1 374.9,386.0 379.8,383.1 372.8,381.2" fill="#ffffff" />
<polyline points="367.8,384.1 369.6,384.5 371.4,385.0 373.2,385.5 374.9,386.0 376.2,385.2 377.4,384.5 378.6,383.8 379.8,383.1 378.1,382.6 376.3,382.2 374.5,381.7 372.8,381.2 371.5,381.9 370.3,382.6 369.1,383.4 367.8,384.1" fill="none" stroke="#8a8083" stroke-width="0.5" stroke-linejoin="round"/>
<g stroke-width="0.35">
<polygon points="383.5,381.0 385.3,380.7 386.5,379.9 384.7,380.2" fill="#ffffff" stroke="#ffffff"/>
<polygon points="382.3,381.7 384.1,381.5 385.3,380.7 383.5,381.0" fill="#ffffff" stroke="#ffffff"/>
<polygon points="385.3,380.7 387.0,380.5 388.3,379.6 386.5,379.9" fill="#fdf0f1" stroke="#fdf0f1"/>
<polygon points="384.1,381.5 385.8,381.4 387.0,380.5 385.3,380.7" fill="#fef4f4" stroke="#fef4f4"/>
<polygon points="381.1,382.4 382.8,382.3 384.1,381.5 382.3,381.7" fill="#ffffff" stroke="#ffffff"/>
<polygon points="387.0,380.5 388.8,380.3 390.0,379.3 388.3,379.6" fill="#fbdfe0" stroke="#fbdfe0"/>
<polygon points="385.8,381.4 387.6,381.2 388.8,380.3 387.0,380.5" fill="#fce4e5" stroke="#fce4e5"/>
<polygon points="382.8,382.3 384.6,382.3 385.8,381.4 384.1,381.5" fill="#fef8f8" stroke="#fef8f8"/>
<polygon points="388.8,380.3 390.6,380.0 391.8,379.0 390.0,379.3" fill="#f9d1d2" stroke="#f9d1d2"/>
<polygon points="379.8,383.1 381.6,383.1 382.8,382.3 381.1,382.4" fill="#ffffff" stroke="#ffffff"/>
<polygon points="387.6,381.2 389.3,381.0 390.6,380.0 388.8,380.3" fill="#fad6d8" stroke="#fad6d8"/>
<polygon points="384.6,382.3 386.4,382.2 387.6,381.2 385.8,381.4" fill="#fce9e9" stroke="#fce9e9"/>
<polygon points="381.6,383.1 383.4,383.1 384.6,382.3 382.8,382.3" fill="#fffdfe" stroke="#fffdfe"/>
<polygon points="386.4,382.2 388.1,382.1 389.3,381.0 387.6,381.2" fill="#fbddde" stroke="#fbddde"/>
<polygon points="383.4,383.1 385.1,383.2 386.4,382.2 384.6,382.3" fill="#fdeeef" stroke="#fdeeef"/>
<polygon points="385.1,383.2 386.9,383.2 388.1,382.1 386.4,382.2" fill="#fbe3e4" stroke="#fbe3e4"/>
</g>
<polyline points="379.8,383.1 381.6,383.1 383.4,383.1 385.1,383.2 386.9,383.2 388.1,382.1 389.3,381.0 390.6,380.0 391.8,379.0 390.0,379.3 388.3,379.6 386.5,379.9 384.7,380.2 383.5,381.0 382.3,381.7 381.1,382.4 379.8,383.1" fill="none" stroke="#8a8083" stroke-width="0.5" stroke-linejoin="round"/>
<g stroke-width="0.35">
<polygon points="407.3,374.6 409.0,374.4 410.2,375.1 408.5,375.2" fill="#f5b3b6" stroke="#f5b3b6"/>
<polygon points="406.1,373.9 407.8,373.6 409.0,374.4 407.3,374.6" fill="#f39ea2" stroke="#f39ea2"/>
<polygon points="409.0,374.4 410.7,374.2 412.0,375.1 410.2,375.1" fill="#f4aaad" stroke="#f4aaad"/>
<polygon points="404.8,373.2 406.6,372.7 407.8,373.6 406.1,373.9" fill="#f08b8f" stroke="#f08b8f"/>
<polygon points="410.7,374.2 412.5,374.0 413.7,375.0 412.0,375.1" fill="#f3a1a4" stroke="#f3a1a4"/>
<polygon points="407.8,373.6 409.5,373.2 410.7,374.2 409.0,374.4" fill="#f19498" stroke="#f19498"/>
<polygon points="406.6,372.7 408.3,372.3 409.5,373.2 407.8,373.6" fill="#ef8084" stroke="#ef8084"/>
<polygon points="403.6,372.4 405.4,371.8 406.6,372.7 404.8,373.2" fill="#ee787d" stroke="#ee787d"/>
<polygon points="409.5,373.2 411.3,372.9 412.5,374.0 410.7,374.2" fill="#f08b8f" stroke="#f08b8f"/>
<polygon points="412.5,374.0 414.2,373.7 415.4,374.8 413.7,375.0" fill="#f2989c" stroke="#f2989c"/>
<polygon points="408.3,372.3 410.1,371.8 411.3,372.9 409.5,373.2" fill="#ed767a" stroke="#ed767a"/>
<polygon points="405.4,371.8 407.1,371.3 408.3,372.3 406.6,372.7" fill="#ec6d72" stroke="#ec6d72"/>
<polygon points="411.3,372.9 413.0,372.5 414.2,373.7 412.5,374.0" fill="#ef8186" stroke="#ef8186"/>
<polygon points="407.1,371.3 408.9,370.7 410.1,371.8 408.3,372.3" fill="#eb6267" stroke="#eb6267"/>
<polygon points="410.1,371.8 411.8,371.3 413.0,372.5 411.3,372.9" fill="#ec6b71" stroke="#ec6b71"/>
<polygon points="408.9,370.7 410.6,370.0 411.8,371.3 410.1,371.8" fill="#ea575c" stroke="#ea575c"/>
</g>
<polyline points="403.6,372.4 405.4,371.8 407.1,371.3 408.9,370.7 410.6,370.0 411.8,371.3 413.0,372.5 414.2,373.7 415.4,374.8 413.7,375.0 412.0,375.1 410.2,375.1 408.5,375.2 407.3,374.6 406.1,373.9 404.8,373.2 403.6,372.4" fill="none" stroke="#8a8083" stroke-width="0.5" stroke-linejoin="round"/>
<g stroke-width="0.35">
<polygon points="395.4,378.0 397.2,376.6 398.4,376.4 396.6,377.7" fill="#f9cdcf" stroke="#f9cdcf"/>
<polygon points="394.2,378.3 396.0,376.9 397.2,376.6 395.4,378.0" fill="#f8c6c8" stroke="#f8c6c8"/>
<polygon points="397.2,376.6 398.9,375.2 400.1,375.1 398.4,376.4" fill="#f5afb2" stroke="#f5afb2"/>
<polygon points="396.0,376.9 397.7,375.4 398.9,375.2 397.2,376.6" fill="#f4a8ab" stroke="#f4a8ab"/>
<polygon points="393.0,378.6 394.7,377.1 396.0,376.9 394.2,378.3" fill="#f7c0c2" stroke="#f7c0c2"/>
<polygon points="398.9,375.2 400.7,373.8 401.9,373.8 400.1,375.1" fill="#f19599" stroke="#f19599"/>
<polygon points="391.8,379.0 393.5,377.3 394.7,377.1 393.0,378.6" fill="#f6b9bc" stroke="#f6b9bc"/>
<polygon points="397.7,375.4 399.5,373.8 400.7,373.8 398.9,375.2" fill="#f18e91" stroke="#f18e91"/>
<polygon points="394.7,377.1 396.5,375.5 397.7,375.4 396.0,376.9" fill="#f3a1a5" stroke="#f3a1a5"/>
<polygon points="400.7,373.8 402.4,372.3 403.6,372.4 401.9,373.8" fill="#ee7d81" stroke="#ee7d81"/>
<polygon points="393.5,377.3 395.3,375.6 396.5,375.5 394.7,377.1" fill="#f29b9e" stroke="#f29b9e"/>
<polygon points="399.5,373.8 401.2,372.2 402.4,372.3 400.7,373.8" fill="#ed757a" stroke="#ed757a"/>
<polygon points="396.5,375.5 398.3,373.8 399.5,373.8 397.7,375.4" fill="#f0868a" stroke="#f0868a"/>
<polygon points="395.3,375.6 397.0,373.8 398.3,373.8 396.5,375.5" fill="#ef7f84" stroke="#ef7f84"/>
<polygon points="398.3,373.8 400.0,372.1 401.2,372.2 399.5,373.8" fill="#ec6d72" stroke="#ec6d72"/>
<polygon points="397.0,373.8 398.8,372.0 400.0,372.1 398.3,373.8" fill="#eb666b" stroke="#eb666b"/>
</g>
<polyline points="391.8,379.0 393.5,377.3 395.3,375.6 397.0,373.8 398.8,372.0 400.0,372.1 401.2,372.2 402.4,372.3 403.6,372.4 401.9,373.8 400.1,375.1 398.4,376.4 396.6,377.7 395.4,378.0 394.2,378.3 393.0,378.6 391.8,379.0" fill="none" stroke="#8a8083" stroke-width="0.5" stroke-linejoin="round"/>
<g stroke-width="0.35">
<polygon points="390.6,380.0 392.3,378.4 393.5,377.3 391.8,379.0" fill="#f6b9bb" stroke="#f6b9bb"/>
<polygon points="389.3,381.0 391.1,379.5 392.3,378.4 390.6,380.0" fill="#f7bfc2" stroke="#f7bfc2"/>
<polygon points="392.3,378.4 394.1,376.7 395.3,375.6 393.5,377.3" fill="#f29b9e" stroke="#f29b9e"/>
<polygon points="391.1,379.5 392.9,377.8 394.1,376.7 392.3,378.4" fill="#f3a1a5" stroke="#f3a1a5"/>
<polygon points="388.1,382.1 389.9,380.6 391.1,379.5 389.3,381.0" fill="#f8c6c8" stroke="#f8c6c8"/>
<polygon points="394.1,376.7 395.8,375.0 397.0,373.8 395.3,375.6" fill="#ef7f84" stroke="#ef7f84"/>
<polygon points="392.9,377.8 394.6,376.2 395.8,375.0 394.1,376.7" fill="#f0868a" stroke="#f0868a"/>
<polygon points="389.9,380.6 391.7,379.0 392.9,377.8 391.1,379.5" fill="#f4a8ab" stroke="#f4a8ab"/>
<polygon points="395.8,375.0 397.6,373.2 398.8,372.0 397.0,373.8" fill="#eb666b" stroke="#eb666b"/>
<polygon points="386.9,383.2 388.7,381.7 389.9,380.6 388.1,382.1" fill="#f9cdcf" stroke="#f9cdcf"/>
<polygon points="394.6,376.2 396.4,374.5 397.6,373.2 395.8,375.0" fill="#ec6d72" stroke="#ec6d72"/>
<polygon points="391.7,379.0 393.4,377.4 394.6,376.2 392.9,377.8" fill="#f18d91" stroke="#f18d91"/>
<polygon points="388.7,381.7 390.4,380.2 391.7,379.0 389.9,380.6" fill="#f5afb2" stroke="#f5afb2"/>
<polygon points="393.4,377.4 395.2,375.8 396.4,374.5 394.6,376.2" fill="#ed7579" stroke="#ed7579"/>
<polygon points="390.4,380.2 392.2,378.6 393.4,377.4 391.7,379.0" fill="#f19598" stroke="#f19598"/>
<polygon points="392.2,378.6 394.0,377.1 395.2,375.8 393.4,377.4" fill="#ee7d81" stroke="#ee7d81"/>
</g>
<polyline points="386.9,383.2 388.7,381.7 390.4,380.2 392.2,378.6 394.0,377.1 395.2,375.8 396.4,374.5 397.6,373.2 398.8,372.0 397.0,373.8 395.3,375.6 393.5,377.3 391.8,379.0 390.6,380.0 389.3,381.0 388.1,382.1 386.9,383.2" fill="none" stroke="#8a8083" stroke-width="0.5" stroke-linejoin="round"/>
<polygon points="362.9,387.0 370.0,388.8 374.9,386.0 367.8,384.1" fill="#ffffff" />
<polyline points="362.9,387.0 364.7,387.4 366.5,387.9 368.2,388.4 370.0,388.8 371.3,388.1 372.5,387.4 373.7,386.7 374.9,386.0 373.2,385.5 371.4,385.0 369.6,384.5 367.8,384.1 366.6,384.8 365.4,385.5 364.1,386.2 362.9,387.0" fill="none" stroke="#8a8083" stroke-width="0.5" stroke-linejoin="round"/>
<g stroke-width="0.35">
<polygon points="378.6,383.8 380.4,384.0 381.6,383.1 379.8,383.1" fill="#ffffff" stroke="#ffffff"/>
<polygon points="380.4,384.0 382.2,384.1 383.4,383.1 381.6,383.1" fill="#ffffff" stroke="#ffffff"/>
<polygon points="377.4,384.5 379.2,384.8 380.4,384.0 378.6,383.8" fill="#ffffff" stroke="#ffffff"/>
<polygon points="376.2,385.2 377.9,385.6 379.2,384.8 377.4,384.5" fill="#ffffff" stroke="#ffffff"/>
<polygon points="382.2,384.1 383.9,384.2 385.1,383.2 383.4,383.1" fill="#fef5f5" stroke="#fef5f5"/>
<polygon points="379.2,384.8 380.9,385.0 382.2,384.1 380.4,384.0" fill="#ffffff" stroke="#ffffff"/>
<polygon points="383.9,384.2 385.7,384.3 386.9,383.2 385.1,383.2" fill="#fcebec" stroke="#fcebec"/>
<polygon points="374.9,386.0 376.7,386.4 377.9,385.6 376.2,385.2" fill="#ffffff" stroke="#ffffff"/>
<polygon points="377.9,385.6 379.7,386.0 380.9,385.0 379.2,384.8" fill="#ffffff" stroke="#ffffff"/>
<polygon points="380.9,385.0 382.7,385.2 383.9,384.2 382.2,384.1" fill="#ffffff" stroke="#ffffff"/>
<polygon points="379.7,386.0 381.5,386.3 382.7,385.2 380.9,385.0" fill="#ffffff" stroke="#ffffff"/>
<polygon points="376.7,386.4 378.5,386.9 379.7,386.0 377.9,385.6" fill="#ffffff" stroke="#ffffff"/>
<polygon points="382.7,385.2 384.5,385.5 385.7,384.3 383.9,384.2" fill="#fef5f5" stroke="#fef5f5"/>
<polygon points="381.5,386.3 383.3,386.7 384.5,385.5 382.7,385.2" fill="#ffffff" stroke="#ffffff"/>
<polygon points="378.5,386.9 380.3,387.4 381.5,386.3 379.7,386.0" fill="#ffffff" stroke="#ffffff"/>
<polygon points="380.3,387.4 382.0,387.8 383.3,386.7 381.5,386.3" fill="#ffffff" stroke="#ffffff"/>
</g>
<polyline points="374.9,386.0 376.7,386.4 378.5,386.9 380.3,387.4 382.0,387.8 383.3,386.7 384.5,385.5 385.7,384.3 386.9,383.2 385.1,383.2 383.4,383.1 381.6,383.1 379.8,383.1 378.6,383.8 377.4,384.5 376.2,385.2 374.9,386.0" fill="none" stroke="#8a8083" stroke-width="0.5" stroke-linejoin="round"/>
<g stroke-width="0.35">
<polygon points="402.4,372.3 404.2,371.5 405.4,371.8 403.6,372.4" fill="#ec6a6f" stroke="#ec6a6f"/>
<polygon points="401.2,372.2 403.0,371.1 404.2,371.5 402.4,372.3" fill="#eb6166" stroke="#eb6166"/>
<polygon points="404.2,371.5 405.9,370.6 407.1,371.3 405.4,371.8" fill="#ea5d63" stroke="#ea5d63"/>
<polygon points="403.0,371.1 404.7,369.8 405.9,370.6 404.2,371.5" fill="#e95056" stroke="#e95056"/>
<polygon points="400.0,372.1 401.8,370.6 403.0,371.1 401.2,372.2" fill="#ea575d" stroke="#ea575d"/>
<polygon points="405.9,370.6 407.7,369.7 408.9,370.7 407.1,371.3" fill="#e95056" stroke="#e95056"/>
<polygon points="398.8,372.0 400.6,370.2 401.8,370.6 400.0,372.1" fill="#e84e54" stroke="#e84e54"/>
<polygon points="404.7,369.8 406.5,368.6 407.7,369.7 405.9,370.6" fill="#e74047" stroke="#e74047"/>
<polygon points="401.8,370.6 403.5,369.1 404.7,369.8 403.0,371.1" fill="#e7444a" stroke="#e7444a"/>
<polygon points="407.7,369.7 409.4,368.7 410.6,370.0 408.9,370.7" fill="#e7434a" stroke="#e7434a"/>
<polygon points="400.6,370.2 402.3,368.3 403.5,369.1 401.8,370.6" fill="#e6383f" stroke="#e6383f"/>
<polygon points="403.5,369.1 405.3,367.5 406.5,368.6 404.7,369.8" fill="#e53138" stroke="#e53138"/>
<polygon points="406.5,368.6 408.2,367.3 409.4,368.7 407.7,369.7" fill="#e53138" stroke="#e53138"/>
<polygon points="402.3,368.3 404.1,366.4 405.3,367.5 403.5,369.1" fill="#e3232a" stroke="#e3232a"/>
<polygon points="405.3,367.5 407.0,365.9 408.2,367.3 406.5,368.6" fill="#e21f27" stroke="#e21f27"/>
<polygon points="404.1,366.4 405.8,364.4 407.0,365.9 405.3,367.5" fill="#e1141c" stroke="#e1141c"/>
</g>
<polyline points="398.8,372.0 400.6,370.2 402.3,368.3 404.1,366.4 405.8,364.4 407.0,365.9 408.2,367.3 409.4,368.7 410.6,370.0 408.9,370.7 407.1,371.3 405.4,371.8 403.6,372.4 402.4,372.3 401.2,372.2 400.0,372.1 398.8,372.0" fill="none" stroke="#8a8083" stroke-width="0.5" stroke-linejoin="round"/>
<g stroke-width="0.35">
<polygon points="414.2,373.7 416.0,374.8 417.2,375.8 415.4,374.8" fill="#f2989c" stroke="#f2989c"/>
<polygon points="413.0,372.5 414.8,373.7 416.0,374.8 414.2,373.7" fill="#ef8186" stroke="#ef8186"/>
<polygon points="416.0,374.8 417.7,375.9 418.9,376.8 417.2,375.8" fill="#f3a1a4" stroke="#f3a1a4"/>
<polygon points="411.8,371.3 413.6,372.6 414.8,373.7 413.0,372.5" fill="#ec6b71" stroke="#ec6b71"/>
<polygon points="414.8,373.7 416.5,374.9 417.7,375.9 416.0,374.8" fill="#f08b8f" stroke="#f08b8f"/>
<polygon points="417.7,375.9 419.5,377.0 420.6,377.8 418.9,376.8" fill="#f4aaad" stroke="#f4aaad"/>
<polygon points="410.6,370.0 412.4,371.4 413.6,372.6 411.8,371.3" fill="#ea575c" stroke="#ea575c"/>
<polygon points="413.6,372.6 415.3,373.9 416.5,374.9 414.8,373.7" fill="#ed767a" stroke="#ed767a"/>
<polygon points="419.5,377.0 421.2,378.1 422.4,378.9 420.6,377.8" fill="#f5b3b6" stroke="#f5b3b6"/>
<polygon points="416.5,374.9 418.3,376.1 419.5,377.0 417.7,375.9" fill="#f19498" stroke="#f19498"/>
<polygon points="412.4,371.4 414.1,372.8 415.3,373.9 413.6,372.6" fill="#eb6267" stroke="#eb6267"/>
<polygon points="415.3,373.9 417.1,375.2 418.3,376.1 416.5,374.9" fill="#ef8084" stroke="#ef8084"/>
<polygon points="418.3,376.1 420.0,377.3 421.2,378.1 419.5,377.0" fill="#f39ea2" stroke="#f39ea2"/>
<polygon points="417.1,375.2 418.8,376.5 420.0,377.3 418.3,376.1" fill="#f08b8f" stroke="#f08b8f"/>
<polygon points="414.1,372.8 415.9,374.2 417.1,375.2 415.3,373.9" fill="#ec6d72" stroke="#ec6d72"/>
<polygon points="415.9,374.2 417.6,375.6 418.8,376.5 417.1,375.2" fill="#ee787d" stroke="#ee787d"/>
</g>
<polyline points="410.6,370.0 412.4,371.4 414.1,372.8 415.9,374.2 417.6,375.6 418.8,376.5 420.0,377.3 421.2,378.1 422.4,378.9 420.6,377.8 418.9,376.8 417.2,375.8 415.4,374.8 414.2,373.7 413.0,372.5 411.8,371.3 410.6,370.0" fill="none" stroke="#8a8083" stroke-width="0.5" stroke-linejoin="round"/>
<g stroke-width="0.35">
<polygon points="397.6,373.2 399.4,371.7 400.6,370.2 398.8,372.0" fill="#e84e54" stroke="#e84e54"/>
<polygon points="396.4,374.5 398.2,373.2 399.4,371.7 397.6,373.2" fill="#ea575d" stroke="#ea575d"/>
<polygon points="399.4,371.7 401.1,370.1 402.3,368.3 400.6,370.2" fill="#e6383f" stroke="#e6383f"/>
<polygon points="398.2,373.2 399.9,371.9 401.1,370.1 399.4,371.7" fill="#e7444a" stroke="#e7444a"/>
<polygon points="395.2,375.8 396.9,374.8 398.2,373.2 396.4,374.5" fill="#eb6166" stroke="#eb6166"/>
<polygon points="401.1,370.1 402.9,368.4 404.1,366.4 402.3,368.3" fill="#e3232a" stroke="#e3232a"/>
<polygon points="399.9,371.9 401.7,370.5 402.9,368.4 401.1,370.1" fill="#e53138" stroke="#e53138"/>
<polygon points="396.9,374.8 398.7,373.7 399.9,371.9 398.2,373.2" fill="#e95056" stroke="#e95056"/>
<polygon points="394.0,377.1 395.7,376.4 396.9,374.8 395.2,375.8" fill="#ec6a6f" stroke="#ec6a6f"/>
<polygon points="402.9,368.4 404.6,366.8 405.8,364.4 404.1,366.4" fill="#e1141c" stroke="#e1141c"/>
<polygon points="398.7,373.7 400.5,372.7 401.7,370.5 399.9,371.9" fill="#e74047" stroke="#e74047"/>
<polygon points="401.7,370.5 403.4,369.2 404.6,366.8 402.9,368.4" fill="#e21f27" stroke="#e21f27"/>
<polygon points="395.7,376.4 397.5,375.6 398.7,373.7 396.9,374.8" fill="#ea5d62" stroke="#ea5d62"/>
<polygon points="397.5,375.6 399.3,374.9 400.5,372.7 398.7,373.7" fill="#e95056" stroke="#e95056"/>
<polygon points="400.5,372.7 402.2,371.6 403.4,369.2 401.7,370.5" fill="#e53138" stroke="#e53138"/>
<polygon points="399.3,374.9 401.0,374.1 402.2,371.6 400.5,372.7" fill="#e74349" stroke="#e74349"/>
</g>
<polyline points="394.0,377.1 395.7,376.4 397.5,375.6 399.3,374.9 401.0,374.1 402.2,371.6 403.4,369.2 404.6,366.8 405.8,364.4 404.1,366.4 402.3,368.3 400.6,370.2 398.8,372.0 397.6,373.2 396.4,374.5 395.2,375.8 394.0,377.1" fill="none" stroke="#8a8083" stroke-width="0.5" stroke-linejoin="round"/>
<g stroke-width="0.35">
<polygon points="421.2,378.1 422.9,379.7 424.1,380.2 422.4,378.9" fill="#f7c0c2" stroke="#f7c0c2"/>
<polygon points="422.9,379.7 424.7,381.2 425.9,381.5 424.1,380.2" fill="#f9d0d2" stroke="#f9d0d2"/>
<polygon points="420.0,377.3 421.8,379.1 422.9,379.7 421.2,378.1" fill="#f4acaf" stroke="#f4acaf"/>
<polygon points="418.8,376.5 420.6,378.5 421.8,379.1 420.0,377.3" fill="#f29a9e" stroke="#f29a9e"/>
<polygon points="421.8,379.1 423.5,381.0 424.7,381.2 422.9,379.7" fill="#f7bfc1" stroke="#f7bfc1"/>
<polygon points="424.7,381.2 426.4,382.8 427.6,382.8 425.9,381.5" fill="#fbe3e4" stroke="#fbe3e4"/>
<polygon points="420.6,378.5 422.3,380.6 423.5,381.0 421.8,379.1" fill="#f5afb2" stroke="#f5afb2"/>
<polygon points="426.4,382.8 428.2,384.4 429.3,384.2 427.6,382.8" fill="#ffffff" stroke="#ffffff"/>
<polygon points="417.6,375.6 419.4,377.9 420.6,378.5 418.8,376.5" fill="#f0898d" stroke="#f0898d"/>
<polygon points="423.5,381.0 425.2,382.8 426.4,382.8 424.7,381.2" fill="#f9d4d5" stroke="#f9d4d5"/>
<polygon points="419.4,377.9 421.1,380.3 422.3,380.6 420.6,378.5" fill="#f3a0a3" stroke="#f3a0a3"/>
<polygon points="422.3,380.6 424.1,382.7 425.2,382.8 423.5,381.0" fill="#f8c6c8" stroke="#f8c6c8"/>
<polygon points="425.2,382.8 427.0,384.7 428.2,384.4 426.4,382.8" fill="#fdeded" stroke="#fdeded"/>
<polygon points="424.1,382.7 425.8,384.9 427.0,384.7 425.2,382.8" fill="#fbe1e2" stroke="#fbe1e2"/>
<polygon points="421.1,380.3 422.9,382.7 424.1,382.7 422.3,380.6" fill="#f6b9bb" stroke="#f6b9bb"/>
<polygon points="422.9,382.7 424.6,385.1 425.8,384.9 424.1,382.7" fill="#fad6d7" stroke="#fad6d7"/>
</g>
<polyline points="417.6,375.6 419.4,377.9 421.1,380.3 422.9,382.7 424.6,385.1 425.8,384.9 427.0,384.7 428.2,384.4 429.3,384.2 427.6,382.8 425.9,381.5 424.1,380.2 422.4,378.9 421.2,378.1 420.0,377.3 418.8,376.5 417.6,375.6" fill="none" stroke="#8a8083" stroke-width="0.5" stroke-linejoin="round"/>
<polygon points="370.0,388.8 377.2,390.7 382.0,387.8 374.9,386.0" fill="#ffffff" />
<polyline points="370.0,388.8 371.8,389.3 373.6,389.8 375.4,390.2 377.2,390.7 378.4,390.0 379.6,389.3 380.8,388.6 382.0,387.8 380.3,387.4 378.5,386.9 376.7,386.4 374.9,386.0 373.7,386.7 372.5,387.4 371.3,388.1 370.0,388.8" fill="none" stroke="#8a8083" stroke-width="0.5" stroke-linejoin="round"/>
<polygon points="357.9,389.8 365.1,391.7 370.0,388.8 362.9,387.0" fill="#ffffff" />
<polyline points="357.9,389.8 359.7,390.3 361.5,390.8 363.3,391.2 365.1,391.7 366.3,391.0 367.6,390.3 368.8,389.5 370.0,388.8 368.2,388.4 366.5,387.9 364.7,387.4 362.9,387.0 361.6,387.7 360.4,388.4 359.2,389.1 357.9,389.8" fill="none" stroke="#8a8083" stroke-width="0.5" stroke-linejoin="round"/>
<g stroke-width="0.35">
<polygon points="385.7,384.3 387.5,383.1 388.7,381.7 386.9,383.2" fill="#fad5d7" stroke="#fad5d7"/>
<polygon points="387.5,383.1 389.2,381.8 390.4,380.2 388.7,381.7" fill="#f6b9bb" stroke="#f6b9bb"/>
<polygon points="384.5,385.5 386.2,384.5 387.5,383.1 385.7,384.3" fill="#fbe0e1" stroke="#fbe0e1"/>
<polygon points="389.2,381.8 391.0,380.5 392.2,378.6 390.4,380.2" fill="#f3a0a3" stroke="#f3a0a3"/>
<polygon points="383.3,386.7 385.0,385.9 386.2,384.5 384.5,385.5" fill="#fdeded" stroke="#fdeded"/>
<polygon points="386.2,384.5 388.0,383.5 389.2,381.8 387.5,383.1" fill="#f8c6c8" stroke="#f8c6c8"/>
<polygon points="391.0,380.5 392.8,379.2 394.0,377.1 392.2,378.6" fill="#f0898d" stroke="#f0898d"/>
<polygon points="385.0,385.9 386.8,385.1 388.0,383.5 386.2,384.5" fill="#f9d4d5" stroke="#f9d4d5"/>
<polygon points="382.0,387.8 383.8,387.4 385.0,385.9 383.3,386.7" fill="#fffefe" stroke="#fffefe"/>
<polygon points="388.0,383.5 389.8,382.4 391.0,380.5 389.2,381.8" fill="#f5afb1" stroke="#f5afb1"/>
<polygon points="386.8,385.1 388.6,384.3 389.8,382.4 388.0,383.5" fill="#f7bfc1" stroke="#f7bfc1"/>
<polygon points="383.8,387.4 385.6,386.8 386.8,385.1 385.0,385.9" fill="#fbe3e4" stroke="#fbe3e4"/>
<polygon points="389.8,382.4 391.6,381.3 392.8,379.2 391.0,380.5" fill="#f29a9d" stroke="#f29a9d"/>
<polygon points="388.6,384.3 390.3,383.5 391.6,381.3 389.8,382.4" fill="#f4acaf" stroke="#f4acaf"/>
<polygon points="385.6,386.8 387.4,386.3 388.6,384.3 386.8,385.1" fill="#f9d0d2" stroke="#f9d0d2"/>
<polygon points="387.4,386.3 389.1,385.8 390.3,383.5 388.6,384.3" fill="#f7c0c2" stroke="#f7c0c2"/>
</g>
<polyline points="382.0,387.8 383.8,387.4 385.6,386.8 387.4,386.3 389.1,385.8 390.3,383.5 391.6,381.3 392.8,379.2 394.0,377.1 392.2,378.6 390.4,380.2 388.7,381.7 386.9,383.2 385.7,384.3 384.5,385.5 383.3,386.7 382.0,387.8" fill="none" stroke="#8a8083" stroke-width="0.5" stroke-linejoin="round"/>
<g stroke-width="0.35">
<polygon points="409.4,368.7 411.2,370.4 412.4,371.4 410.6,370.0" fill="#e7434a" stroke="#e7434a"/>
<polygon points="408.2,367.3 410.0,369.3 411.2,370.4 409.4,368.7" fill="#e53138" stroke="#e53138"/>
<polygon points="411.2,370.4 412.9,372.0 414.1,372.8 412.4,371.4" fill="#e95056" stroke="#e95056"/>
<polygon points="407.0,365.9 408.8,368.1 410.0,369.3 408.2,367.3" fill="#e21f27" stroke="#e21f27"/>
<polygon points="410.0,369.3 411.7,371.2 412.9,372.0 411.2,370.4" fill="#e74147" stroke="#e74147"/>
<polygon points="412.9,372.0 414.7,373.7 415.9,374.2 414.1,372.8" fill="#ea5d63" stroke="#ea5d63"/>
<polygon points="405.8,364.4 407.6,367.0 408.8,368.1 407.0,365.9" fill="#e1141c" stroke="#e1141c"/>
<polygon points="408.8,368.1 410.5,370.4 411.7,371.2 410.0,369.3" fill="#e53138" stroke="#e53138"/>
<polygon points="411.7,371.2 413.5,373.3 414.7,373.7 412.9,372.0" fill="#e95056" stroke="#e95056"/>
<polygon points="414.7,373.7 416.4,375.5 417.6,375.6 415.9,374.2" fill="#ec6a6f" stroke="#ec6a6f"/>
<polygon points="407.6,367.0 409.4,369.6 410.5,370.4 408.8,368.1" fill="#e3232a" stroke="#e3232a"/>
<polygon points="413.5,373.3 415.2,375.3 416.4,375.5 414.7,373.7" fill="#eb6166" stroke="#eb6166"/>
<polygon points="410.5,370.4 412.3,372.7 413.5,373.3 411.7,371.2" fill="#e7444a" stroke="#e7444a"/>
<polygon points="409.4,369.6 411.1,372.2 412.3,372.7 410.5,370.4" fill="#e6383f" stroke="#e6383f"/>
<polygon points="412.3,372.7 414.1,375.1 415.2,375.3 413.5,373.3" fill="#ea575d" stroke="#ea575d"/>
<polygon points="411.1,372.2 412.9,374.9 414.1,375.1 412.3,372.7" fill="#e84e54" stroke="#e84e54"/>
</g>
<polyline points="405.8,364.4 407.6,367.0 409.4,369.6 411.1,372.2 412.9,374.9 414.1,375.1 415.2,375.3 416.4,375.5 417.6,375.6 415.9,374.2 414.1,372.8 412.4,371.4 410.6,370.0 409.4,368.7 408.2,367.3 407.0,365.9 405.8,364.4" fill="none" stroke="#8a8083" stroke-width="0.5" stroke-linejoin="round"/>
<polygon points="353.0,392.7 360.2,394.5 365.1,391.7 357.9,389.8" fill="#ffffff" />
<polyline points="353.0,392.7 354.8,393.2 356.6,393.6 358.4,394.1 360.2,394.5 361.4,393.8 362.7,393.1 363.9,392.4 365.1,391.7 363.3,391.2 361.5,390.8 359.7,390.3 357.9,389.8 356.7,390.5 355.5,391.3 354.2,392.0 353.0,392.7" fill="none" stroke="#8a8083" stroke-width="0.5" stroke-linejoin="round"/>
<polygon points="365.1,391.7 372.3,393.5 377.2,390.7 370.0,388.8" fill="#ffffff" />
<polyline points="365.1,391.7 366.9,392.1 368.7,392.6 370.5,393.1 372.3,393.5 373.5,392.8 374.7,392.1 375.9,391.4 377.2,390.7 375.4,390.2 373.6,389.8 371.8,389.3 370.0,388.8 368.8,389.5 367.6,390.3 366.3,391.0 365.1,391.7" fill="none" stroke="#8a8083" stroke-width="0.5" stroke-linejoin="round"/>
<g stroke-width="0.35">
<polygon points="380.8,388.6 382.6,388.3 383.8,387.4 382.0,387.8" fill="#ffffff" stroke="#ffffff"/>
<polygon points="379.6,389.3 381.4,389.2 382.6,388.3 380.8,388.6" fill="#ffffff" stroke="#ffffff"/>
<polygon points="382.6,388.3 384.4,388.0 385.6,386.8 383.8,387.4" fill="#fdf0f1" stroke="#fdf0f1"/>
<polygon points="378.4,390.0 380.2,390.2 381.4,389.2 379.6,389.3" fill="#ffffff" stroke="#ffffff"/>
<polygon points="381.4,389.2 383.2,389.2 384.4,388.0 382.6,388.3" fill="#fefafa" stroke="#fefafa"/>
<polygon points="384.4,388.0 386.2,387.7 387.4,386.3 385.6,386.8" fill="#fbdfe0" stroke="#fbdfe0"/>
<polygon points="377.2,390.7 379.0,391.2 380.2,390.2 378.4,390.0" fill="#ffffff" stroke="#ffffff"/>
<polygon points="380.2,390.2 382.0,390.4 383.2,389.2 381.4,389.2" fill="#ffffff" stroke="#ffffff"/>
<polygon points="383.2,389.2 384.9,389.2 386.2,387.7 384.4,388.0" fill="#fcebeb" stroke="#fcebeb"/>
<polygon points="386.2,387.7 387.9,387.4 389.1,385.8 387.4,386.3" fill="#f9d1d2" stroke="#f9d1d2"/>
<polygon points="379.0,391.2 380.7,391.6 382.0,390.4 380.2,390.2" fill="#ffffff" stroke="#ffffff"/>
<polygon points="382.0,390.4 383.7,390.6 384.9,389.2 383.2,389.2" fill="#fefafa" stroke="#fefafa"/>
<polygon points="384.9,389.2 386.7,389.1 387.9,387.4 386.2,387.7" fill="#fbdfe0" stroke="#fbdfe0"/>
<polygon points="380.7,391.6 382.5,392.1 383.7,390.6 382.0,390.4" fill="#ffffff" stroke="#ffffff"/>
<polygon points="383.7,390.6 385.5,390.8 386.7,389.1 384.9,389.2" fill="#fdf0f1" stroke="#fdf0f1"/>
<polygon points="382.5,392.1 384.3,392.6 385.5,390.8 383.7,390.6" fill="#ffffff" stroke="#ffffff"/>
</g>
<polyline points="377.2,390.7 379.0,391.2 380.7,391.6 382.5,392.1 384.3,392.6 385.5,390.8 386.7,389.1 387.9,387.4 389.1,385.8 387.4,386.3 385.6,386.8 383.8,387.4 382.0,387.8 380.8,388.6 379.6,389.3 378.4,390.0 377.2,390.7" fill="none" stroke="#8a8083" stroke-width="0.5" stroke-linejoin="round"/>
<g stroke-width="0.35">
<polygon points="392.8,379.2 394.5,378.6 395.7,376.4 394.0,377.1" fill="#ee787d" stroke="#ee787d"/>
<polygon points="394.5,378.6 396.3,378.0 397.5,375.6 395.7,376.4" fill="#ec6c71" stroke="#ec6c71"/>
<polygon points="391.6,381.3 393.3,380.9 394.5,378.6 392.8,379.2" fill="#f08a8e" stroke="#f08a8e"/>
<polygon points="396.3,378.0 398.1,377.4 399.3,374.9 397.5,375.6" fill="#eb6167" stroke="#eb6167"/>
<polygon points="390.3,383.5 392.1,383.2 393.3,380.9 391.6,381.3" fill="#f39ea1" stroke="#f39ea1"/>
<polygon points="393.3,380.9 395.1,380.4 396.3,378.0 394.5,378.6" fill="#ef8084" stroke="#ef8084"/>
<polygon points="389.1,385.8 390.9,385.5 392.1,383.2 390.3,383.5" fill="#f5b3b6" stroke="#f5b3b6"/>
<polygon points="392.1,383.2 393.9,382.8 395.1,380.4 393.3,380.9" fill="#f19498" stroke="#f19498"/>
<polygon points="395.1,380.4 396.9,379.9 398.1,377.4 396.3,378.0" fill="#ed757a" stroke="#ed757a"/>
<polygon points="398.1,377.4 399.8,376.7 401.0,374.1 399.3,374.9" fill="#e9565c" stroke="#e9565c"/>
<polygon points="393.9,382.8 395.7,382.4 396.9,379.9 395.1,380.4" fill="#f08a8e" stroke="#f08a8e"/>
<polygon points="390.9,385.5 392.7,385.3 393.9,382.8 392.1,383.2" fill="#f4aaad" stroke="#f4aaad"/>
<polygon points="396.9,379.9 398.6,379.3 399.8,376.7 398.1,377.4" fill="#ec6b70" stroke="#ec6b70"/>
<polygon points="392.7,385.3 394.5,385.0 395.7,382.4 393.9,382.8" fill="#f3a1a4" stroke="#f3a1a4"/>
<polygon points="395.7,382.4 397.4,382.0 398.6,379.3 396.9,379.9" fill="#ef8185" stroke="#ef8185"/>
<polygon points="394.5,385.0 396.2,384.8 397.4,382.0 395.7,382.4" fill="#f2989b" stroke="#f2989b"/>
</g>
<polyline points="389.1,385.8 390.9,385.5 392.7,385.3 394.5,385.0 396.2,384.8 397.4,382.0 398.6,379.3 399.8,376.7 401.0,374.1 399.3,374.9 397.5,375.6 395.7,376.4 394.0,377.1 392.8,379.2 391.6,381.3 390.3,383.5 389.1,385.8" fill="none" stroke="#8a8083" stroke-width="0.5" stroke-linejoin="round"/>
<g stroke-width="0.35">
<polygon points="404.6,366.8 406.4,369.1 407.6,367.0 405.8,364.4" fill="#e1141c" stroke="#e1141c"/>
<polygon points="403.4,369.2 405.2,371.2 406.4,369.1 404.6,366.8" fill="#e21f27" stroke="#e21f27"/>
<polygon points="406.4,369.1 408.2,371.4 409.4,369.6 407.6,367.0" fill="#e3232a" stroke="#e3232a"/>
<polygon points="402.2,371.6 404.0,373.4 405.2,371.2 403.4,369.2" fill="#e53138" stroke="#e53138"/>
<polygon points="405.2,371.2 407.0,373.2 408.2,371.4 406.4,369.1" fill="#e53138" stroke="#e53138"/>
<polygon points="408.2,371.4 409.9,373.8 411.1,372.2 409.4,369.6" fill="#e6383f" stroke="#e6383f"/>
<polygon points="401.0,374.1 402.8,375.6 404.0,373.4 402.2,371.6" fill="#e74349" stroke="#e74349"/>
<polygon points="404.0,373.4 405.8,375.1 407.0,373.2 405.2,371.2" fill="#e74047" stroke="#e74047"/>
<polygon points="407.0,373.2 408.7,375.3 409.9,373.8 408.2,371.4" fill="#e7444a" stroke="#e7444a"/>
<polygon points="409.9,373.8 411.7,376.2 412.9,374.9 411.1,372.2" fill="#e84e54" stroke="#e84e54"/>
<polygon points="408.7,375.3 410.5,377.5 411.7,376.2 409.9,373.8" fill="#ea575d" stroke="#ea575d"/>
<polygon points="402.8,375.6 404.6,377.1 405.8,375.1 404.0,373.4" fill="#e95056" stroke="#e95056"/>
<polygon points="405.8,375.1 407.5,376.9 408.7,375.3 407.0,373.2" fill="#e95056" stroke="#e95056"/>
<polygon points="407.5,376.9 409.3,378.8 410.5,377.5 408.7,375.3" fill="#eb6166" stroke="#eb6166"/>
<polygon points="404.6,377.1 406.3,378.6 407.5,376.9 405.8,375.1" fill="#ea5d62" stroke="#ea5d62"/>
<polygon points="406.3,378.6 408.1,380.1 409.3,378.8 407.5,376.9" fill="#ec6a6f" stroke="#ec6a6f"/>
</g>
<polyline points="401.0,374.1 402.8,375.6 404.6,377.1 406.3,378.6 408.1,380.1 409.3,378.8 410.5,377.5 411.7,376.2 412.9,374.9 411.1,372.2 409.4,369.6 407.6,367.0 405.8,364.4 404.6,366.8 403.4,369.2 402.2,371.6 401.0,374.1" fill="none" stroke="#8a8083" stroke-width="0.5" stroke-linejoin="round"/>
<g stroke-width="0.35">
<polygon points="416.4,375.5 418.2,377.9 419.4,377.9 417.6,375.6" fill="#ee7d81" stroke="#ee7d81"/>
<polygon points="415.2,375.3 417.0,377.8 418.2,377.9 416.4,375.5" fill="#ed757a" stroke="#ed757a"/>
<polygon points="418.2,377.9 419.9,380.3 421.1,380.3 419.4,377.9" fill="#f19599" stroke="#f19599"/>
<polygon points="417.0,377.8 418.8,380.4 419.9,380.3 418.2,377.9" fill="#f18e92" stroke="#f18e92"/>
<polygon points="414.1,375.1 415.8,377.7 417.0,377.8 415.2,375.3" fill="#ec6d72" stroke="#ec6d72"/>
<polygon points="419.9,380.3 421.7,382.8 422.9,382.7 421.1,380.3" fill="#f5afb2" stroke="#f5afb2"/>
<polygon points="412.9,374.9 414.6,377.6 415.8,377.7 414.1,375.1" fill="#eb666b" stroke="#eb666b"/>
<polygon points="415.8,377.7 417.6,380.4 418.8,380.4 417.0,377.8" fill="#f0868b" stroke="#f0868b"/>
<polygon points="418.8,380.4 420.5,383.0 421.7,382.8 419.9,380.3" fill="#f4a8ab" stroke="#f4a8ab"/>
<polygon points="421.7,382.8 423.4,385.4 424.6,385.1 422.9,382.7" fill="#f9cdcf" stroke="#f9cdcf"/>
<polygon points="414.6,377.6 416.4,380.4 417.6,380.4 415.8,377.7" fill="#ef7f84" stroke="#ef7f84"/>
<polygon points="420.5,383.0 422.3,385.6 423.4,385.4 421.7,382.8" fill="#f8c6c8" stroke="#f8c6c8"/>
<polygon points="417.6,380.4 419.3,383.1 420.5,383.0 418.8,380.4" fill="#f3a2a5" stroke="#f3a2a5"/>
<polygon points="416.4,380.4 418.1,383.2 419.3,383.1 417.6,380.4" fill="#f29b9e" stroke="#f29b9e"/>
<polygon points="419.3,383.1 421.1,385.9 422.3,385.6 420.5,383.0" fill="#f7c0c2" stroke="#f7c0c2"/>
<polygon points="418.1,383.2 419.9,386.1 421.1,385.9 419.3,383.1" fill="#f6b9bc" stroke="#f6b9bc"/>
</g>
<polyline points="412.9,374.9 414.6,377.6 416.4,380.4 418.1,383.2 419.9,386.1 421.1,385.9 422.3,385.6 423.4,385.4 424.6,385.1 422.9,382.7 421.1,380.3 419.4,377.9 417.6,375.6 416.4,375.5 415.2,375.3 414.1,375.1 412.9,374.9" fill="none" stroke="#8a8083" stroke-width="0.5" stroke-linejoin="round"/>
<g stroke-width="0.35">
<polygon points="428.2,384.4 429.9,385.0 431.1,384.7 429.3,384.2" fill="#ffffff" stroke="#ffffff"/>
<polygon points="427.0,384.7 428.7,385.4 429.9,385.0 428.2,384.4" fill="#ffffff" stroke="#ffffff"/>
<polygon points="429.9,385.0 431.6,385.6 432.8,385.2 431.1,384.7" fill="#ffffff" stroke="#ffffff"/>
<polygon points="425.8,384.9 427.5,385.7 428.7,385.4 427.0,384.7" fill="#fef5f5" stroke="#fef5f5"/>
<polygon points="431.6,385.6 433.4,386.2 434.6,385.7 432.8,385.2" fill="#ffffff" stroke="#ffffff"/>
<polygon points="428.7,385.4 430.5,386.1 431.6,385.6 429.9,385.0" fill="#ffffff" stroke="#ffffff"/>
<polygon points="424.6,385.1 426.4,386.0 427.5,385.7 425.8,384.9" fill="#fcebec" stroke="#fcebec"/>
<polygon points="427.5,385.7 429.3,386.5 430.5,386.1 428.7,385.4" fill="#ffffff" stroke="#ffffff"/>
<polygon points="430.5,386.1 432.2,386.8 433.4,386.2 431.6,385.6" fill="#ffffff" stroke="#ffffff"/>
<polygon points="433.4,386.2 435.1,386.8 436.3,386.1 434.6,385.7" fill="#ffffff" stroke="#ffffff"/>
<polygon points="429.3,386.5 431.0,387.4 432.2,386.8 430.5,386.1" fill="#ffffff" stroke="#ffffff"/>
<polygon points="426.4,386.0 428.1,387.0 429.3,386.5 427.5,385.7" fill="#fef5f5" stroke="#fef5f5"/>
<polygon points="432.2,386.8 434.0,387.5 435.1,386.8 433.4,386.2" fill="#ffffff" stroke="#ffffff"/>
<polygon points="428.1,387.0 429.9,387.9 431.0,387.4 429.3,386.5" fill="#ffffff" stroke="#ffffff"/>
<polygon points="431.0,387.4 432.8,388.2 434.0,387.5 432.2,386.8" fill="#ffffff" stroke="#ffffff"/>
<polygon points="429.9,387.9 431.6,388.9 432.8,388.2 431.0,387.4" fill="#ffffff" stroke="#ffffff"/>
</g>
<polyline points="424.6,385.1 426.4,386.0 428.1,387.0 429.9,387.9 431.6,388.9 432.8,388.2 434.0,387.5 435.1,386.8 436.3,386.1 434.6,385.7 432.8,385.2 431.1,384.7 429.3,384.2 428.2,384.4 427.0,384.7 425.8,384.9 424.6,385.1" fill="none" stroke="#8a8083" stroke-width="0.5" stroke-linejoin="round"/>
<g stroke-width="0.35">
<polygon points="411.7,376.2 413.4,378.9 414.6,377.6 412.9,374.9" fill="#eb666b" stroke="#eb666b"/>
<polygon points="410.5,377.5 412.2,380.1 413.4,378.9 411.7,376.2" fill="#ec6d72" stroke="#ec6d72"/>
<polygon points="413.4,378.9 415.2,381.6 416.4,380.4 414.6,377.6" fill="#ef7f84" stroke="#ef7f84"/>
<polygon points="412.2,380.1 414.0,382.8 415.2,381.6 413.4,378.9" fill="#f0868a" stroke="#f0868a"/>
<polygon points="409.3,378.8 411.1,381.3 412.2,380.1 410.5,377.5" fill="#ed7579" stroke="#ed7579"/>
<polygon points="415.2,381.6 417.0,384.4 418.1,383.2 416.4,380.4" fill="#f29b9e" stroke="#f29b9e"/>
<polygon points="411.1,381.3 412.8,384.0 414.0,382.8 412.2,380.1" fill="#f18e91" stroke="#f18e91"/>
<polygon points="414.0,382.8 415.8,385.5 417.0,384.4 415.2,381.6" fill="#f3a1a5" stroke="#f3a1a5"/>
<polygon points="417.0,384.4 418.7,387.2 419.9,386.1 418.1,383.2" fill="#f6b9bc" stroke="#f6b9bc"/>
<polygon points="408.1,380.1 409.9,382.6 411.1,381.3 409.3,378.8" fill="#ee7d81" stroke="#ee7d81"/>
<polygon points="415.8,385.5 417.5,388.2 418.7,387.2 417.0,384.4" fill="#f7c0c2" stroke="#f7c0c2"/>
<polygon points="409.9,382.6 411.6,385.2 412.8,384.0 411.1,381.3" fill="#f19598" stroke="#f19598"/>
<polygon points="412.8,384.0 414.6,386.6 415.8,385.5 414.0,382.8" fill="#f4a8ab" stroke="#f4a8ab"/>
<polygon points="414.6,386.6 416.4,389.3 417.5,388.2 415.8,385.5" fill="#f8c6c8" stroke="#f8c6c8"/>
<polygon points="411.6,385.2 413.4,387.8 414.6,386.6 412.8,384.0" fill="#f5afb2" stroke="#f5afb2"/>
<polygon points="413.4,387.8 415.2,390.4 416.4,389.3 414.6,386.6" fill="#f9cdcf" stroke="#f9cdcf"/>
</g>
<polyline points="408.1,380.1 409.9,382.6 411.6,385.2 413.4,387.8 415.2,390.4 416.4,389.3 417.5,388.2 418.7,387.2 419.9,386.1 418.1,383.2 416.4,380.4 414.6,377.6 412.9,374.9 411.7,376.2 410.5,377.5 409.3,378.8 408.1,380.1" fill="none" stroke="#8a8083" stroke-width="0.5" stroke-linejoin="round"/>
<polygon points="360.2,394.5 367.4,396.4 372.3,393.5 365.1,391.7" fill="#ffffff" />
<polyline points="360.2,394.5 362.0,395.0 363.8,395.5 365.6,395.9 367.4,396.4 368.6,395.7 369.9,395.0 371.1,394.3 372.3,393.5 370.5,393.1 368.7,392.6 366.9,392.1 365.1,391.7 363.9,392.4 362.7,393.1 361.4,393.8 360.2,394.5" fill="none" stroke="#8a8083" stroke-width="0.5" stroke-linejoin="round"/>
<g stroke-width="0.35">
<polygon points="387.9,387.4 389.7,387.4 390.9,385.5 389.1,385.8" fill="#f8c6c8" stroke="#f8c6c8"/>
<polygon points="386.7,389.1 388.5,389.2 389.7,387.4 387.9,387.4" fill="#fad6d8" stroke="#fad6d8"/>
<polygon points="389.7,387.4 391.5,387.3 392.7,385.3 390.9,385.5" fill="#f7bec0" stroke="#f7bec0"/>
<polygon points="385.5,390.8 387.3,391.1 388.5,389.2 386.7,389.1" fill="#fce9ea" stroke="#fce9ea"/>
<polygon points="391.5,387.3 393.3,387.2 394.5,385.0 392.7,385.3" fill="#f6b6b8" stroke="#f6b6b8"/>
<polygon points="388.5,389.2 390.3,389.3 391.5,387.3 389.7,387.4" fill="#f9d0d1" stroke="#f9d0d1"/>
<polygon points="384.3,392.6 386.1,393.0 387.3,391.1 385.5,390.8" fill="#ffffff" stroke="#ffffff"/>
<polygon points="390.3,389.3 392.1,389.4 393.3,387.2 391.5,387.3" fill="#f8c9cb" stroke="#f8c9cb"/>
<polygon points="387.3,391.1 389.1,391.4 390.3,389.3 388.5,389.2" fill="#fce5e6" stroke="#fce5e6"/>
<polygon points="393.3,387.2 395.0,387.1 396.2,384.8 394.5,385.0" fill="#f5aeb1" stroke="#f5aeb1"/>
<polygon points="389.1,391.4 390.9,391.7 392.1,389.4 390.3,389.3" fill="#fbe0e1" stroke="#fbe0e1"/>
<polygon points="386.1,393.0 387.9,393.5 389.1,391.4 387.3,391.1" fill="#ffffff" stroke="#ffffff"/>
<polygon points="392.1,389.4 393.8,389.5 395.0,387.1 393.3,387.2" fill="#f7c3c5" stroke="#f7c3c5"/>
<polygon points="387.9,393.5 389.7,394.0 390.9,391.7 389.1,391.4" fill="#ffffff" stroke="#ffffff"/>
<polygon points="390.9,391.7 392.6,391.9 393.8,389.5 392.1,389.4" fill="#fbdcdd" stroke="#fbdcdd"/>
<polygon points="389.7,394.0 391.4,394.4 392.6,391.9 390.9,391.7" fill="#ffffff" stroke="#ffffff"/>
</g>
<polyline points="384.3,392.6 386.1,393.0 387.9,393.5 389.7,394.0 391.4,394.4 392.6,391.9 393.8,389.5 395.0,387.1 396.2,384.8 394.5,385.0 392.7,385.3 390.9,385.5 389.1,385.8 387.9,387.4 386.7,389.1 385.5,390.8 384.3,392.6" fill="none" stroke="#8a8083" stroke-width="0.5" stroke-linejoin="round"/>
<polygon points="372.3,393.5 379.5,395.4 384.3,392.6 377.2,390.7" fill="#ffffff" />
<polyline points="372.3,393.5 374.1,394.0 375.9,394.5 377.7,394.9 379.5,395.4 380.7,394.7 381.9,394.0 383.1,393.3 384.3,392.6 382.5,392.1 380.7,391.6 379.0,391.2 377.2,390.7 375.9,391.4 374.7,392.1 373.5,392.8 372.3,393.5" fill="none" stroke="#8a8083" stroke-width="0.5" stroke-linejoin="round"/>
<g stroke-width="0.35">
<polygon points="399.8,376.7 401.6,378.1 402.8,375.6 401.0,374.1" fill="#e9565c" stroke="#e9565c"/>
<polygon points="398.6,379.3 400.4,380.6 401.6,378.1 399.8,376.7" fill="#ec6b70" stroke="#ec6b70"/>
<polygon points="401.6,378.1 403.4,379.5 404.6,377.1 402.8,375.6" fill="#eb6167" stroke="#eb6167"/>
<polygon points="397.4,382.0 399.2,383.2 400.4,380.6 398.6,379.3" fill="#ef8185" stroke="#ef8185"/>
<polygon points="400.4,380.6 402.2,381.9 403.4,379.5 401.6,378.1" fill="#ed757a" stroke="#ed757a"/>
<polygon points="403.4,379.5 405.1,380.9 406.3,378.6 404.6,377.1" fill="#ec6d71" stroke="#ec6d71"/>
<polygon points="396.2,384.8 398.0,385.8 399.2,383.2 397.4,382.0" fill="#f2989b" stroke="#f2989b"/>
<polygon points="405.1,380.9 406.9,382.3 408.1,380.1 406.3,378.6" fill="#ee787d" stroke="#ee787d"/>
<polygon points="399.2,383.2 401.0,384.4 402.2,381.9 400.4,380.6" fill="#f08a8e" stroke="#f08a8e"/>
<polygon points="402.2,381.9 404.0,383.2 405.1,380.9 403.4,379.5" fill="#ef8084" stroke="#ef8084"/>
<polygon points="398.0,385.8 399.8,387.0 401.0,384.4 399.2,383.2" fill="#f3a1a4" stroke="#f3a1a4"/>
<polygon points="404.0,383.2 405.7,384.6 406.9,382.3 405.1,380.9" fill="#f08a8e" stroke="#f08a8e"/>
<polygon points="401.0,384.4 402.8,385.6 404.0,383.2 402.2,381.9" fill="#f19498" stroke="#f19498"/>
<polygon points="402.8,385.6 404.5,386.9 405.7,384.6 404.0,383.2" fill="#f39ea1" stroke="#f39ea1"/>
<polygon points="399.8,387.0 401.6,388.1 402.8,385.6 401.0,384.4" fill="#f4aaad" stroke="#f4aaad"/>
<polygon points="401.6,388.1 403.3,389.2 404.5,386.9 402.8,385.6" fill="#f5b3b6" stroke="#f5b3b6"/>
</g>
<polyline points="396.2,384.8 398.0,385.8 399.8,387.0 401.6,388.1 403.3,389.2 404.5,386.9 405.7,384.6 406.9,382.3 408.1,380.1 406.3,378.6 404.6,377.1 402.8,375.6 401.0,374.1 399.8,376.7 398.6,379.3 397.4,382.0 396.2,384.8" fill="none" stroke="#8a8083" stroke-width="0.5" stroke-linejoin="round"/>
<g stroke-width="0.35">
<polygon points="423.4,385.4 425.2,386.4 426.4,386.0 424.6,385.1" fill="#fbe3e4" stroke="#fbe3e4"/>
<polygon points="422.3,385.6 424.0,386.8 425.2,386.4 423.4,385.4" fill="#fbddde" stroke="#fbddde"/>
<polygon points="425.2,386.4 426.9,387.5 428.1,387.0 426.4,386.0" fill="#fdeeef" stroke="#fdeeef"/>
<polygon points="421.1,385.9 422.8,387.1 424.0,386.8 422.3,385.6" fill="#fad7d8" stroke="#fad7d8"/>
<polygon points="424.0,386.8 425.8,387.9 426.9,387.5 425.2,386.4" fill="#fce9ea" stroke="#fce9ea"/>
<polygon points="426.9,387.5 428.7,388.5 429.9,387.9 428.1,387.0" fill="#fffefe" stroke="#fffefe"/>
<polygon points="419.9,386.1 421.7,387.5 422.8,387.1 421.1,385.9" fill="#f9d1d2" stroke="#f9d1d2"/>
<polygon points="425.8,387.9 427.5,389.1 428.7,388.5 426.9,387.5" fill="#fef8f8" stroke="#fef8f8"/>
<polygon points="422.8,387.1 424.6,388.4 425.8,387.9 424.0,386.8" fill="#fce4e5" stroke="#fce4e5"/>
<polygon points="428.7,388.5 430.4,389.6 431.6,388.9 429.9,387.9" fill="#ffffff" stroke="#ffffff"/>
<polygon points="421.7,387.5 423.4,388.9 424.6,388.4 422.8,387.1" fill="#fbdfe0" stroke="#fbdfe0"/>
<polygon points="424.6,388.4 426.3,389.7 427.5,389.1 425.8,387.9" fill="#fef4f4" stroke="#fef4f4"/>
<polygon points="427.5,389.1 429.3,390.3 430.4,389.6 428.7,388.5" fill="#ffffff" stroke="#ffffff"/>
<polygon points="423.4,388.9 425.2,390.3 426.3,389.7 424.6,388.4" fill="#fdf0f1" stroke="#fdf0f1"/>
<polygon points="426.3,389.7 428.1,391.0 429.3,390.3 427.5,389.1" fill="#ffffff" stroke="#ffffff"/>
<polygon points="425.2,390.3 426.9,391.7 428.1,391.0 426.3,389.7" fill="#ffffff" stroke="#ffffff"/>
</g>
<polyline points="419.9,386.1 421.7,387.5 423.4,388.9 425.2,390.3 426.9,391.7 428.1,391.0 429.3,390.3 430.4,389.6 431.6,388.9 429.9,387.9 428.1,387.0 426.4,386.0 424.6,385.1 423.4,385.4 422.3,385.6 421.1,385.9 419.9,386.1" fill="none" stroke="#8a8083" stroke-width="0.5" stroke-linejoin="round"/>
<polygon points="367.4,396.4 374.6,398.2 379.5,395.4 372.3,393.5" fill="#ffffff" />
<polyline points="367.4,396.4 369.2,396.8 371.0,397.3 372.8,397.8 374.6,398.2 375.9,397.5 377.1,396.8 378.3,396.1 379.5,395.4 377.7,394.9 375.9,394.5 374.1,394.0 372.3,393.5 371.1,394.3 369.9,395.0 368.6,395.7 367.4,396.4" fill="none" stroke="#8a8083" stroke-width="0.5" stroke-linejoin="round"/>
<polygon points="379.5,395.4 386.7,397.3 391.4,394.4 384.3,392.6" fill="#ffffff" />
<polyline points="379.5,395.4 381.3,395.9 383.1,396.3 384.9,396.8 386.7,397.3 387.9,396.5 389.1,395.8 390.2,395.1 391.4,394.4 389.7,394.0 387.9,393.5 386.1,393.0 384.3,392.6 383.1,393.3 381.9,394.0 380.7,394.7 379.5,395.4" fill="none" stroke="#8a8083" stroke-width="0.5" stroke-linejoin="round"/>
<g stroke-width="0.35">
<polygon points="406.9,382.3 408.7,384.6 409.9,382.6 408.1,380.1" fill="#f0898d" stroke="#f0898d"/>
<polygon points="408.7,384.6 410.5,386.9 411.6,385.2 409.9,382.6" fill="#f3a0a3" stroke="#f3a0a3"/>
<polygon points="405.7,384.6 407.5,386.6 408.7,384.6 406.9,382.3" fill="#f29a9d" stroke="#f29a9d"/>
<polygon points="407.5,386.6 409.3,388.7 410.5,386.9 408.7,384.6" fill="#f5afb1" stroke="#f5afb1"/>
<polygon points="410.5,386.9 412.2,389.3 413.4,387.8 411.6,385.2" fill="#f6b9bb" stroke="#f6b9bb"/>
<polygon points="404.5,386.9 406.3,388.6 407.5,386.6 405.7,384.6" fill="#f4acaf" stroke="#f4acaf"/>
<polygon points="412.2,389.3 414.0,391.7 415.2,390.4 413.4,387.8" fill="#fad6d7" stroke="#fad6d7"/>
<polygon points="406.3,388.6 408.1,390.4 409.3,388.7 407.5,386.6" fill="#f7bfc1" stroke="#f7bfc1"/>
<polygon points="403.3,389.2 405.1,390.7 406.3,388.6 404.5,386.9" fill="#f7c0c2" stroke="#f7c0c2"/>
<polygon points="409.3,388.7 411.0,390.8 412.2,389.3 410.5,386.9" fill="#f8c6c8" stroke="#f8c6c8"/>
<polygon points="405.1,390.7 406.9,392.3 408.1,390.4 406.3,388.6" fill="#f9d0d2" stroke="#f9d0d2"/>
<polygon points="411.0,390.8 412.8,392.9 414.0,391.7 412.2,389.3" fill="#fbe0e1" stroke="#fbe0e1"/>
<polygon points="408.1,390.4 409.9,392.3 411.0,390.8 409.3,388.7" fill="#f9d4d5" stroke="#f9d4d5"/>
<polygon points="409.9,392.3 411.6,394.1 412.8,392.9 411.0,390.8" fill="#fdeded" stroke="#fdeded"/>
<polygon points="406.9,392.3 408.7,393.8 409.9,392.3 408.1,390.4" fill="#fbe3e4" stroke="#fbe3e4"/>
<polygon points="408.7,393.8 410.5,395.4 411.6,394.1 409.9,392.3" fill="#fffefe" stroke="#fffefe"/>
</g>
<polyline points="403.3,389.2 405.1,390.7 406.9,392.3 408.7,393.8 410.5,395.4 411.6,394.1 412.8,392.9 414.0,391.7 415.2,390.4 413.4,387.8 411.6,385.2 409.9,382.6 408.1,380.1 406.9,382.3 405.7,384.6 404.5,386.9 403.3,389.2" fill="none" stroke="#8a8083" stroke-width="0.5" stroke-linejoin="round"/>
<g stroke-width="0.35">
<polygon points="418.7,387.2 420.5,388.4 421.7,387.5 419.9,386.1" fill="#f9d1d2" stroke="#f9d1d2"/>
<polygon points="417.5,388.2 419.3,389.4 420.5,388.4 418.7,387.2" fill="#fad6d8" stroke="#fad6d8"/>
<polygon points="420.5,388.4 422.2,389.7 423.4,388.9 421.7,387.5" fill="#fbdfe0" stroke="#fbdfe0"/>
<polygon points="416.4,389.3 418.1,390.4 419.3,389.4 417.5,388.2" fill="#fbddde" stroke="#fbddde"/>
<polygon points="419.3,389.4 421.1,390.6 422.2,389.7 420.5,388.4" fill="#fce4e5" stroke="#fce4e5"/>
<polygon points="422.2,389.7 424.0,391.1 425.2,390.3 423.4,388.9" fill="#fdf0f1" stroke="#fdf0f1"/>
<polygon points="421.1,390.6 422.8,391.9 424.0,391.1 422.2,389.7" fill="#fef4f4" stroke="#fef4f4"/>
<polygon points="415.2,390.4 416.9,391.4 418.1,390.4 416.4,389.3" fill="#fbe3e4" stroke="#fbe3e4"/>
<polygon points="418.1,390.4 419.9,391.5 421.1,390.6 419.3,389.4" fill="#fce9ea" stroke="#fce9ea"/>
<polygon points="424.0,391.1 425.8,392.4 426.9,391.7 425.2,390.3" fill="#ffffff" stroke="#ffffff"/>
<polygon points="419.9,391.5 421.6,392.7 422.8,391.9 421.1,390.6" fill="#fef8f8" stroke="#fef8f8"/>
<polygon points="422.8,391.9 424.6,393.1 425.8,392.4 424.0,391.1" fill="#ffffff" stroke="#ffffff"/>
<polygon points="416.9,391.4 418.7,392.4 419.9,391.5 418.1,390.4" fill="#fdeeef" stroke="#fdeeef"/>
<polygon points="418.7,392.4 420.5,393.5 421.6,392.7 419.9,391.5" fill="#fffefe" stroke="#fffefe"/>
<polygon points="421.6,392.7 423.4,393.8 424.6,393.1 422.8,391.9" fill="#ffffff" stroke="#ffffff"/>
<polygon points="420.5,393.5 422.2,394.5 423.4,393.8 421.6,392.7" fill="#ffffff" stroke="#ffffff"/>
</g>
<polyline points="415.2,390.4 416.9,391.4 418.7,392.4 420.5,393.5 422.2,394.5 423.4,393.8 424.6,393.1 425.8,392.4 426.9,391.7 425.2,390.3 423.4,388.9 421.7,387.5 419.9,386.1 418.7,387.2 417.5,388.2 416.4,389.3 415.2,390.4" fill="none" stroke="#8a8083" stroke-width="0.5" stroke-linejoin="round"/>
<g stroke-width="0.35">
<polygon points="395.0,387.1 396.8,388.1 398.0,385.8 396.2,384.8" fill="#f5aeb1" stroke="#f5aeb1"/>
<polygon points="393.8,389.5 395.6,390.3 396.8,388.1 395.0,387.1" fill="#f7c3c5" stroke="#f7c3c5"/>
<polygon points="396.8,388.1 398.6,389.0 399.8,387.0 398.0,385.8" fill="#f6b6b8" stroke="#f6b6b8"/>
<polygon points="392.6,391.9 394.4,392.6 395.6,390.3 393.8,389.5" fill="#fbdcdd" stroke="#fbdcdd"/>
<polygon points="395.6,390.3 397.4,391.1 398.6,389.0 396.8,388.1" fill="#f8c9cb" stroke="#f8c9cb"/>
<polygon points="398.6,389.0 400.4,390.0 401.6,388.1 399.8,387.0" fill="#f7bec0" stroke="#f7bec0"/>
<polygon points="391.4,394.4 393.2,394.9 394.4,392.6 392.6,391.9" fill="#ffffff" stroke="#ffffff"/>
<polygon points="394.4,392.6 396.2,393.2 397.4,391.1 395.6,390.3" fill="#fbe0e1" stroke="#fbe0e1"/>
<polygon points="400.4,390.0 402.2,390.9 403.3,389.2 401.6,388.1" fill="#f8c6c8" stroke="#f8c6c8"/>
<polygon points="397.4,391.1 399.2,391.9 400.4,390.0 398.6,389.0" fill="#f9d0d1" stroke="#f9d0d1"/>
<polygon points="393.2,394.9 395.0,395.4 396.2,393.2 394.4,392.6" fill="#ffffff" stroke="#ffffff"/>
<polygon points="399.2,391.9 401.0,392.7 402.2,390.9 400.4,390.0" fill="#fad6d8" stroke="#fad6d8"/>
<polygon points="396.2,393.2 398.0,393.8 399.2,391.9 397.4,391.1" fill="#fce5e6" stroke="#fce5e6"/>
<polygon points="398.0,393.8 399.8,394.5 401.0,392.7 399.2,391.9" fill="#fce9ea" stroke="#fce9ea"/>
<polygon points="395.0,395.4 396.8,395.8 398.0,393.8 396.2,393.2" fill="#ffffff" stroke="#ffffff"/>
<polygon points="396.8,395.8 398.6,396.3 399.8,394.5 398.0,393.8" fill="#ffffff" stroke="#ffffff"/>
</g>
<polyline points="391.4,394.4 393.2,394.9 395.0,395.4 396.8,395.8 398.6,396.3 399.8,394.5 401.0,392.7 402.2,390.9 403.3,389.2 401.6,388.1 399.8,387.0 398.0,385.8 396.2,384.8 395.0,387.1 393.8,389.5 392.6,391.9 391.4,394.4" fill="none" stroke="#8a8083" stroke-width="0.5" stroke-linejoin="round"/>
<g stroke-width="0.35">
<polygon points="402.2,390.9 403.9,392.2 405.1,390.7 403.3,389.2" fill="#f9d1d2" stroke="#f9d1d2"/>
<polygon points="403.9,392.2 405.7,393.5 406.9,392.3 405.1,390.7" fill="#fbdfe0" stroke="#fbdfe0"/>
<polygon points="401.0,392.7 402.8,393.7 403.9,392.2 402.2,390.9" fill="#fbdfe0" stroke="#fbdfe0"/>
<polygon points="402.8,393.7 404.5,394.7 405.7,393.5 403.9,392.2" fill="#fcebeb" stroke="#fcebeb"/>
<polygon points="399.8,394.5 401.6,395.2 402.8,393.7 401.0,392.7" fill="#fdf0f1" stroke="#fdf0f1"/>
<polygon points="405.7,393.5 407.5,394.8 408.7,393.8 406.9,392.3" fill="#fdf0f1" stroke="#fdf0f1"/>
<polygon points="401.6,395.2 403.3,396.0 404.5,394.7 402.8,393.7" fill="#fefafa" stroke="#fefafa"/>
<polygon points="407.5,394.8 409.3,396.1 410.5,395.4 408.7,393.8" fill="#ffffff" stroke="#ffffff"/>
<polygon points="398.6,396.3 400.4,396.8 401.6,395.2 399.8,394.5" fill="#ffffff" stroke="#ffffff"/>
<polygon points="404.5,394.7 406.3,395.7 407.5,394.8 405.7,393.5" fill="#fefafa" stroke="#fefafa"/>
<polygon points="400.4,396.8 402.2,397.2 403.3,396.0 401.6,395.2" fill="#ffffff" stroke="#ffffff"/>
<polygon points="406.3,395.7 408.1,396.8 409.3,396.1 407.5,394.8" fill="#ffffff" stroke="#ffffff"/>
<polygon points="403.3,396.0 405.1,396.7 406.3,395.7 404.5,394.7" fill="#ffffff" stroke="#ffffff"/>
<polygon points="405.1,396.7 406.9,397.5 408.1,396.8 406.3,395.7" fill="#ffffff" stroke="#ffffff"/>
<polygon points="402.2,397.2 403.9,397.7 405.1,396.7 403.3,396.0" fill="#ffffff" stroke="#ffffff"/>
<polygon points="403.9,397.7 405.7,398.2 406.9,397.5 405.1,396.7" fill="#ffffff" stroke="#ffffff"/>
</g>
<polyline points="398.6,396.3 400.4,396.8 402.2,397.2 403.9,397.7 405.7,398.2 406.9,397.5 408.1,396.8 409.3,396.1 410.5,395.4 408.7,393.8 406.9,392.3 405.1,390.7 403.3,389.2 402.2,390.9 401.0,392.7 399.8,394.5 398.6,396.3" fill="none" stroke="#8a8083" stroke-width="0.5" stroke-linejoin="round"/>
<polygon points="374.6,398.2 381.9,400.1 386.7,397.3 379.5,395.4" fill="#ffffff" />
<polyline points="374.6,398.2 376.4,398.7 378.2,399.1 380.1,399.6 381.9,400.1 383.1,399.4 384.3,398.7 385.5,398.0 386.7,397.3 384.9,396.8 383.1,396.3 381.3,395.9 379.5,395.4 378.3,396.1 377.1,396.8 375.9,397.5 374.6,398.2" fill="none" stroke="#8a8083" stroke-width="0.5" stroke-linejoin="round"/>
<polygon points="386.7,397.3 393.8,399.1 398.6,396.3 391.4,394.4" fill="#ffffff" />
<polyline points="386.7,397.3 388.4,397.7 390.2,398.2 392.0,398.6 393.8,399.1 395.0,398.4 396.2,397.7 397.4,397.0 398.6,396.3 396.8,395.8 395.0,395.4 393.2,394.9 391.4,394.4 390.2,395.1 389.1,395.8 387.9,396.5 386.7,397.3" fill="none" stroke="#8a8083" stroke-width="0.5" stroke-linejoin="round"/>
<g stroke-width="0.35">
<polygon points="414.0,391.7 415.8,392.5 416.9,391.4 415.2,390.4" fill="#fcebec" stroke="#fcebec"/>
<polygon points="412.8,392.9 414.6,393.6 415.8,392.5 414.0,391.7" fill="#fef5f5" stroke="#fef5f5"/>
<polygon points="415.8,392.5 417.5,393.4 418.7,392.4 416.9,391.4" fill="#fef5f5" stroke="#fef5f5"/>
<polygon points="417.5,393.4 419.3,394.3 420.5,393.5 418.7,392.4" fill="#ffffff" stroke="#ffffff"/>
<polygon points="411.6,394.1 413.4,394.7 414.6,393.6 412.8,392.9" fill="#ffffff" stroke="#ffffff"/>
<polygon points="414.6,393.6 416.4,394.4 417.5,393.4 415.8,392.5" fill="#ffffff" stroke="#ffffff"/>
<polygon points="410.5,395.4 412.2,395.8 413.4,394.7 411.6,394.1" fill="#ffffff" stroke="#ffffff"/>
<polygon points="416.4,394.4 418.1,395.1 419.3,394.3 417.5,393.4" fill="#ffffff" stroke="#ffffff"/>
<polygon points="419.3,394.3 421.1,395.2 422.2,394.5 420.5,393.5" fill="#ffffff" stroke="#ffffff"/>
<polygon points="413.4,394.7 415.2,395.3 416.4,394.4 414.6,393.6" fill="#ffffff" stroke="#ffffff"/>
<polygon points="415.2,395.3 417.0,395.9 418.1,395.1 416.4,394.4" fill="#ffffff" stroke="#ffffff"/>
<polygon points="412.2,395.8 414.0,396.3 415.2,395.3 413.4,394.7" fill="#ffffff" stroke="#ffffff"/>
<polygon points="418.1,395.1 419.9,395.9 421.1,395.2 419.3,394.3" fill="#ffffff" stroke="#ffffff"/>
<polygon points="414.0,396.3 415.8,396.8 417.0,395.9 415.2,395.3" fill="#ffffff" stroke="#ffffff"/>
<polygon points="417.0,395.9 418.7,396.6 419.9,395.9 418.1,395.1" fill="#ffffff" stroke="#ffffff"/>
<polygon points="415.8,396.8 417.6,397.3 418.7,396.6 417.0,395.9" fill="#ffffff" stroke="#ffffff"/>
</g>
<polyline points="410.5,395.4 412.2,395.8 414.0,396.3 415.8,396.8 417.6,397.3 418.7,396.6 419.9,395.9 421.1,395.2 422.2,394.5 420.5,393.5 418.7,392.4 416.9,391.4 415.2,390.4 414.0,391.7 412.8,392.9 411.6,394.1 410.5,395.4" fill="none" stroke="#8a8083" stroke-width="0.5" stroke-linejoin="round"/>
<polygon points="393.8,399.1 401.0,401.0 405.7,398.2 398.6,396.3" fill="#ffffff" />
<polyline points="393.8,399.1 395.6,399.6 397.4,400.0 399.2,400.5 401.0,401.0 402.2,400.3 403.4,399.6 404.5,398.9 405.7,398.2 403.9,397.7 402.2,397.2 400.4,396.8 398.6,396.3 397.4,397.0 396.2,397.7 395.0,398.4 393.8,399.1" fill="none" stroke="#8a8083" stroke-width="0.5" stroke-linejoin="round"/>
<polygon points="405.7,398.2 412.9,400.0 417.6,397.3 410.5,395.4" fill="#ffffff" />
<polyline points="405.7,398.2 407.5,398.6 409.3,399.1 411.1,399.6 412.9,400.0 414.0,399.3 415.2,398.6 416.4,398.0 417.6,397.3 415.8,396.8 414.0,396.3 412.2,395.8 410.5,395.4 409.3,396.1 408.1,396.8 406.9,397.5 405.7,398.2" fill="none" stroke="#8a8083" stroke-width="0.5" stroke-linejoin="round"/>
<polygon points="381.9,400.1 389.1,401.9 393.8,399.1 386.7,397.3" fill="#ffffff" />
<polyline points="381.9,400.1 383.7,400.5 385.5,401.0 387.3,401.5 389.1,401.9 390.3,401.2 391.5,400.5 392.6,399.8 393.8,399.1 392.0,398.6 390.2,398.2 388.4,397.7 386.7,397.3 385.5,398.0 384.3,398.7 383.1,399.4 381.9,400.1" fill="none" stroke="#8a8083" stroke-width="0.5" stroke-linejoin="round"/>
<polygon points="389.1,401.9 396.3,403.8 401.0,401.0 393.8,399.1" fill="#ffffff" />
<polyline points="389.1,401.9 390.9,402.4 392.7,402.8 394.5,403.3 396.3,403.8 397.5,403.1 398.6,402.4 399.8,401.7 401.0,401.0 399.2,400.5 397.4,400.0 395.6,399.6 393.8,399.1 392.6,399.8 391.5,400.5 390.3,401.2 389.1,401.9" fill="none" stroke="#8a8083" stroke-width="0.5" stroke-linejoin="round"/>
<polygon points="401.0,401.0 408.2,402.8 412.9,400.0 405.7,398.2" fill="#ffffff" />
<polyline points="401.0,401.0 402.8,401.4 404.6,401.9 406.4,402.4 408.2,402.8 409.4,402.1 410.5,401.4 411.7,400.7 412.9,400.0 411.1,399.6 409.3,399.1 407.5,398.6 405.7,398.2 404.5,398.9 403.4,399.6 402.2,400.3 401.0,401.0" fill="none" stroke="#8a8083" stroke-width="0.5" stroke-linejoin="round"/>
<polygon points="396.3,403.8 403.5,405.6 408.2,402.8 401.0,401.0" fill="#ffffff" />
<polyline points="396.3,403.8 398.1,404.2 399.9,404.7 401.7,405.1 403.5,405.6 404.7,404.9 405.8,404.2 407.0,403.5 408.2,402.8 406.4,402.4 404.6,401.9 402.8,401.4 401.0,401.0 399.8,401.7 398.6,402.4 397.5,403.1 396.3,403.8" fill="none" stroke="#8a8083" stroke-width="0.5" stroke-linejoin="round"/>
<polygon points="350.6,422.2 350.6,428.5 406.0,441.5" fill="#a8a8a8" />
<polygon points="416.0,439.5 438.4,410.6 442.6,414.0" fill="#a8a8a8" />
<text x="349.00" y="380.80" font-size="8.3" fill="#333" text-anchor="end">60</text>
<text x="349.00" y="392.80" font-size="8.3" fill="#333" text-anchor="end">40</text>
<text x="349.00" y="401.50" font-size="8.3" fill="#333" text-anchor="end">20</text>
<text x="349.00" y="412.10" font-size="8.3" fill="#333" text-anchor="end">0</text>
<text x="335.00" y="393.80" font-size="8.8" fill="#333" text-anchor="middle" textLength="30" lengthAdjust="spacingAndGlyphs" transform="rotate(-90 335.00 393.80)">δ · score</text>
<text x="348.80" y="447.80" font-size="8.6" fill="#333" textLength="40.8" lengthAdjust="spacingAndGlyphs">20D9-ADC</text>
<text x="426.30" y="443.40" font-size="8.6" fill="#333" textLength="40.7" lengthAdjust="spacingAndGlyphs">Quizartinib</text>
<text x="26.20" y="532.70" font-size="11" font-weight="bold" fill="#111" stroke="#111" stroke-width="0.35">G</text>
<line x1="82.60" y1="543.00" x2="82.60" y2="666.80" stroke="#2b2b2b" stroke-width="1.3" />
<line x1="79.10" y1="665.40" x2="82.60" y2="665.40" stroke="#2b2b2b" stroke-width="1.1" />
<text x="70.20" y="669.40" font-size="8.4" fill="#231f20" text-anchor="end" textLength="10.6" lengthAdjust="spacingAndGlyphs">10</text>
<text x="70.60" y="665.70" font-size="5.4" fill="#231f20" textLength="3.3" lengthAdjust="spacingAndGlyphs">5</text>
<line x1="80.80" y1="660.88" x2="82.60" y2="660.88" stroke="#2b2b2b" stroke-width="0.6" />
<line x1="80.80" y1="658.23" x2="82.60" y2="658.23" stroke="#2b2b2b" stroke-width="0.6" />
<line x1="80.80" y1="656.35" x2="82.60" y2="656.35" stroke="#2b2b2b" stroke-width="0.6" />
<line x1="80.80" y1="654.89" x2="82.60" y2="654.89" stroke="#2b2b2b" stroke-width="0.6" />
<line x1="80.80" y1="653.70" x2="82.60" y2="653.70" stroke="#2b2b2b" stroke-width="0.6" />
<line x1="80.80" y1="652.70" x2="82.60" y2="652.70" stroke="#2b2b2b" stroke-width="0.6" />
<line x1="80.80" y1="651.83" x2="82.60" y2="651.83" stroke="#2b2b2b" stroke-width="0.6" />
<line x1="80.80" y1="651.06" x2="82.60" y2="651.06" stroke="#2b2b2b" stroke-width="0.6" />
<line x1="79.10" y1="650.37" x2="82.60" y2="650.37" stroke="#2b2b2b" stroke-width="1.1" />
<text x="70.20" y="654.37" font-size="8.4" fill="#231f20" text-anchor="end" textLength="10.6" lengthAdjust="spacingAndGlyphs">10</text>
<text x="70.60" y="650.67" font-size="5.4" fill="#231f20" textLength="3.3" lengthAdjust="spacingAndGlyphs">6</text>
<line x1="80.80" y1="645.85" x2="82.60" y2="645.85" stroke="#2b2b2b" stroke-width="0.6" />
<line x1="80.80" y1="643.20" x2="82.60" y2="643.20" stroke="#2b2b2b" stroke-width="0.6" />
<line x1="80.80" y1="641.32" x2="82.60" y2="641.32" stroke="#2b2b2b" stroke-width="0.6" />
<line x1="80.80" y1="639.86" x2="82.60" y2="639.86" stroke="#2b2b2b" stroke-width="0.6" />
<line x1="80.80" y1="638.67" x2="82.60" y2="638.67" stroke="#2b2b2b" stroke-width="0.6" />
<line x1="80.80" y1="637.67" x2="82.60" y2="637.67" stroke="#2b2b2b" stroke-width="0.6" />
<line x1="80.80" y1="636.80" x2="82.60" y2="636.80" stroke="#2b2b2b" stroke-width="0.6" />
<line x1="80.80" y1="636.03" x2="82.60" y2="636.03" stroke="#2b2b2b" stroke-width="0.6" />
<line x1="79.10" y1="635.34" x2="82.60" y2="635.34" stroke="#2b2b2b" stroke-width="1.1" />
<text x="70.20" y="639.34" font-size="8.4" fill="#231f20" text-anchor="end" textLength="10.6" lengthAdjust="spacingAndGlyphs">10</text>
<text x="70.60" y="635.64" font-size="5.4" fill="#231f20" textLength="3.3" lengthAdjust="spacingAndGlyphs">7</text>
<line x1="80.80" y1="630.82" x2="82.60" y2="630.82" stroke="#2b2b2b" stroke-width="0.6" />
<line x1="80.80" y1="628.17" x2="82.60" y2="628.17" stroke="#2b2b2b" stroke-width="0.6" />
<line x1="80.80" y1="626.29" x2="82.60" y2="626.29" stroke="#2b2b2b" stroke-width="0.6" />
<line x1="80.80" y1="624.83" x2="82.60" y2="624.83" stroke="#2b2b2b" stroke-width="0.6" />
<line x1="80.80" y1="623.64" x2="82.60" y2="623.64" stroke="#2b2b2b" stroke-width="0.6" />
<line x1="80.80" y1="622.64" x2="82.60" y2="622.64" stroke="#2b2b2b" stroke-width="0.6" />
<line x1="80.80" y1="621.77" x2="82.60" y2="621.77" stroke="#2b2b2b" stroke-width="0.6" />
<line x1="80.80" y1="621.00" x2="82.60" y2="621.00" stroke="#2b2b2b" stroke-width="0.6" />
<line x1="79.10" y1="620.31" x2="82.60" y2="620.31" stroke="#2b2b2b" stroke-width="1.1" />
<text x="70.20" y="624.31" font-size="8.4" fill="#231f20" text-anchor="end" textLength="10.6" lengthAdjust="spacingAndGlyphs">10</text>
<text x="70.60" y="620.61" font-size="5.4" fill="#231f20" textLength="3.3" lengthAdjust="spacingAndGlyphs">8</text>
<line x1="80.80" y1="615.79" x2="82.60" y2="615.79" stroke="#2b2b2b" stroke-width="0.6" />
<line x1="80.80" y1="613.14" x2="82.60" y2="613.14" stroke="#2b2b2b" stroke-width="0.6" />
<line x1="80.80" y1="611.26" x2="82.60" y2="611.26" stroke="#2b2b2b" stroke-width="0.6" />
<line x1="80.80" y1="609.80" x2="82.60" y2="609.80" stroke="#2b2b2b" stroke-width="0.6" />
<line x1="80.80" y1="608.61" x2="82.60" y2="608.61" stroke="#2b2b2b" stroke-width="0.6" />
<line x1="80.80" y1="607.61" x2="82.60" y2="607.61" stroke="#2b2b2b" stroke-width="0.6" />
<line x1="80.80" y1="606.74" x2="82.60" y2="606.74" stroke="#2b2b2b" stroke-width="0.6" />
<line x1="80.80" y1="605.97" x2="82.60" y2="605.97" stroke="#2b2b2b" stroke-width="0.6" />
<line x1="79.10" y1="605.28" x2="82.60" y2="605.28" stroke="#2b2b2b" stroke-width="1.1" />
<text x="70.20" y="609.28" font-size="8.4" fill="#231f20" text-anchor="end" textLength="10.6" lengthAdjust="spacingAndGlyphs">10</text>
<text x="70.60" y="605.58" font-size="5.4" fill="#231f20" textLength="3.3" lengthAdjust="spacingAndGlyphs">9</text>
<line x1="80.80" y1="600.76" x2="82.60" y2="600.76" stroke="#2b2b2b" stroke-width="0.6" />
<line x1="80.80" y1="598.11" x2="82.60" y2="598.11" stroke="#2b2b2b" stroke-width="0.6" />
<line x1="80.80" y1="596.23" x2="82.60" y2="596.23" stroke="#2b2b2b" stroke-width="0.6" />
<line x1="80.80" y1="594.77" x2="82.60" y2="594.77" stroke="#2b2b2b" stroke-width="0.6" />
<line x1="80.80" y1="593.58" x2="82.60" y2="593.58" stroke="#2b2b2b" stroke-width="0.6" />
<line x1="80.80" y1="592.58" x2="82.60" y2="592.58" stroke="#2b2b2b" stroke-width="0.6" />
<line x1="80.80" y1="591.71" x2="82.60" y2="591.71" stroke="#2b2b2b" stroke-width="0.6" />
<line x1="80.80" y1="590.94" x2="82.60" y2="590.94" stroke="#2b2b2b" stroke-width="0.6" />
<line x1="79.10" y1="590.25" x2="82.60" y2="590.25" stroke="#2b2b2b" stroke-width="1.1" />
<text x="70.20" y="594.25" font-size="8.4" fill="#231f20" text-anchor="end" textLength="10.6" lengthAdjust="spacingAndGlyphs">10</text>
<text x="70.60" y="590.55" font-size="5.4" fill="#231f20" textLength="6.4" lengthAdjust="spacingAndGlyphs">10</text>
<line x1="80.80" y1="585.73" x2="82.60" y2="585.73" stroke="#2b2b2b" stroke-width="0.6" />
<line x1="80.80" y1="583.08" x2="82.60" y2="583.08" stroke="#2b2b2b" stroke-width="0.6" />
<line x1="80.80" y1="581.20" x2="82.60" y2="581.20" stroke="#2b2b2b" stroke-width="0.6" />
<line x1="80.80" y1="579.74" x2="82.60" y2="579.74" stroke="#2b2b2b" stroke-width="0.6" />
<line x1="80.80" y1="578.55" x2="82.60" y2="578.55" stroke="#2b2b2b" stroke-width="0.6" />
<line x1="80.80" y1="577.55" x2="82.60" y2="577.55" stroke="#2b2b2b" stroke-width="0.6" />
<line x1="80.80" y1="576.68" x2="82.60" y2="576.68" stroke="#2b2b2b" stroke-width="0.6" />
<line x1="80.80" y1="575.91" x2="82.60" y2="575.91" stroke="#2b2b2b" stroke-width="0.6" />
<line x1="79.10" y1="575.22" x2="82.60" y2="575.22" stroke="#2b2b2b" stroke-width="1.1" />
<text x="70.20" y="579.22" font-size="8.4" fill="#231f20" text-anchor="end" textLength="10.6" lengthAdjust="spacingAndGlyphs">10</text>
<text x="70.60" y="575.52" font-size="5.4" fill="#231f20" textLength="6.4" lengthAdjust="spacingAndGlyphs">11</text>
<line x1="80.80" y1="570.70" x2="82.60" y2="570.70" stroke="#2b2b2b" stroke-width="0.6" />
<line x1="80.80" y1="568.05" x2="82.60" y2="568.05" stroke="#2b2b2b" stroke-width="0.6" />
<line x1="80.80" y1="566.17" x2="82.60" y2="566.17" stroke="#2b2b2b" stroke-width="0.6" />
<line x1="80.80" y1="564.71" x2="82.60" y2="564.71" stroke="#2b2b2b" stroke-width="0.6" />
<line x1="80.80" y1="563.52" x2="82.60" y2="563.52" stroke="#2b2b2b" stroke-width="0.6" />
<line x1="80.80" y1="562.52" x2="82.60" y2="562.52" stroke="#2b2b2b" stroke-width="0.6" />
<line x1="80.80" y1="561.65" x2="82.60" y2="561.65" stroke="#2b2b2b" stroke-width="0.6" />
<line x1="80.80" y1="560.88" x2="82.60" y2="560.88" stroke="#2b2b2b" stroke-width="0.6" />
<line x1="79.10" y1="560.19" x2="82.60" y2="560.19" stroke="#2b2b2b" stroke-width="1.1" />
<text x="70.20" y="564.19" font-size="8.4" fill="#231f20" text-anchor="end" textLength="10.6" lengthAdjust="spacingAndGlyphs">10</text>
<text x="70.60" y="560.49" font-size="5.4" fill="#231f20" textLength="6.4" lengthAdjust="spacingAndGlyphs">12</text>
<line x1="80.80" y1="555.67" x2="82.60" y2="555.67" stroke="#2b2b2b" stroke-width="0.6" />
<line x1="80.80" y1="553.02" x2="82.60" y2="553.02" stroke="#2b2b2b" stroke-width="0.6" />
<line x1="80.80" y1="551.14" x2="82.60" y2="551.14" stroke="#2b2b2b" stroke-width="0.6" />
<line x1="80.80" y1="549.68" x2="82.60" y2="549.68" stroke="#2b2b2b" stroke-width="0.6" />
<line x1="80.80" y1="548.49" x2="82.60" y2="548.49" stroke="#2b2b2b" stroke-width="0.6" />
<line x1="80.80" y1="547.49" x2="82.60" y2="547.49" stroke="#2b2b2b" stroke-width="0.6" />
<line x1="80.80" y1="546.62" x2="82.60" y2="546.62" stroke="#2b2b2b" stroke-width="0.6" />
<line x1="80.80" y1="545.85" x2="82.60" y2="545.85" stroke="#2b2b2b" stroke-width="0.6" />
<line x1="79.10" y1="545.16" x2="82.60" y2="545.16" stroke="#2b2b2b" stroke-width="1.1" />
<text x="70.20" y="549.16" font-size="8.4" fill="#231f20" text-anchor="end" textLength="10.6" lengthAdjust="spacingAndGlyphs">10</text>
<text x="70.60" y="545.46" font-size="5.4" fill="#231f20" textLength="6.4" lengthAdjust="spacingAndGlyphs">13</text>
<text x="53.20" y="604.50" font-size="10.2" fill="#231f20" text-anchor="middle" textLength="75" lengthAdjust="spacingAndGlyphs" transform="rotate(-90 53.20 604.50)">Leukemic burden [BLI]</text>
<line x1="82.00" y1="666.40" x2="196.50" y2="666.40" stroke="#2b2b2b" stroke-width="1.3" />
<line x1="205.50" y1="666.40" x2="242.50" y2="666.40" stroke="#2b2b2b" stroke-width="1.3" />
<line x1="196.20" y1="669.50" x2="202.30" y2="663.00" stroke="#2b2b2b" stroke-width="1.0" />
<line x1="205.80" y1="669.50" x2="212.50" y2="663.00" stroke="#2b2b2b" stroke-width="1.0" />
<line x1="117.96" y1="666.40" x2="117.96" y2="669.50" stroke="#2b2b2b" stroke-width="1" />
<line x1="152.22" y1="666.40" x2="152.22" y2="669.50" stroke="#2b2b2b" stroke-width="1" />
<line x1="186.48" y1="666.40" x2="186.48" y2="669.50" stroke="#2b2b2b" stroke-width="1" />
<line x1="216.80" y1="666.40" x2="216.80" y2="669.50" stroke="#2b2b2b" stroke-width="1" />
<line x1="235.40" y1="666.40" x2="235.40" y2="669.50" stroke="#2b2b2b" stroke-width="1" />
<text x="83.70" y="680.30" font-size="8.4" fill="#231f20" text-anchor="middle">0</text>
<text x="117.96" y="680.30" font-size="8.4" fill="#231f20" text-anchor="middle">15</text>
<text x="152.22" y="680.30" font-size="8.4" fill="#231f20" text-anchor="middle">30</text>
<text x="186.48" y="680.30" font-size="8.4" fill="#231f20" text-anchor="middle">45</text>
<text x="216.80" y="680.30" font-size="8.4" fill="#231f20" text-anchor="middle">60</text>
<text x="235.40" y="680.30" font-size="8.4" fill="#231f20" text-anchor="middle">90</text>
<text x="112.70" y="693.30" font-size="10.4" fill="#231f20" textLength="94.5" lengthAdjust="spacingAndGlyphs">Time [days post injection]</text>
<line x1="82.60" y1="654.40" x2="241.00" y2="654.40" stroke="#222" stroke-width="1" stroke-dasharray="3 2"/>
<line x1="96.00" y1="552.20" x2="107.50" y2="552.20" stroke="#c81422" stroke-width="0.9" />
<polygon points="96.0,552.2 98.4,552.2 97.2,554.6" fill="#c81422" />
<polygon points="98.3,552.2 100.7,552.2 99.5,554.6" fill="#c81422" />
<polygon points="100.5,552.2 103.0,552.2 101.8,554.6" fill="#c81422" />
<polygon points="102.8,552.2 105.2,552.2 104.0,554.6" fill="#c81422" />
<polygon points="105.1,552.2 107.5,552.2 106.3,554.6" fill="#c81422" />
<line x1="112.30" y1="552.20" x2="123.50" y2="552.20" stroke="#c81422" stroke-width="0.9" />
<polygon points="112.3,552.2 114.7,552.2 113.5,554.6" fill="#c81422" />
<polygon points="114.5,552.2 116.9,552.2 115.7,554.6" fill="#c81422" />
<polygon points="116.7,552.2 119.1,552.2 117.9,554.6" fill="#c81422" />
<polygon points="118.9,552.2 121.3,552.2 120.1,554.6" fill="#c81422" />
<polygon points="121.1,552.2 123.5,552.2 122.3,554.6" fill="#c81422" />
<line x1="128.60" y1="552.20" x2="140.00" y2="552.20" stroke="#c81422" stroke-width="0.9" />
<polygon points="128.6,552.2 131.0,552.2 129.8,554.6" fill="#c81422" />
<polygon points="130.8,552.2 133.2,552.2 132.0,554.6" fill="#c81422" />
<polygon points="133.1,552.2 135.5,552.2 134.3,554.6" fill="#c81422" />
<polygon points="135.3,552.2 137.7,552.2 136.5,554.6" fill="#c81422" />
<polygon points="137.6,552.2 140.0,552.2 138.8,554.6" fill="#c81422" />
<polygon points="103.9,546.8 108.1,546.8 106.0,550.8" fill="#23236e" />
<polygon points="120.2,546.8 124.4,546.8 122.3,550.8" fill="#23236e" />
<polygon points="136.7,546.8 140.9,546.8 138.8,550.8" fill="#23236e" />
<polyline points="97.7,611.0 113.3,617.5 119.8,643.5 129.5,652.3 136.7,653.0 145.6,653.0 152.9,653.0 161.8,655.5 177.9,654.2" fill="none" stroke="#2a9d52" stroke-width="1.2" />
<circle cx="97.70" cy="611.00" r="2.4" fill="#1f9a48" />
<circle cx="113.30" cy="617.50" r="2.4" fill="#1f9a48" />
<circle cx="119.80" cy="643.50" r="2.4" fill="#1f9a48" />
<circle cx="129.50" cy="652.30" r="2.4" fill="#1f9a48" />
<circle cx="136.70" cy="653.00" r="2.4" fill="#1f9a48" />
<circle cx="145.60" cy="653.00" r="2.4" fill="#1f9a48" />
<circle cx="152.90" cy="653.00" r="2.4" fill="#1f9a48" />
<circle cx="161.80" cy="655.50" r="2.4" fill="#1f9a48" />
<circle cx="177.90" cy="654.20" r="2.4" fill="#1f9a48" />
<polyline points="97.7,614.8 113.3,618.3 119.8,641.0 129.5,651.7 136.7,651.7 145.6,653.5 152.9,652.5 161.8,654.8 177.9,653.8 193.8,654.5" fill="none" stroke="#2a9d52" stroke-width="1.2" />
<circle cx="97.70" cy="614.80" r="2.4" fill="#1f9a48" />
<circle cx="113.30" cy="618.30" r="2.4" fill="#1f9a48" />
<circle cx="119.80" cy="641.00" r="2.4" fill="#1f9a48" />
<circle cx="129.50" cy="651.70" r="2.4" fill="#1f9a48" />
<circle cx="136.70" cy="651.70" r="2.4" fill="#1f9a48" />
<circle cx="145.60" cy="653.50" r="2.4" fill="#1f9a48" />
<circle cx="152.90" cy="652.50" r="2.4" fill="#1f9a48" />
<circle cx="161.80" cy="654.80" r="2.4" fill="#1f9a48" />
<circle cx="177.90" cy="653.80" r="2.4" fill="#1f9a48" />
<circle cx="193.80" cy="654.50" r="2.4" fill="#1f9a48" />
<polyline points="97.7,612.0 113.3,616.7 119.8,643.1 129.5,649.8 136.7,652.5 145.6,652.5 152.9,651.7 161.8,653.8 177.9,652.3 193.8,654.2" fill="none" stroke="#2a9d52" stroke-width="1.2" />
<circle cx="97.70" cy="612.00" r="2.4" fill="#1f9a48" />
<circle cx="113.30" cy="616.70" r="2.4" fill="#1f9a48" />
<circle cx="119.80" cy="643.10" r="2.4" fill="#1f9a48" />
<circle cx="129.50" cy="649.80" r="2.4" fill="#1f9a48" />
<circle cx="136.70" cy="652.50" r="2.4" fill="#1f9a48" />
<circle cx="145.60" cy="652.50" r="2.4" fill="#1f9a48" />
<circle cx="152.90" cy="651.70" r="2.4" fill="#1f9a48" />
<circle cx="161.80" cy="653.80" r="2.4" fill="#1f9a48" />
<circle cx="177.90" cy="652.30" r="2.4" fill="#1f9a48" />
<circle cx="193.80" cy="654.20" r="2.4" fill="#1f9a48" />
<polyline points="97.7,609.4 113.3,606.7 119.8,637.2 129.5,643.1 136.7,649.8 145.6,652.5 152.9,651.7 161.8,656.0 177.9,621.5 193.8,613.0" fill="none" stroke="#2a9d52" stroke-width="1.2" />
<circle cx="97.70" cy="609.40" r="2.4" fill="#1f9a48" />
<circle cx="113.30" cy="606.70" r="2.4" fill="#1f9a48" />
<circle cx="119.80" cy="637.20" r="2.4" fill="#1f9a48" />
<circle cx="129.50" cy="643.10" r="2.4" fill="#1f9a48" />
<circle cx="136.70" cy="649.80" r="2.4" fill="#1f9a48" />
<circle cx="145.60" cy="652.50" r="2.4" fill="#1f9a48" />
<circle cx="152.90" cy="651.70" r="2.4" fill="#1f9a48" />
<circle cx="161.80" cy="656.00" r="2.4" fill="#1f9a48" />
<circle cx="177.90" cy="621.50" r="2.4" fill="#1f9a48" />
<circle cx="193.80" cy="613.00" r="2.4" fill="#1f9a48" />
<polyline points="217.3,654.2 235.6,653.8" fill="none" stroke="#2a9d52" stroke-width="1.2" />
<circle cx="217.30" cy="654.20" r="2.4" fill="#1f9a48" />
<circle cx="235.60" cy="653.80" r="2.4" fill="#1f9a48" />
<polyline points="97.8,612.5 112.9,597.1 119.6,600.6 129.1,599.7 136.0,590.2 144.9,585.3 152.6,575.5 161.1,572.4" fill="none" stroke="#2b2a84" stroke-width="1.2" />
<line x1="119.60" y1="600.60" x2="119.60" y2="596.40" stroke="#2b2a84" stroke-width="0.8" />
<line x1="118.20" y1="596.40" x2="121.00" y2="596.40" stroke="#2b2a84" stroke-width="0.8" />
<line x1="136.00" y1="590.20" x2="136.00" y2="586.60" stroke="#2b2a84" stroke-width="0.8" />
<line x1="134.60" y1="586.60" x2="137.40" y2="586.60" stroke="#2b2a84" stroke-width="0.8" />
<line x1="144.90" y1="585.30" x2="144.90" y2="581.20" stroke="#2b2a84" stroke-width="0.8" />
<line x1="143.50" y1="581.20" x2="146.30" y2="581.20" stroke="#2b2a84" stroke-width="0.8" />
<line x1="152.60" y1="575.50" x2="152.60" y2="570.10" stroke="#2b2a84" stroke-width="0.8" />
<line x1="151.20" y1="570.10" x2="154.00" y2="570.10" stroke="#2b2a84" stroke-width="0.8" />
<line x1="161.10" y1="572.40" x2="161.10" y2="569.00" stroke="#2b2a84" stroke-width="0.8" />
<line x1="159.70" y1="569.00" x2="162.50" y2="569.00" stroke="#2b2a84" stroke-width="0.8" />
<circle cx="97.80" cy="612.50" r="2.4" fill="#2b2a84" />
<circle cx="112.90" cy="597.10" r="2.4" fill="#2b2a84" />
<circle cx="119.60" cy="600.60" r="2.4" fill="#2b2a84" />
<circle cx="129.10" cy="599.70" r="2.4" fill="#2b2a84" />
<circle cx="136.00" cy="590.20" r="2.4" fill="#2b2a84" />
<circle cx="144.90" cy="585.30" r="2.4" fill="#2b2a84" />
<circle cx="152.60" cy="575.50" r="2.4" fill="#2b2a84" />
<circle cx="161.10" cy="572.40" r="2.4" fill="#2b2a84" />
<line x1="97.80" y1="616.20" x2="97.80" y2="620.00" stroke="#c4121c" stroke-width="1" />
<line x1="96.30" y1="620.00" x2="99.30" y2="620.00" stroke="#c4121c" stroke-width="1" />
<line x1="113.20" y1="584.80" x2="113.20" y2="592.00" stroke="#c4121c" stroke-width="0.8" />
<line x1="111.90" y1="592.00" x2="114.50" y2="592.00" stroke="#c4121c" stroke-width="0.8" />
<polyline points="97.8,616.2 113.2,584.8 120.0,581.4 129.2,571.5" fill="none" stroke="#c4121c" stroke-width="1.2" />
<polyline points="97.8,614.0 113.2,584.8" fill="none" stroke="#c4121c" stroke-width="0.8" />
<circle cx="97.80" cy="616.20" r="2.4" fill="#c4121c" />
<circle cx="113.20" cy="584.80" r="2.4" fill="#c4121c" />
<circle cx="120.00" cy="581.40" r="2.4" fill="#c4121c" />
<circle cx="129.20" cy="571.50" r="2.4" fill="#c4121c" />
<polyline points="97.8,611.5 113.2,575.2 120.0,570.3" fill="none" stroke="#8a8a8a" stroke-width="1.2" />
<polyline points="97.8,613.0 113.2,577.0" fill="none" stroke="#8a8a8a" stroke-width="0.8" />
<rect x="95.50" y="609.20" width="4.60" height="4.60" fill="#8a8a8a" />
<rect x="110.90" y="572.90" width="4.60" height="4.60" fill="#8a8a8a" />
<rect x="117.70" y="568.00" width="4.60" height="4.60" fill="#8a8a8a" />
<line x1="242.00" y1="608.00" x2="255.00" y2="608.00" stroke="#8a8a8a" stroke-width="1" />
<rect x="246.30" y="605.80" width="4.40" height="4.40" fill="#8a8a8a" />
<text x="258.80" y="611.00" font-size="8.6" fill="#231f20" textLength="14.5" lengthAdjust="spacingAndGlyphs">PBS</text>
<line x1="242.00" y1="620.30" x2="255.00" y2="620.30" stroke="#2b2a84" stroke-width="1" />
<circle cx="248.50" cy="620.30" r="2.4" fill="#2b2a84" />
<text x="258.80" y="623.30" font-size="8.6" fill="#231f20" textLength="73.8" lengthAdjust="spacingAndGlyphs">20D9-ADC 1 mg/kg</text>
<line x1="242.00" y1="632.40" x2="255.00" y2="632.40" stroke="#c4121c" stroke-width="1" />
<circle cx="248.50" cy="632.40" r="2.4" fill="#c4121c" />
<text x="258.80" y="635.40" font-size="8.6" fill="#231f20" textLength="82.5" lengthAdjust="spacingAndGlyphs">Midostaurin 50 mg/kg</text>
<line x1="242.00" y1="644.50" x2="255.00" y2="644.50" stroke="#1f9a48" stroke-width="1" />
<circle cx="248.50" cy="644.50" r="2.4" fill="#1f9a48" />
<text x="258.80" y="647.50" font-size="8.6" fill="#231f20" textLength="95" lengthAdjust="spacingAndGlyphs">20D9-ADC + Midostaurin</text>
<text x="403.30" y="505.00" font-size="8.8" fill="#333" text-anchor="middle">d6</text>
<text x="453.10" y="505.00" font-size="8.8" fill="#333" text-anchor="middle">d16</text>
<text x="377.30" y="536.50" font-size="8.8" fill="#333" text-anchor="middle" textLength="14.5" lengthAdjust="spacingAndGlyphs" transform="rotate(-90 377.30 536.50)">PBS</text>
<text x="377.30" y="590.00" font-size="8.8" fill="#333" text-anchor="middle" textLength="45" lengthAdjust="spacingAndGlyphs" transform="rotate(-90 377.30 590.00)">Midostaurin</text>
<text x="377.30" y="643.50" font-size="8.8" fill="#333" text-anchor="middle" textLength="39" lengthAdjust="spacingAndGlyphs" transform="rotate(-90 377.30 643.50)">20D9-ADC</text>
<text x="369.50" y="696.50" font-size="8.8" fill="#333" text-anchor="middle" textLength="52" lengthAdjust="spacingAndGlyphs" transform="rotate(-90 369.50 696.50)">Midostaurin +</text>
<text x="377.60" y="697.00" font-size="8.8" fill="#333" text-anchor="middle" textLength="39" lengthAdjust="spacingAndGlyphs" transform="rotate(-90 377.60 697.00)">20D9-ADC</text>
<rect x="382.5" y="515.8" width="41.7" height="42" fill="#0a0a0a"/>
<g transform="translate(382.50,515.80)" clip-path="url(#mclip)">
<path d="M21,6.5 C23,6.5 24.2,8 24.2,10 L25.2,12.5 C26.5,15 27,19 26.8,24 L27.5,26.5 L30,29 L36,31.8 L35.8,32.8 L30,31.6 L26,34 L22.5,37.5 L21.5,41 L20.5,41 L19.5,37.5 L16,34 L12,31.6 L6.2,32.8 L6,31.8 L12,29 L14.5,26.5 L15.2,24 C15,19 15.5,15 16.8,12.5 L17.8,10 C17.8,8 19,6.5 21,6.5Z" fill="#3a20a0" filter="url(#bl1)"/>
<path d="M21,8.5 C22.3,8.5 23,9.5 23,11 L24,13 C25.2,15.5 25.5,19 25.3,24 L26,27 L28.5,29.8 L25.5,31.5 L22,35.5 L21,38 L20,35.5 L16.5,31.5 L13.5,29.8 L16,27 L16.7,24 C16.5,19 16.8,15.5 18,13 L19,11 C19,9.5 19.7,8.5 21,8.5Z" fill="#40a8e8" filter="url(#bl1)"/>
<ellipse cx="21" cy="18.5" rx="3.6" ry="5.5" fill="#70d4f0" filter="url(#bl1)"/>
<ellipse cx="21" cy="9.5" rx="2.2" ry="2" fill="#6a40d0" filter="url(#bl1)"/>
<rect x="16.5" y="25.6" width="9" height="2" fill="#2a30b0" filter="url(#bl1)"/>
<ellipse cx="15.8" cy="29.8" rx="2.8" ry="2.2" fill="#50c868" filter="url(#bl1)"/>
<ellipse cx="26.2" cy="29.8" rx="2.8" ry="2.2" fill="#50c868" filter="url(#bl1)"/>
</g>
<rect x="431.3" y="515.8" width="41.7" height="42" fill="#3a86b0"/>
<rect x="431.3" y="515.8" width="41.7" height="42" filter="url(#nzA)"/>
<g transform="translate(431.30,515.80)" clip-path="url(#mclip)">
<path d="M21,7 C24,7 25.5,12 26.5,17 C27.5,22 28.5,26 30,29 L33.5,33 L27,33.5 L23,37 L21,39.5 L19,37 L15,33.5 L8.5,33 L12,29 C13.5,26 14.5,22 15.5,17 C16.5,12 18,7 21,7Z" fill="#50b8a0" transform="translate(-6.3,-5) scale(1.3)" filter="url(#bl2)"/>
<path d="M21,7 C24,7 25.5,12 26.5,17 C27.5,22 28.5,26 30,29 L33.5,33 L27,33.5 L23,37 L21,39.5 L19,37 L15,33.5 L8.5,33 L12,29 C13.5,26 14.5,22 15.5,17 C16.5,12 18,7 21,7Z" fill="#70c848" transform="translate(-1,-0.8) scale(1.05)" filter="url(#bl1)"/>
<path d="M21,9 C23.5,9 24.8,13 25.8,18 C26.6,22 27.5,26 29,29 L31,32 L26,32.5 L22.5,35.5 L21,38 L19.5,35.5 L16,32.5 L11,32 L13,29 C14.5,26 15.4,22 16.2,18 C17.2,13 18.5,9 21,9Z" fill="#f0d028" filter="url(#bl1)"/>
<ellipse cx="21" cy="21" rx="2.6" ry="5.5" fill="#f09a22" filter="url(#bl1)"/>
<path d="M12.5,31.8 L16,27.5 L19.5,31 L16.5,33 Z" fill="#e02a14" filter="url(#bl1)"/>
<path d="M29.5,31.8 L26,27.5 L22.5,31 L25.5,33 Z" fill="#e02a14" filter="url(#bl1)"/>
<ellipse cx="21" cy="35" rx="2" ry="2.2" fill="#f4e020" filter="url(#bl1)"/>
</g>
<rect x="382.5" y="569.2" width="41.7" height="42" fill="#0a0a0a"/>
<g transform="translate(382.50,569.20)" clip-path="url(#mclip)">
<path d="M21,6.5 C23,6.5 24.2,8 24.2,10 L25.2,12.5 C26.5,15 27,19 26.8,24 L27.5,26.5 L30,29 L36,31.8 L35.8,32.8 L30,31.6 L26,34 L22.5,37.5 L21.5,41 L20.5,41 L19.5,37.5 L16,34 L12,31.6 L6.2,32.8 L6,31.8 L12,29 L14.5,26.5 L15.2,24 C15,19 15.5,15 16.8,12.5 L17.8,10 C17.8,8 19,6.5 21,6.5Z" fill="#3a20a0" filter="url(#bl1)"/>
<path d="M21,8.5 C22.3,8.5 23,9.5 23,11 L24,13 C25.2,15.5 25.5,19 25.3,24 L26,27 L28.5,29.8 L25.5,31.5 L22,35.5 L21,38 L20,35.5 L16.5,31.5 L13.5,29.8 L16,27 L16.7,24 C16.5,19 16.8,15.5 18,13 L19,11 C19,9.5 19.7,8.5 21,8.5Z" fill="#3c68d0" filter="url(#bl1)"/>
<ellipse cx="21" cy="9.5" rx="2.4" ry="2.2" fill="#7040d0" filter="url(#bl1)"/>
<ellipse cx="21" cy="18" rx="3.4" ry="4.6" fill="#60c4f0" filter="url(#bl1)"/>
<ellipse cx="16" cy="30" rx="2.6" ry="2" fill="#58b8f0" filter="url(#bl1)"/>
<ellipse cx="26" cy="30" rx="2.4" ry="2" fill="#40c070" filter="url(#bl1)"/>
</g>
<rect x="431.3" y="569.2" width="41.7" height="42" fill="#2848a8"/>
<rect x="431.3" y="569.2" width="41.7" height="42" filter="url(#nzB)"/>
<g transform="translate(431.30,569.20)" clip-path="url(#mclip)">
<path d="M21,7 C24,7 25.5,12 26.5,17 C27.5,22 28.5,26 30,29 L33.5,33 L27,33.5 L23,37 L21,39.5 L19,37 L15,33.5 L8.5,33 L12,29 C13.5,26 14.5,22 15.5,17 C16.5,12 18,7 21,7Z" fill="#38a8d8" transform="translate(-4.2,-4) scale(1.2)" filter="url(#bl2)"/>
<path d="M21,7 C24,7 25.5,12 26.5,17 C27.5,22 28.5,26 30,29 L33.5,33 L27,33.5 L23,37 L21,39.5 L19,37 L15,33.5 L8.5,33 L12,29 C13.5,26 14.5,22 15.5,17 C16.5,12 18,7 21,7Z" fill="#50c060" filter="url(#bl1)"/>
<path d="M21,9 C23.5,9 24.8,13 25.8,18 C26.6,22 27.5,26 29,29 L31,32 L26,32.5 L22.5,35.5 L21,38 L19.5,35.5 L16,32.5 L11,32 L13,29 C14.5,26 15.4,22 16.2,18 C17.2,13 18.5,9 21,9Z" fill="#80cc30" filter="url(#bl1)"/>
<ellipse cx="21.5" cy="16.5" rx="2.8" ry="5" fill="#d8d830" filter="url(#bl1)"/>
<ellipse cx="16.6" cy="30.8" rx="2.8" ry="2.2" fill="#f0a020" filter="url(#bl1)"/>
<ellipse cx="27.2" cy="30.8" rx="2.8" ry="2.2" fill="#f0a020" filter="url(#bl1)"/>
<circle cx="16.6" cy="30.8" r="1.3" fill="#e02818"/>
<circle cx="27.2" cy="30.8" r="1.3" fill="#e02818"/>
</g>
<rect x="382.5" y="622.7" width="41.7" height="42" fill="#0a0a0a"/>
<g transform="translate(382.50,622.70)" clip-path="url(#mclip)">
<path d="M21,6.5 C23,6.5 24.2,8 24.2,10 L25.2,12.5 C26.5,15 27,19 26.8,24 L27.5,26.5 L30,29 L36,31.8 L35.8,32.8 L30,31.6 L26,34 L22.5,37.5 L21.5,41 L20.5,41 L19.5,37.5 L16,34 L12,31.6 L6.2,32.8 L6,31.8 L12,29 L14.5,26.5 L15.2,24 C15,19 15.5,15 16.8,12.5 L17.8,10 C17.8,8 19,6.5 21,6.5Z" fill="#3a20a0" filter="url(#bl1)"/>
<path d="M21,8.5 C22.3,8.5 23,9.5 23,11 L24,13 C25.2,15.5 25.5,19 25.3,24 L26,27 L28.5,29.8 L25.5,31.5 L22,35.5 L21,38 L20,35.5 L16.5,31.5 L13.5,29.8 L16,27 L16.7,24 C16.5,19 16.8,15.5 18,13 L19,11 C19,9.5 19.7,8.5 21,8.5Z" fill="#38a0e0" filter="url(#bl1)"/>
<ellipse cx="21" cy="16.5" rx="3.4" ry="5" fill="#5cccd8" filter="url(#bl1)"/>
<ellipse cx="21" cy="19" rx="2" ry="2" fill="#58c070" filter="url(#bl1)"/>
<rect x="16.2" y="24" width="9.6" height="2.4" fill="#2830b0" filter="url(#bl1)"/>
<ellipse cx="15.8" cy="29.8" rx="3" ry="2.3" fill="#50c058" filter="url(#bl1)"/>
<ellipse cx="26.2" cy="29.8" rx="3" ry="2.3" fill="#50c058" filter="url(#bl1)"/>
</g>
<rect x="431.3" y="622.7" width="41.7" height="42" fill="#0a0a0a"/>
<g transform="translate(431.30,622.70)" clip-path="url(#mclip)">
<path d="M21,6.5 C23,6.5 24.2,8 24.2,10 L25.2,12.5 C26.5,15 27,19 26.8,24 L27.5,26.5 L30,29 L36,31.8 L35.8,32.8 L30,31.6 L26,34 L22.5,37.5 L21.5,41 L20.5,41 L19.5,37.5 L16,34 L12,31.6 L6.2,32.8 L6,31.8 L12,29 L14.5,26.5 L15.2,24 C15,19 15.5,15 16.8,12.5 L17.8,10 C17.8,8 19,6.5 21,6.5Z" fill="#3a20a0" filter="url(#bl1)"/>
<path d="M21,8.5 C22.3,8.5 23,9.5 23,11 L24,13 C25.2,15.5 25.5,19 25.3,24 L26,27 L28.5,29.8 L25.5,31.5 L22,35.5 L21,38 L20,35.5 L16.5,31.5 L13.5,29.8 L16,27 L16.7,24 C16.5,19 16.8,15.5 18,13 L19,11 C19,9.5 19.7,8.5 21,8.5Z" fill="#3478d8" filter="url(#bl1)"/>
<ellipse cx="21" cy="16.5" rx="3.4" ry="5" fill="#5cccd8" filter="url(#bl1)"/>
<ellipse cx="21" cy="19" rx="2" ry="2" fill="#58c070" filter="url(#bl1)"/>
<rect x="16.2" y="24" width="9.6" height="2.4" fill="#2830b0" filter="url(#bl1)"/>
<ellipse cx="15.8" cy="29.8" rx="3" ry="2.3" fill="#50c058" filter="url(#bl1)"/>
<ellipse cx="26.2" cy="29.8" rx="3" ry="2.3" fill="#50c058" filter="url(#bl1)"/>
<ellipse cx="21" cy="27" rx="2.6" ry="1.8" fill="#90d8f0" filter="url(#bl1)"/>
</g>
<rect x="382.5" y="676.8" width="41.7" height="42" fill="#0a0a0a"/>
<g transform="translate(382.50,676.80)" clip-path="url(#mclip)">
<path d="M21,6.5 C23,6.5 24.2,8 24.2,10 L25.2,12.5 C26.5,15 27,19 26.8,24 L27.5,26.5 L30,29 L36,31.8 L35.8,32.8 L30,31.6 L26,34 L22.5,37.5 L21.5,41 L20.5,41 L19.5,37.5 L16,34 L12,31.6 L6.2,32.8 L6,31.8 L12,29 L14.5,26.5 L15.2,24 C15,19 15.5,15 16.8,12.5 L17.8,10 C17.8,8 19,6.5 21,6.5Z" fill="#3a20a0" filter="url(#bl1)"/>
<path d="M21,8.5 C22.3,8.5 23,9.5 23,11 L24,13 C25.2,15.5 25.5,19 25.3,24 L26,27 L28.5,29.8 L25.5,31.5 L22,35.5 L21,38 L20,35.5 L16.5,31.5 L13.5,29.8 L16,27 L16.7,24 C16.5,19 16.8,15.5 18,13 L19,11 C19,9.5 19.7,8.5 21,8.5Z" fill="#38a0e0" filter="url(#bl1)"/>
<ellipse cx="21" cy="16.5" rx="3.4" ry="5" fill="#5cccd8" filter="url(#bl1)"/>
<ellipse cx="21" cy="19" rx="2" ry="2" fill="#58c070" filter="url(#bl1)"/>
<rect x="16.2" y="24" width="9.6" height="2.4" fill="#2830b0" filter="url(#bl1)"/>
<ellipse cx="15.8" cy="29.8" rx="3" ry="2.3" fill="#50c058" filter="url(#bl1)"/>
<ellipse cx="26.2" cy="29.8" rx="3" ry="2.3" fill="#50c058" filter="url(#bl1)"/>
</g>
<rect x="431.3" y="676.8" width="41.7" height="42" fill="#0a0a0a"/>
<g transform="translate(431.30,676.80)" clip-path="url(#mclip)">
<path d="M21,4.5 C23,4.5 24.5,6.5 24.5,9 L26,12 C28,16 28.5,22 28,28 L30,31.5 L35,34 L34.5,35 L29,34 L25,36.5 L22,38.5 L21.5,41.5 L20.5,41.5 L20,38.5 L17,36.5 L13,34 L7.5,35 L7,34 L12,31.5 L14,28 C13.5,22 14,16 16,12 L17.5,9 C17.5,6.5 19,4.5 21,4.5Z" fill="#a8a8a8" filter="url(#bl1)"/>
<ellipse cx="21" cy="22" rx="5.2" ry="12" fill="#e4e4e4" filter="url(#bl1)"/>
<ellipse cx="21" cy="10" rx="2.5" ry="3.5" fill="#d0d0d0" filter="url(#bl1)"/>
<ellipse cx="15" cy="32.5" rx="3" ry="1.6" fill="#5a40c0" filter="url(#bl1)"/>
<ellipse cx="27" cy="32.5" rx="3" ry="1.6" fill="#5a40c0" filter="url(#bl1)"/>
</g>
<rect x="485.9" y="516" width="3.8" height="126" fill="url(#cbar)"/>
<text x="485.20" y="511.50" font-size="4.6" fill="#333" textLength="29.5" lengthAdjust="spacingAndGlyphs">Luminescence</text>
<line x1="489.60" y1="516.40" x2="491.40" y2="516.40" stroke="#111" stroke-width="0.8" />
<text x="491.80" y="518.00" font-size="4.4" fill="#555">2</text>
<line x1="489.60" y1="524.00" x2="491.80" y2="524.00" stroke="#111" stroke-width="0.9" />
<text x="492.60" y="523.40" font-size="4.4" fill="#555">10⁷</text>
<line x1="489.60" y1="526.50" x2="491.00" y2="526.50" stroke="#111" stroke-width="0.7" />
<text x="491.80" y="528.00" font-size="4.4" fill="#555">8</text>
<line x1="489.60" y1="531.77" x2="491.00" y2="531.77" stroke="#111" stroke-width="0.7" />
<text x="491.80" y="533.27" font-size="4.4" fill="#555">5</text>
<line x1="489.60" y1="537.49" x2="491.00" y2="537.49" stroke="#111" stroke-width="0.7" />
<text x="491.80" y="538.99" font-size="4.4" fill="#555">3</text>
<line x1="489.60" y1="542.03" x2="491.00" y2="542.03" stroke="#111" stroke-width="0.7" />
<text x="491.80" y="543.53" font-size="4.4" fill="#555">2</text>
<line x1="489.60" y1="525.18" x2="490.60" y2="525.18" stroke="#111" stroke-width="0.5" />
<line x1="489.60" y1="528.00" x2="490.60" y2="528.00" stroke="#111" stroke-width="0.5" />
<line x1="489.60" y1="529.72" x2="490.60" y2="529.72" stroke="#111" stroke-width="0.5" />
<line x1="489.60" y1="534.27" x2="490.60" y2="534.27" stroke="#111" stroke-width="0.5" />
<line x1="489.60" y1="549.80" x2="491.80" y2="549.80" stroke="#111" stroke-width="0.9" />
<text x="492.60" y="549.20" font-size="4.4" fill="#555">10⁶</text>
<line x1="489.60" y1="552.30" x2="491.00" y2="552.30" stroke="#111" stroke-width="0.7" />
<text x="491.80" y="553.80" font-size="4.4" fill="#555">8</text>
<line x1="489.60" y1="557.57" x2="491.00" y2="557.57" stroke="#111" stroke-width="0.7" />
<text x="491.80" y="559.07" font-size="4.4" fill="#555">5</text>
<line x1="489.60" y1="563.29" x2="491.00" y2="563.29" stroke="#111" stroke-width="0.7" />
<text x="491.80" y="564.79" font-size="4.4" fill="#555">3</text>
<line x1="489.60" y1="567.83" x2="491.00" y2="567.83" stroke="#111" stroke-width="0.7" />
<text x="491.80" y="569.33" font-size="4.4" fill="#555">2</text>
<line x1="489.60" y1="550.98" x2="490.60" y2="550.98" stroke="#111" stroke-width="0.5" />
<line x1="489.60" y1="553.80" x2="490.60" y2="553.80" stroke="#111" stroke-width="0.5" />
<line x1="489.60" y1="555.52" x2="490.60" y2="555.52" stroke="#111" stroke-width="0.5" />
<line x1="489.60" y1="560.07" x2="490.60" y2="560.07" stroke="#111" stroke-width="0.5" />
<line x1="489.60" y1="575.60" x2="491.80" y2="575.60" stroke="#111" stroke-width="0.9" />
<text x="492.60" y="575.00" font-size="4.4" fill="#555">10⁵</text>
<line x1="489.60" y1="578.10" x2="491.00" y2="578.10" stroke="#111" stroke-width="0.7" />
<text x="491.80" y="579.60" font-size="4.4" fill="#555">8</text>
<line x1="489.60" y1="583.37" x2="491.00" y2="583.37" stroke="#111" stroke-width="0.7" />
<text x="491.80" y="584.87" font-size="4.4" fill="#555">5</text>
<line x1="489.60" y1="589.09" x2="491.00" y2="589.09" stroke="#111" stroke-width="0.7" />
<text x="491.80" y="590.59" font-size="4.4" fill="#555">3</text>
<line x1="489.60" y1="593.63" x2="491.00" y2="593.63" stroke="#111" stroke-width="0.7" />
<text x="491.80" y="595.13" font-size="4.4" fill="#555">2</text>
<line x1="489.60" y1="576.78" x2="490.60" y2="576.78" stroke="#111" stroke-width="0.5" />
<line x1="489.60" y1="579.60" x2="490.60" y2="579.60" stroke="#111" stroke-width="0.5" />
<line x1="489.60" y1="581.32" x2="490.60" y2="581.32" stroke="#111" stroke-width="0.5" />
<line x1="489.60" y1="585.87" x2="490.60" y2="585.87" stroke="#111" stroke-width="0.5" />
<line x1="489.60" y1="601.40" x2="491.80" y2="601.40" stroke="#111" stroke-width="0.9" />
<text x="492.60" y="600.80" font-size="4.4" fill="#555">10⁴</text>
<line x1="489.60" y1="603.90" x2="491.00" y2="603.90" stroke="#111" stroke-width="0.7" />
<text x="491.80" y="605.40" font-size="4.4" fill="#555">8</text>
<line x1="489.60" y1="609.17" x2="491.00" y2="609.17" stroke="#111" stroke-width="0.7" />
<text x="491.80" y="610.67" font-size="4.4" fill="#555">5</text>
<line x1="489.60" y1="614.89" x2="491.00" y2="614.89" stroke="#111" stroke-width="0.7" />
<text x="491.80" y="616.39" font-size="4.4" fill="#555">3</text>
<line x1="489.60" y1="619.43" x2="491.00" y2="619.43" stroke="#111" stroke-width="0.7" />
<text x="491.80" y="620.93" font-size="4.4" fill="#555">2</text>
<line x1="489.60" y1="602.58" x2="490.60" y2="602.58" stroke="#111" stroke-width="0.5" />
<line x1="489.60" y1="605.40" x2="490.60" y2="605.40" stroke="#111" stroke-width="0.5" />
<line x1="489.60" y1="607.12" x2="490.60" y2="607.12" stroke="#111" stroke-width="0.5" />
<line x1="489.60" y1="611.67" x2="490.60" y2="611.67" stroke="#111" stroke-width="0.5" />
<line x1="489.60" y1="627.20" x2="491.80" y2="627.20" stroke="#111" stroke-width="0.9" />
<text x="492.60" y="626.60" font-size="4.4" fill="#555">10³</text>
<line x1="489.60" y1="629.70" x2="491.00" y2="629.70" stroke="#111" stroke-width="0.7" />
<text x="491.80" y="631.20" font-size="4.4" fill="#555">8</text>
<line x1="489.60" y1="634.97" x2="491.00" y2="634.97" stroke="#111" stroke-width="0.7" />
<text x="491.80" y="636.47" font-size="4.4" fill="#555">5</text>
<line x1="489.60" y1="640.69" x2="491.00" y2="640.69" stroke="#111" stroke-width="0.7" />
<text x="491.80" y="642.19" font-size="4.4" fill="#555">3</text>
<line x1="489.60" y1="628.38" x2="490.60" y2="628.38" stroke="#111" stroke-width="0.5" />
<line x1="489.60" y1="631.20" x2="490.60" y2="631.20" stroke="#111" stroke-width="0.5" />
<line x1="489.60" y1="632.92" x2="490.60" y2="632.92" stroke="#111" stroke-width="0.5" />
<line x1="489.60" y1="637.47" x2="490.60" y2="637.47" stroke="#111" stroke-width="0.5" />
<text x="485.20" y="648.80" font-size="4.8" fill="#333" textLength="17.5" lengthAdjust="spacingAndGlyphs">Radiance</text>
<text x="485.20" y="654.80" font-size="4.8" fill="#333" textLength="24" lengthAdjust="spacingAndGlyphs">(p/s/cm²/sr)</text>
<rect x="485.6" y="659.4" width="33.6" height="19.2" fill="none" stroke="#222" stroke-width="0.8"/>
<text x="488.00" y="665.00" font-size="4.6" fill="#333" textLength="21" lengthAdjust="spacingAndGlyphs">Color Scale</text>
<text x="488.00" y="670.60" font-size="4.6" fill="#333" textLength="25" lengthAdjust="spacingAndGlyphs">Min = 2.00e4</text>
<text x="488.00" y="676.20" font-size="4.6" fill="#333" textLength="26" lengthAdjust="spacingAndGlyphs">Max = 2.00e9</text>
</svg>
</body></html>
